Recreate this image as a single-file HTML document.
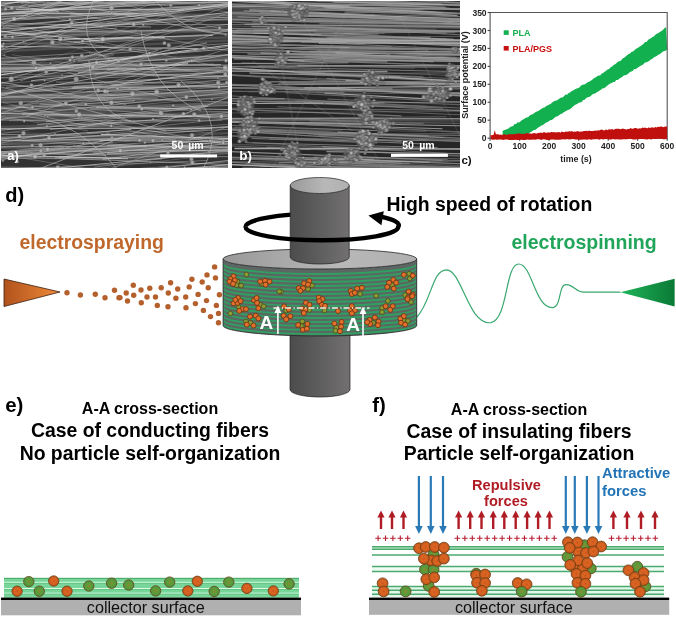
<!DOCTYPE html><html><head><meta charset="utf-8"><style>html,body{margin:0;padding:0;background:#fff;}svg{display:block;}text{font-family:"Liberation Sans",sans-serif;}</style></head><body>
<svg width="676" height="617" viewBox="0 0 676 617">
<defs><filter id="blr" x="-5%" y="-5%" width="110%" height="110%"><feGaussianBlur stdDeviation="0.75"/></filter><filter id="blr2" x="-5%" y="-5%" width="110%" height="110%"><feGaussianBlur stdDeviation="0.7"/></filter></defs>
<svg x="1" y="1" width="227" height="167" viewBox="0 0 227 167">
<g filter="url(#blr)"><rect x="-3" y="-3" width="233" height="173" fill="#303030"/>
<line x1="-5" y1="50.6" x2="232" y2="39.3" stroke="#707070" stroke-width="2.5" opacity="0.45"/>
<line x1="-5" y1="3.5" x2="232" y2="-0.8" stroke="#707070" stroke-width="2.0" opacity="0.45"/>
<line x1="-5" y1="0.8" x2="232" y2="-4.0" stroke="#707070" stroke-width="1.6" opacity="0.45"/>
<line x1="-5" y1="71.1" x2="232" y2="58.3" stroke="#707070" stroke-width="1.6" opacity="0.45"/>
<line x1="-5" y1="69.4" x2="232" y2="70.3" stroke="#707070" stroke-width="1.7" opacity="0.45"/>
<line x1="-5" y1="31.7" x2="232" y2="29.0" stroke="#707070" stroke-width="2.9" opacity="0.45"/>
<line x1="-5" y1="97.9" x2="232" y2="91.1" stroke="#707070" stroke-width="3.0" opacity="0.45"/>
<line x1="-5" y1="-1.3" x2="232" y2="0.2" stroke="#707070" stroke-width="1.9" opacity="0.45"/>
<line x1="-5" y1="17.0" x2="232" y2="5.1" stroke="#707070" stroke-width="2.0" opacity="0.45"/>
<line x1="-5" y1="142.6" x2="232" y2="131.9" stroke="#707070" stroke-width="2.4" opacity="0.45"/>
<line x1="-5" y1="109.5" x2="232" y2="102.2" stroke="#707070" stroke-width="2.3" opacity="0.45"/>
<line x1="-5" y1="1.7" x2="232" y2="-11.2" stroke="#707070" stroke-width="1.8" opacity="0.45"/>
<line x1="-5" y1="117.2" x2="232" y2="110.9" stroke="#707070" stroke-width="2.0" opacity="0.45"/>
<line x1="-5" y1="99.5" x2="232" y2="93.7" stroke="#707070" stroke-width="1.9" opacity="0.45"/>
<line x1="-5" y1="138.5" x2="232" y2="137.1" stroke="#707070" stroke-width="1.9" opacity="0.45"/>
<line x1="-5" y1="97.4" x2="232" y2="92.9" stroke="#707070" stroke-width="2.8" opacity="0.45"/>
<line x1="-5" y1="126.4" x2="232" y2="117.6" stroke="#707070" stroke-width="3.0" opacity="0.45"/>
<line x1="-5" y1="12.1" x2="232" y2="5.6" stroke="#707070" stroke-width="2.6" opacity="0.45"/>
<line x1="-5" y1="18.4" x2="232" y2="13.2" stroke="#707070" stroke-width="1.6" opacity="0.45"/>
<line x1="-5" y1="115.0" x2="232" y2="114.7" stroke="#707070" stroke-width="2.4" opacity="0.45"/>
<line x1="-5" y1="153.7" x2="232" y2="145.4" stroke="#707070" stroke-width="2.5" opacity="0.45"/>
<line x1="-5" y1="101.1" x2="232" y2="97.6" stroke="#707070" stroke-width="2.2" opacity="0.45"/>
<line x1="-5" y1="147.1" x2="232" y2="150.1" stroke="#707070" stroke-width="2.2" opacity="0.45"/>
<line x1="-5" y1="114.2" x2="232" y2="101.3" stroke="#707070" stroke-width="2.6" opacity="0.45"/>
<line x1="-5" y1="111.0" x2="232" y2="114.9" stroke="#707070" stroke-width="2.7" opacity="0.45"/>
<line x1="-5" y1="43.2" x2="232" y2="36.2" stroke="#707070" stroke-width="2.5" opacity="0.45"/>
<line x1="-5" y1="-5.8" x2="232" y2="-11.5" stroke="#707070" stroke-width="1.8" opacity="0.45"/>
<line x1="-5" y1="11.9" x2="232" y2="-1.0" stroke="#707070" stroke-width="2.7" opacity="0.45"/>
<line x1="-5" y1="14.2" x2="232" y2="4.6" stroke="#707070" stroke-width="2.1" opacity="0.45"/>
<line x1="-5" y1="153.0" x2="232" y2="140.4" stroke="#707070" stroke-width="2.2" opacity="0.45"/>
<line x1="-5" y1="92.7" x2="232" y2="94.6" stroke="#707070" stroke-width="2.7" opacity="0.45"/>
<line x1="-5" y1="151.6" x2="232" y2="142.6" stroke="#707070" stroke-width="2.1" opacity="0.45"/>
<line x1="-5" y1="57.1" x2="232" y2="59.0" stroke="#707070" stroke-width="2.9" opacity="0.45"/>
<line x1="-5" y1="18.2" x2="232" y2="7.4" stroke="#707070" stroke-width="1.8" opacity="0.45"/>
<line x1="-5" y1="33.6" x2="232" y2="28.4" stroke="#707070" stroke-width="2.4" opacity="0.45"/>
<line x1="-5" y1="39.1" x2="232" y2="25.2" stroke="#707070" stroke-width="2.1" opacity="0.45"/>
<line x1="-5" y1="59.1" x2="232" y2="55.2" stroke="#707070" stroke-width="2.9" opacity="0.45"/>
<line x1="-5" y1="119.1" x2="232" y2="114.4" stroke="#707070" stroke-width="2.4" opacity="0.45"/>
<line x1="-5" y1="116.4" x2="232" y2="103.4" stroke="#707070" stroke-width="2.8" opacity="0.45"/>
<line x1="-5" y1="135.9" x2="232" y2="137.6" stroke="#707070" stroke-width="2.7" opacity="0.45"/>
<line x1="-5" y1="63.4" x2="232" y2="56.6" stroke="#707070" stroke-width="1.7" opacity="0.45"/>
<line x1="-5" y1="108.6" x2="232" y2="95.7" stroke="#707070" stroke-width="1.6" opacity="0.45"/>
<line x1="-5" y1="29.0" x2="232" y2="18.0" stroke="#707070" stroke-width="2.0" opacity="0.45"/>
<line x1="-5" y1="-0.2" x2="232" y2="-14.2" stroke="#707070" stroke-width="1.7" opacity="0.45"/>
<line x1="-5" y1="9.0" x2="232" y2="1.5" stroke="#707070" stroke-width="1.5" opacity="0.45"/>
<line x1="-5" y1="153.5" x2="232" y2="150.6" stroke="#707070" stroke-width="1.7" opacity="0.45"/>
<line x1="-5" y1="37.2" x2="232" y2="29.4" stroke="#707070" stroke-width="2.0" opacity="0.45"/>
<line x1="-5" y1="13.0" x2="232" y2="14.3" stroke="#707070" stroke-width="3.0" opacity="0.45"/>
<line x1="-5" y1="77.1" x2="232" y2="71.8" stroke="#707070" stroke-width="1.6" opacity="0.45"/>
<line x1="-5" y1="9.1" x2="232" y2="1.3" stroke="#707070" stroke-width="1.9" opacity="0.45"/>
<line x1="102" y1="158.2" x2="358" y2="125.8" stroke="rgb(168,168,168)" stroke-width="0.93" opacity="0.82"/>
<line x1="-99" y1="142.1" x2="227" y2="135.3" stroke="rgb(216,216,216)" stroke-width="0.75" opacity="0.52"/>
<line x1="-43" y1="145.2" x2="146" y2="145.7" stroke="rgb(174,174,174)" stroke-width="0.99" opacity="0.78"/>
<line x1="-37" y1="138.0" x2="109" y2="131.8" stroke="rgb(153,153,153)" stroke-width="0.98" opacity="0.64"/>
<line x1="69" y1="14.0" x2="368" y2="-7.4" stroke="rgb(194,194,194)" stroke-width="1.08" opacity="0.60"/>
<line x1="-72" y1="20.0" x2="205" y2="-6.7" stroke="rgb(150,150,150)" stroke-width="0.81" opacity="0.71"/>
<line x1="92" y1="151.5" x2="405" y2="146.0" stroke="rgb(175,175,175)" stroke-width="0.81" opacity="0.52"/>
<line x1="107" y1="149.1" x2="334" y2="150.5" stroke="rgb(201,201,201)" stroke-width="0.96" opacity="0.48"/>
<line x1="18" y1="6.1" x2="260" y2="-86.2" stroke="rgb(168,168,168)" stroke-width="0.89" opacity="0.69"/>
<line x1="8" y1="77.7" x2="153" y2="35.6" stroke="rgb(163,163,163)" stroke-width="0.84" opacity="0.82"/>
<line x1="-71" y1="68.5" x2="125" y2="103.3" stroke="rgb(187,187,187)" stroke-width="0.83" opacity="0.76"/>
<line x1="-106" y1="44.0" x2="197" y2="47.6" stroke="rgb(208,208,208)" stroke-width="0.91" opacity="0.78"/>
<line x1="-89" y1="87.3" x2="84" y2="124.5" stroke="rgb(215,215,215)" stroke-width="0.56" opacity="0.63"/>
<line x1="-80" y1="11.6" x2="164" y2="13.0" stroke="rgb(165,165,165)" stroke-width="0.86" opacity="0.58"/>
<line x1="-95" y1="87.7" x2="168" y2="88.5" stroke="rgb(181,181,181)" stroke-width="0.66" opacity="0.47"/>
<line x1="89" y1="-7.8" x2="243" y2="-27.1" stroke="rgb(191,191,191)" stroke-width="0.89" opacity="0.65"/>
<line x1="5" y1="86.3" x2="250" y2="73.2" stroke="rgb(181,181,181)" stroke-width="0.93" opacity="0.80"/>
<line x1="100" y1="183.9" x2="425" y2="172.5" stroke="rgb(167,167,167)" stroke-width="0.78" opacity="0.61"/>
<line x1="-70" y1="41.7" x2="136" y2="29.9" stroke="rgb(165,165,165)" stroke-width="1.04" opacity="0.51"/>
<line x1="86" y1="132.6" x2="439" y2="95.3" stroke="rgb(178,178,178)" stroke-width="0.96" opacity="0.49"/>
<line x1="-68" y1="170.9" x2="228" y2="166.0" stroke="rgb(215,215,215)" stroke-width="0.77" opacity="0.62"/>
<line x1="-41" y1="51.0" x2="200" y2="34.6" stroke="rgb(152,152,152)" stroke-width="0.76" opacity="0.66"/>
<line x1="94" y1="37.1" x2="285" y2="-24.0" stroke="rgb(163,163,163)" stroke-width="0.60" opacity="0.56"/>
<line x1="71" y1="175.6" x2="398" y2="175.1" stroke="rgb(183,183,183)" stroke-width="0.77" opacity="0.66"/>
<line x1="-55" y1="86.9" x2="261" y2="63.4" stroke="rgb(173,173,173)" stroke-width="0.78" opacity="0.48"/>
<line x1="-100" y1="183.0" x2="228" y2="185.1" stroke="rgb(158,158,158)" stroke-width="0.70" opacity="0.50"/>
<line x1="94" y1="-27.4" x2="371" y2="-57.2" stroke="rgb(155,155,155)" stroke-width="0.84" opacity="0.55"/>
<line x1="-73" y1="-5.2" x2="136" y2="-30.5" stroke="rgb(189,189,189)" stroke-width="0.84" opacity="0.53"/>
<line x1="68" y1="71.2" x2="426" y2="41.0" stroke="rgb(154,154,154)" stroke-width="0.56" opacity="0.74"/>
<line x1="98" y1="95.1" x2="262" y2="87.0" stroke="rgb(205,205,205)" stroke-width="0.91" opacity="0.67"/>
<line x1="-70" y1="171.7" x2="121" y2="136.6" stroke="rgb(175,175,175)" stroke-width="1.01" opacity="0.73"/>
<line x1="-107" y1="114.4" x2="61" y2="102.4" stroke="rgb(159,159,159)" stroke-width="0.89" opacity="0.80"/>
<line x1="-31" y1="67.8" x2="220" y2="63.5" stroke="rgb(186,186,186)" stroke-width="0.88" opacity="0.73"/>
<line x1="-119" y1="-19.7" x2="101" y2="-38.3" stroke="rgb(192,192,192)" stroke-width="1.08" opacity="0.67"/>
<line x1="-37" y1="25.5" x2="103" y2="-0.2" stroke="rgb(198,198,198)" stroke-width="0.60" opacity="0.56"/>
<line x1="-99" y1="118.9" x2="221" y2="119.5" stroke="rgb(168,168,168)" stroke-width="0.77" opacity="0.47"/>
<line x1="17" y1="-24.9" x2="273" y2="-48.1" stroke="rgb(169,169,169)" stroke-width="0.91" opacity="0.74"/>
<line x1="110" y1="169.6" x2="283" y2="156.7" stroke="rgb(168,168,168)" stroke-width="0.57" opacity="0.78"/>
<line x1="70" y1="172.5" x2="240" y2="171.6" stroke="rgb(217,217,217)" stroke-width="0.96" opacity="0.68"/>
<line x1="66" y1="154.5" x2="363" y2="150.6" stroke="rgb(179,179,179)" stroke-width="0.60" opacity="0.47"/>
<line x1="-15" y1="114.6" x2="137" y2="94.0" stroke="rgb(152,152,152)" stroke-width="0.89" opacity="0.72"/>
<line x1="55" y1="81.1" x2="305" y2="82.5" stroke="rgb(218,218,218)" stroke-width="0.60" opacity="0.66"/>
<line x1="78" y1="139.3" x2="269" y2="140.7" stroke="rgb(176,176,176)" stroke-width="0.68" opacity="0.71"/>
<line x1="93" y1="74.5" x2="296" y2="4.1" stroke="rgb(155,155,155)" stroke-width="0.89" opacity="0.71"/>
<line x1="54" y1="-12.4" x2="261" y2="-30.4" stroke="rgb(167,167,167)" stroke-width="0.56" opacity="0.47"/>
<line x1="38" y1="31.0" x2="242" y2="28.5" stroke="rgb(216,216,216)" stroke-width="0.71" opacity="0.64"/>
<line x1="-47" y1="144.1" x2="112" y2="141.7" stroke="rgb(210,210,210)" stroke-width="0.56" opacity="0.63"/>
<line x1="-57" y1="156.1" x2="129" y2="140.2" stroke="rgb(176,176,176)" stroke-width="0.59" opacity="0.49"/>
<line x1="21" y1="139.7" x2="300" y2="120.5" stroke="rgb(185,185,185)" stroke-width="1.04" opacity="0.73"/>
<line x1="-114" y1="22.5" x2="27" y2="14.1" stroke="rgb(212,212,212)" stroke-width="0.92" opacity="0.61"/>
<line x1="-92" y1="135.1" x2="121" y2="121.0" stroke="rgb(191,191,191)" stroke-width="0.96" opacity="0.79"/>
<line x1="91" y1="-2.8" x2="294" y2="17.4" stroke="rgb(197,197,197)" stroke-width="0.59" opacity="0.61"/>
<line x1="56" y1="167.5" x2="384" y2="176.4" stroke="rgb(185,185,185)" stroke-width="0.61" opacity="0.78"/>
<line x1="-58" y1="34.8" x2="194" y2="-22.1" stroke="rgb(174,174,174)" stroke-width="0.98" opacity="0.76"/>
<line x1="-27" y1="67.1" x2="306" y2="66.9" stroke="rgb(220,220,220)" stroke-width="0.85" opacity="0.74"/>
<line x1="56" y1="-18.8" x2="338" y2="-33.8" stroke="rgb(186,186,186)" stroke-width="0.82" opacity="0.81"/>
<line x1="-54" y1="94.9" x2="142" y2="83.2" stroke="rgb(183,183,183)" stroke-width="0.77" opacity="0.55"/>
<line x1="30" y1="79.7" x2="187" y2="62.5" stroke="rgb(214,214,214)" stroke-width="1.05" opacity="0.65"/>
<line x1="-15" y1="19.9" x2="156" y2="70.7" stroke="rgb(174,174,174)" stroke-width="0.68" opacity="0.52"/>
<line x1="69" y1="96.2" x2="253" y2="83.8" stroke="rgb(152,152,152)" stroke-width="0.96" opacity="0.62"/>
<line x1="-41" y1="64.0" x2="113" y2="53.8" stroke="rgb(185,185,185)" stroke-width="0.87" opacity="0.59"/>
<line x1="78" y1="125.9" x2="239" y2="126.6" stroke="rgb(181,181,181)" stroke-width="0.76" opacity="0.71"/>
<line x1="106" y1="68.0" x2="274" y2="69.4" stroke="rgb(204,204,204)" stroke-width="0.94" opacity="0.81"/>
<line x1="-29" y1="77.4" x2="315" y2="32.7" stroke="rgb(217,217,217)" stroke-width="1.02" opacity="0.84"/>
<line x1="2" y1="26.4" x2="292" y2="-3.7" stroke="rgb(208,208,208)" stroke-width="0.60" opacity="0.76"/>
<line x1="-111" y1="-29.7" x2="186" y2="-39.6" stroke="rgb(166,166,166)" stroke-width="0.89" opacity="0.66"/>
<line x1="-50" y1="69.3" x2="298" y2="-45.5" stroke="rgb(174,174,174)" stroke-width="0.76" opacity="0.54"/>
<line x1="-12" y1="106.4" x2="339" y2="78.8" stroke="rgb(181,181,181)" stroke-width="0.81" opacity="0.54"/>
<line x1="-48" y1="26.1" x2="97" y2="39.6" stroke="rgb(213,213,213)" stroke-width="1.04" opacity="0.71"/>
<line x1="-34" y1="-11.6" x2="215" y2="-26.0" stroke="rgb(193,193,193)" stroke-width="0.95" opacity="0.59"/>
<line x1="77" y1="60.0" x2="232" y2="47.5" stroke="rgb(213,213,213)" stroke-width="1.08" opacity="0.57"/>
<line x1="58" y1="156.1" x2="262" y2="137.2" stroke="rgb(213,213,213)" stroke-width="0.89" opacity="0.81"/>
<line x1="19" y1="80.1" x2="362" y2="-43.5" stroke="rgb(156,156,156)" stroke-width="0.67" opacity="0.84"/>
<line x1="-28" y1="2.2" x2="309" y2="-38.2" stroke="rgb(190,190,190)" stroke-width="0.95" opacity="0.85"/>
<line x1="99" y1="181.5" x2="403" y2="151.5" stroke="rgb(154,154,154)" stroke-width="0.72" opacity="0.74"/>
<line x1="-95" y1="160.5" x2="63" y2="146.3" stroke="rgb(160,160,160)" stroke-width="0.74" opacity="0.83"/>
<line x1="-37" y1="-1.9" x2="284" y2="-83.7" stroke="rgb(205,205,205)" stroke-width="0.60" opacity="0.73"/>
<line x1="-45" y1="14.4" x2="258" y2="-1.9" stroke="rgb(210,210,210)" stroke-width="0.57" opacity="0.61"/>
<line x1="-112" y1="154.3" x2="42" y2="97.2" stroke="rgb(157,157,157)" stroke-width="0.69" opacity="0.75"/>
<line x1="104" y1="174.0" x2="379" y2="150.9" stroke="rgb(183,183,183)" stroke-width="0.96" opacity="0.73"/>
<line x1="19" y1="179.8" x2="336" y2="177.5" stroke="rgb(158,158,158)" stroke-width="0.56" opacity="0.54"/>
<line x1="-30" y1="77.9" x2="165" y2="130.1" stroke="rgb(205,205,205)" stroke-width="1.00" opacity="0.50"/>
<line x1="-49" y1="82.7" x2="243" y2="91.0" stroke="rgb(169,169,169)" stroke-width="0.88" opacity="0.58"/>
<line x1="-102" y1="42.5" x2="82" y2="43.1" stroke="rgb(170,170,170)" stroke-width="0.69" opacity="0.48"/>
<line x1="109" y1="-22.3" x2="443" y2="-47.3" stroke="rgb(159,159,159)" stroke-width="0.70" opacity="0.48"/>
<line x1="-16" y1="-8.1" x2="176" y2="-9.9" stroke="rgb(203,203,203)" stroke-width="0.80" opacity="0.81"/>
<line x1="57" y1="23.3" x2="369" y2="23.8" stroke="rgb(187,187,187)" stroke-width="0.71" opacity="0.68"/>
<line x1="-62" y1="54.7" x2="132" y2="36.0" stroke="rgb(169,169,169)" stroke-width="0.70" opacity="0.81"/>
<line x1="-63" y1="12.7" x2="193" y2="-9.6" stroke="rgb(162,162,162)" stroke-width="0.91" opacity="0.85"/>
<line x1="76" y1="-6.8" x2="417" y2="-3.6" stroke="rgb(155,155,155)" stroke-width="1.03" opacity="0.54"/>
<line x1="-75" y1="-18.6" x2="82" y2="-16.9" stroke="rgb(215,215,215)" stroke-width="1.03" opacity="0.63"/>
<line x1="-95" y1="29.0" x2="176" y2="100.0" stroke="rgb(194,194,194)" stroke-width="0.67" opacity="0.60"/>
<line x1="20" y1="2.1" x2="303" y2="-22.5" stroke="rgb(176,176,176)" stroke-width="1.00" opacity="0.78"/>
<line x1="-102" y1="62.8" x2="45" y2="59.3" stroke="rgb(213,213,213)" stroke-width="0.85" opacity="0.48"/>
<line x1="29" y1="-7.0" x2="189" y2="-12.8" stroke="rgb(170,170,170)" stroke-width="0.77" opacity="0.56"/>
<line x1="-108" y1="194.3" x2="196" y2="176.4" stroke="rgb(195,195,195)" stroke-width="0.78" opacity="0.46"/>
<line x1="-29" y1="144.0" x2="200" y2="155.7" stroke="rgb(150,150,150)" stroke-width="0.79" opacity="0.51"/>
<line x1="-35" y1="-4.2" x2="275" y2="-14.1" stroke="rgb(166,166,166)" stroke-width="0.56" opacity="0.67"/>
<line x1="25" y1="115.4" x2="247" y2="40.6" stroke="rgb(214,214,214)" stroke-width="0.64" opacity="0.59"/>
<line x1="-30" y1="6.7" x2="275" y2="-29.5" stroke="rgb(175,175,175)" stroke-width="0.72" opacity="0.78"/>
<line x1="22" y1="-20.1" x2="302" y2="-70.5" stroke="rgb(161,161,161)" stroke-width="1.05" opacity="0.70"/>
<line x1="-68" y1="157.2" x2="161" y2="158.0" stroke="rgb(175,175,175)" stroke-width="1.01" opacity="0.52"/>
<line x1="-30" y1="19.5" x2="137" y2="12.5" stroke="rgb(181,181,181)" stroke-width="1.08" opacity="0.78"/>
<line x1="37" y1="13.7" x2="324" y2="68.2" stroke="rgb(191,191,191)" stroke-width="0.61" opacity="0.69"/>
<line x1="-22" y1="94.9" x2="246" y2="74.0" stroke="rgb(204,204,204)" stroke-width="0.76" opacity="0.60"/>
<line x1="110" y1="84.3" x2="353" y2="53.0" stroke="rgb(207,207,207)" stroke-width="0.97" opacity="0.76"/>
<line x1="-95" y1="74.0" x2="73" y2="65.7" stroke="rgb(205,205,205)" stroke-width="0.75" opacity="0.77"/>
<line x1="-90" y1="84.5" x2="253" y2="42.3" stroke="rgb(190,190,190)" stroke-width="0.98" opacity="0.65"/>
<line x1="102" y1="-17.7" x2="272" y2="-28.9" stroke="rgb(158,158,158)" stroke-width="1.10" opacity="0.74"/>
<line x1="-5" y1="155.0" x2="345" y2="167.9" stroke="rgb(171,171,171)" stroke-width="0.93" opacity="0.74"/>
<line x1="-61" y1="20.2" x2="150" y2="26.0" stroke="rgb(185,185,185)" stroke-width="1.05" opacity="0.63"/>
<line x1="18" y1="27.7" x2="294" y2="10.1" stroke="rgb(180,180,180)" stroke-width="0.73" opacity="0.46"/>
<line x1="39" y1="11.3" x2="376" y2="21.2" stroke="rgb(171,171,171)" stroke-width="0.99" opacity="0.56"/>
<line x1="106" y1="144.4" x2="345" y2="148.2" stroke="rgb(216,216,216)" stroke-width="0.87" opacity="0.80"/>
<line x1="-28" y1="-6.3" x2="288" y2="6.6" stroke="rgb(183,183,183)" stroke-width="0.76" opacity="0.60"/>
<line x1="-66" y1="3.2" x2="209" y2="-28.8" stroke="rgb(156,156,156)" stroke-width="0.71" opacity="0.66"/>
<line x1="97" y1="40.4" x2="434" y2="110.9" stroke="rgb(150,150,150)" stroke-width="0.96" opacity="0.54"/>
<line x1="-35" y1="36.1" x2="116" y2="27.2" stroke="rgb(212,212,212)" stroke-width="0.67" opacity="0.71"/>
<line x1="-95" y1="-24.9" x2="123" y2="-40.2" stroke="rgb(178,178,178)" stroke-width="0.78" opacity="0.57"/>
<line x1="-83" y1="0.4" x2="60" y2="1.9" stroke="rgb(181,181,181)" stroke-width="0.94" opacity="0.63"/>
<line x1="-57" y1="-15.5" x2="262" y2="-20.9" stroke="rgb(151,151,151)" stroke-width="0.58" opacity="0.78"/>
<line x1="21" y1="172.6" x2="274" y2="164.6" stroke="rgb(213,213,213)" stroke-width="0.69" opacity="0.81"/>
<line x1="-65" y1="-20.0" x2="88" y2="-29.3" stroke="rgb(163,163,163)" stroke-width="0.56" opacity="0.67"/>
<line x1="22" y1="183.6" x2="274" y2="159.4" stroke="rgb(203,203,203)" stroke-width="1.00" opacity="0.52"/>
<line x1="88" y1="40.2" x2="400" y2="2.2" stroke="rgb(218,218,218)" stroke-width="0.55" opacity="0.79"/>
<line x1="-14" y1="139.2" x2="175" y2="138.4" stroke="rgb(163,163,163)" stroke-width="0.69" opacity="0.71"/>
<line x1="100" y1="-2.0" x2="298" y2="47.0" stroke="rgb(156,156,156)" stroke-width="0.70" opacity="0.67"/>
<line x1="-58" y1="69.0" x2="223" y2="59.5" stroke="rgb(177,177,177)" stroke-width="0.60" opacity="0.65"/>
<line x1="-73" y1="8.5" x2="102" y2="41.7" stroke="rgb(191,191,191)" stroke-width="0.66" opacity="0.61"/>
<line x1="95" y1="106.5" x2="451" y2="111.8" stroke="rgb(218,218,218)" stroke-width="0.81" opacity="0.79"/>
<line x1="49" y1="128.4" x2="315" y2="103.4" stroke="rgb(189,189,189)" stroke-width="0.98" opacity="0.61"/>
<line x1="-112" y1="102.9" x2="52" y2="86.3" stroke="rgb(170,170,170)" stroke-width="0.74" opacity="0.51"/>
<line x1="28" y1="-23.5" x2="321" y2="-27.1" stroke="rgb(155,155,155)" stroke-width="0.59" opacity="0.69"/>
<line x1="88" y1="52.5" x2="243" y2="79.3" stroke="rgb(199,199,199)" stroke-width="0.61" opacity="0.53"/>
<line x1="70" y1="-4.6" x2="349" y2="-0.6" stroke="rgb(186,186,186)" stroke-width="0.81" opacity="0.50"/>
<line x1="-41" y1="149.8" x2="156" y2="134.0" stroke="rgb(194,194,194)" stroke-width="0.69" opacity="0.56"/>
<line x1="105" y1="132.5" x2="356" y2="113.6" stroke="rgb(186,186,186)" stroke-width="0.89" opacity="0.46"/>
<line x1="-39" y1="63.7" x2="256" y2="64.2" stroke="rgb(218,218,218)" stroke-width="0.86" opacity="0.74"/>
<line x1="-18" y1="157.9" x2="237" y2="137.2" stroke="rgb(186,186,186)" stroke-width="0.97" opacity="0.84"/>
<line x1="66" y1="-29.0" x2="247" y2="-37.4" stroke="rgb(213,213,213)" stroke-width="0.88" opacity="0.83"/>
<line x1="70" y1="86.9" x2="417" y2="51.3" stroke="rgb(179,179,179)" stroke-width="0.82" opacity="0.49"/>
<line x1="43" y1="114.5" x2="356" y2="115.7" stroke="rgb(191,191,191)" stroke-width="0.75" opacity="0.61"/>
<line x1="87" y1="59.6" x2="233" y2="10.1" stroke="rgb(176,176,176)" stroke-width="0.72" opacity="0.62"/>
<line x1="27" y1="93.7" x2="375" y2="106.6" stroke="rgb(166,166,166)" stroke-width="0.84" opacity="0.75"/>
<line x1="-44" y1="140.9" x2="130" y2="128.6" stroke="rgb(207,207,207)" stroke-width="0.91" opacity="0.75"/>
<line x1="15" y1="8.5" x2="183" y2="8.7" stroke="rgb(209,209,209)" stroke-width="0.90" opacity="0.73"/>
<line x1="73" y1="85.2" x2="349" y2="84.8" stroke="rgb(169,169,169)" stroke-width="1.09" opacity="0.74"/>
<line x1="103" y1="106.9" x2="300" y2="89.2" stroke="rgb(163,163,163)" stroke-width="0.64" opacity="0.71"/>
<line x1="-49" y1="14.4" x2="156" y2="-7.2" stroke="rgb(185,185,185)" stroke-width="0.66" opacity="0.71"/>
<line x1="-112" y1="-5.7" x2="116" y2="-20.3" stroke="rgb(205,205,205)" stroke-width="0.93" opacity="0.65"/>
<line x1="21" y1="113.5" x2="250" y2="89.3" stroke="rgb(181,181,181)" stroke-width="1.05" opacity="0.62"/>
<line x1="-67" y1="100.3" x2="232" y2="82.8" stroke="rgb(179,179,179)" stroke-width="0.92" opacity="0.71"/>
<line x1="-97" y1="73.0" x2="135" y2="67.6" stroke="rgb(201,201,201)" stroke-width="0.94" opacity="0.70"/>
<line x1="25" y1="26.8" x2="255" y2="14.7" stroke="rgb(173,173,173)" stroke-width="1.04" opacity="0.58"/>
<line x1="-95" y1="-27.6" x2="100" y2="18.4" stroke="rgb(177,177,177)" stroke-width="0.64" opacity="0.76"/>
<line x1="14" y1="183.5" x2="273" y2="154.3" stroke="rgb(210,210,210)" stroke-width="0.83" opacity="0.71"/>
<line x1="101" y1="158.2" x2="288" y2="147.0" stroke="rgb(173,173,173)" stroke-width="0.77" opacity="0.76"/>
<line x1="-107" y1="-2.2" x2="94" y2="-32.5" stroke="rgb(201,201,201)" stroke-width="0.58" opacity="0.48"/>
<line x1="15" y1="177.8" x2="180" y2="175.3" stroke="rgb(188,188,188)" stroke-width="0.96" opacity="0.83"/>
<line x1="-28" y1="89.6" x2="158" y2="90.8" stroke="rgb(166,166,166)" stroke-width="1.06" opacity="0.48"/>
<line x1="48" y1="151.2" x2="368" y2="144.6" stroke="rgb(168,168,168)" stroke-width="0.74" opacity="0.71"/>
<line x1="-51" y1="155.9" x2="209" y2="137.0" stroke="rgb(166,166,166)" stroke-width="0.98" opacity="0.64"/>
<line x1="41" y1="147.9" x2="397" y2="144.2" stroke="rgb(173,173,173)" stroke-width="0.81" opacity="0.77"/>
<line x1="-45" y1="151.4" x2="201" y2="146.7" stroke="rgb(160,160,160)" stroke-width="0.91" opacity="0.59"/>
<line x1="73" y1="180.8" x2="413" y2="58.7" stroke="rgb(167,167,167)" stroke-width="0.84" opacity="0.59"/>
<line x1="-103" y1="102.2" x2="101" y2="82.9" stroke="rgb(162,162,162)" stroke-width="0.87" opacity="0.79"/>
<line x1="-71" y1="12.1" x2="157" y2="12.9" stroke="rgb(218,218,218)" stroke-width="0.64" opacity="0.81"/>
<line x1="89" y1="108.1" x2="402" y2="129.4" stroke="rgb(188,188,188)" stroke-width="0.66" opacity="0.73"/>
<line x1="86" y1="90.5" x2="348" y2="76.0" stroke="rgb(183,183,183)" stroke-width="0.78" opacity="0.78"/>
<line x1="91" y1="77.4" x2="386" y2="63.4" stroke="rgb(181,181,181)" stroke-width="0.82" opacity="0.67"/>
<line x1="-11" y1="165.9" x2="253" y2="169.3" stroke="rgb(187,187,187)" stroke-width="1.01" opacity="0.60"/>
<line x1="29" y1="65.1" x2="309" y2="-32.1" stroke="rgb(153,153,153)" stroke-width="0.56" opacity="0.47"/>
<line x1="-98" y1="137.2" x2="148" y2="178.1" stroke="rgb(168,168,168)" stroke-width="0.57" opacity="0.74"/>
<line x1="-35" y1="111.9" x2="210" y2="116.0" stroke="rgb(217,217,217)" stroke-width="0.85" opacity="0.81"/>
<line x1="-108" y1="34.5" x2="96" y2="16.7" stroke="rgb(195,195,195)" stroke-width="1.01" opacity="0.61"/>
<line x1="108" y1="84.4" x2="392" y2="71.9" stroke="rgb(165,165,165)" stroke-width="0.73" opacity="0.58"/>
<line x1="63" y1="37.9" x2="212" y2="34.6" stroke="rgb(220,220,220)" stroke-width="1.04" opacity="0.67"/>
<line x1="-76" y1="-18.7" x2="267" y2="-62.9" stroke="rgb(157,157,157)" stroke-width="0.98" opacity="0.81"/>
<line x1="43" y1="108.9" x2="314" y2="102.5" stroke="rgb(160,160,160)" stroke-width="0.67" opacity="0.72"/>
<line x1="-78" y1="73.9" x2="70" y2="25.2" stroke="rgb(162,162,162)" stroke-width="1.05" opacity="0.71"/>
<line x1="11" y1="53.7" x2="208" y2="83.4" stroke="rgb(188,188,188)" stroke-width="0.65" opacity="0.46"/>
<line x1="93" y1="-25.4" x2="343" y2="-33.3" stroke="rgb(216,216,216)" stroke-width="0.57" opacity="0.50"/>
<line x1="-16" y1="153.9" x2="127" y2="157.7" stroke="rgb(199,199,199)" stroke-width="0.88" opacity="0.85"/>
<line x1="8" y1="119.7" x2="166" y2="119.8" stroke="rgb(210,210,210)" stroke-width="0.67" opacity="0.51"/>
<line x1="-92" y1="-26.5" x2="261" y2="-31.3" stroke="rgb(161,161,161)" stroke-width="0.67" opacity="0.50"/>
<line x1="-15" y1="77.2" x2="289" y2="67.1" stroke="rgb(156,156,156)" stroke-width="0.75" opacity="0.75"/>
<line x1="-52" y1="127.7" x2="211" y2="127.5" stroke="rgb(213,213,213)" stroke-width="0.80" opacity="0.82"/>
<line x1="-117" y1="27.7" x2="26" y2="42.3" stroke="rgb(160,160,160)" stroke-width="0.76" opacity="0.57"/>
<line x1="22" y1="106.2" x2="232" y2="144.9" stroke="rgb(206,206,206)" stroke-width="0.81" opacity="0.52"/>
<line x1="-82" y1="189.4" x2="235" y2="199.5" stroke="rgb(211,211,211)" stroke-width="0.76" opacity="0.76"/>
<line x1="-52" y1="184.5" x2="102" y2="184.0" stroke="rgb(192,192,192)" stroke-width="1.03" opacity="0.74"/>
<line x1="17" y1="-26.5" x2="371" y2="-22.4" stroke="rgb(181,181,181)" stroke-width="0.76" opacity="0.72"/>
<line x1="-54" y1="106.6" x2="87" y2="129.8" stroke="rgb(183,183,183)" stroke-width="0.70" opacity="0.51"/>
<line x1="-53" y1="179.0" x2="118" y2="204.3" stroke="rgb(168,168,168)" stroke-width="0.70" opacity="0.79"/>
<line x1="-39" y1="153.2" x2="120" y2="157.2" stroke="rgb(220,220,220)" stroke-width="0.82" opacity="0.60"/>
<line x1="-48" y1="148.8" x2="105" y2="154.5" stroke="rgb(200,200,200)" stroke-width="0.81" opacity="0.53"/>
<line x1="-13" y1="27.8" x2="147" y2="52.4" stroke="rgb(195,195,195)" stroke-width="0.97" opacity="0.54"/>
<line x1="2" y1="101.6" x2="247" y2="155.3" stroke="rgb(175,175,175)" stroke-width="0.65" opacity="0.53"/>
<line x1="12" y1="11.0" x2="240" y2="-4.6" stroke="rgb(216,216,216)" stroke-width="1.02" opacity="0.55"/>
<line x1="-33" y1="179.4" x2="209" y2="183.6" stroke="rgb(160,160,160)" stroke-width="0.64" opacity="0.69"/>
<line x1="-112" y1="48.3" x2="246" y2="3.0" stroke="rgb(212,212,212)" stroke-width="0.87" opacity="0.54"/>
<line x1="-16" y1="180.1" x2="255" y2="149.4" stroke="rgb(166,166,166)" stroke-width="0.69" opacity="0.47"/>
<line x1="-108" y1="15.6" x2="155" y2="-14.8" stroke="rgb(208,208,208)" stroke-width="0.82" opacity="0.79"/>
<line x1="95" y1="173.1" x2="391" y2="187.3" stroke="rgb(161,161,161)" stroke-width="0.69" opacity="0.68"/>
<line x1="-28" y1="115.4" x2="210" y2="131.8" stroke="rgb(170,170,170)" stroke-width="0.75" opacity="0.54"/>
<line x1="100" y1="133.6" x2="253" y2="138.2" stroke="rgb(220,220,220)" stroke-width="1.05" opacity="0.78"/>
<line x1="31" y1="-19.3" x2="388" y2="15.2" stroke="rgb(157,157,157)" stroke-width="0.61" opacity="0.58"/>
<line x1="18" y1="-28.7" x2="255" y2="-29.4" stroke="rgb(163,163,163)" stroke-width="0.81" opacity="0.60"/>
<line x1="-17" y1="58.5" x2="301" y2="37.7" stroke="rgb(151,151,151)" stroke-width="0.81" opacity="0.82"/>
<line x1="-102" y1="151.3" x2="174" y2="154.5" stroke="rgb(197,197,197)" stroke-width="1.04" opacity="0.51"/>
<line x1="77" y1="71.5" x2="355" y2="79.3" stroke="rgb(207,207,207)" stroke-width="1.08" opacity="0.58"/>
<line x1="-42" y1="23.1" x2="259" y2="2.6" stroke="rgb(173,173,173)" stroke-width="0.94" opacity="0.67"/>
<line x1="-24" y1="2.8" x2="150" y2="-34.4" stroke="rgb(184,184,184)" stroke-width="0.86" opacity="0.57"/>
<line x1="-13" y1="152.5" x2="233" y2="125.1" stroke="rgb(169,169,169)" stroke-width="1.09" opacity="0.47"/>
<line x1="-9" y1="173.2" x2="194" y2="154.1" stroke="rgb(182,182,182)" stroke-width="0.97" opacity="0.84"/>
<line x1="-64" y1="68.1" x2="161" y2="47.9" stroke="rgb(203,203,203)" stroke-width="1.04" opacity="0.47"/>
<line x1="-116" y1="134.9" x2="201" y2="146.5" stroke="rgb(193,193,193)" stroke-width="0.83" opacity="0.63"/>
<line x1="-36" y1="149.2" x2="113" y2="119.5" stroke="rgb(202,202,202)" stroke-width="0.67" opacity="0.68"/>
<line x1="46" y1="1.3" x2="229" y2="1.5" stroke="rgb(160,160,160)" stroke-width="1.01" opacity="0.81"/>
<line x1="-88" y1="135.9" x2="199" y2="56.2" stroke="rgb(174,174,174)" stroke-width="0.87" opacity="0.53"/>
<line x1="49" y1="-15.1" x2="201" y2="-24.3" stroke="rgb(194,194,194)" stroke-width="0.73" opacity="0.79"/>
<line x1="93" y1="166.2" x2="337" y2="135.1" stroke="rgb(184,184,184)" stroke-width="0.69" opacity="0.68"/>
<line x1="14" y1="193.8" x2="343" y2="190.3" stroke="rgb(195,195,195)" stroke-width="0.84" opacity="0.63"/>
<line x1="71" y1="87.0" x2="401" y2="84.2" stroke="rgb(191,191,191)" stroke-width="0.98" opacity="0.80"/>
<line x1="-95" y1="100.8" x2="206" y2="41.9" stroke="rgb(207,207,207)" stroke-width="0.83" opacity="0.66"/>
<line x1="-68" y1="92.0" x2="112" y2="98.2" stroke="rgb(163,163,163)" stroke-width="0.72" opacity="0.67"/>
<line x1="52" y1="186.9" x2="250" y2="192.3" stroke="rgb(209,209,209)" stroke-width="0.84" opacity="0.73"/>
<line x1="-109" y1="-6.6" x2="58" y2="10.4" stroke="rgb(213,213,213)" stroke-width="0.87" opacity="0.75"/>
<line x1="6" y1="-5.0" x2="196" y2="-1.2" stroke="rgb(179,179,179)" stroke-width="0.63" opacity="0.68"/>
<line x1="99" y1="139.5" x2="324" y2="141.8" stroke="rgb(203,203,203)" stroke-width="0.88" opacity="0.69"/>
<line x1="-35" y1="-21.8" x2="193" y2="-104.7" stroke="rgb(192,192,192)" stroke-width="0.94" opacity="0.79"/>
<line x1="-26" y1="98.1" x2="237" y2="51.9" stroke="rgb(191,191,191)" stroke-width="0.83" opacity="0.83"/>
<line x1="28" y1="182.1" x2="248" y2="169.3" stroke="rgb(217,217,217)" stroke-width="0.65" opacity="0.58"/>
<line x1="-22" y1="15.6" x2="206" y2="-5.3" stroke="rgb(208,208,208)" stroke-width="0.90" opacity="0.77"/>
<line x1="30" y1="170.8" x2="228" y2="96.1" stroke="rgb(184,184,184)" stroke-width="0.90" opacity="0.77"/>
<line x1="-117" y1="-21.9" x2="75" y2="-42.9" stroke="rgb(155,155,155)" stroke-width="0.71" opacity="0.57"/>
<line x1="103" y1="117.0" x2="356" y2="109.7" stroke="rgb(184,184,184)" stroke-width="0.60" opacity="0.69"/>
<line x1="87" y1="181.5" x2="428" y2="166.9" stroke="rgb(186,186,186)" stroke-width="0.70" opacity="0.74"/>
<line x1="42" y1="138.1" x2="231" y2="128.1" stroke="rgb(199,199,199)" stroke-width="0.66" opacity="0.73"/>
<line x1="-10" y1="74.6" x2="198" y2="69.2" stroke="rgb(181,181,181)" stroke-width="0.73" opacity="0.53"/>
<line x1="96" y1="93.9" x2="272" y2="72.4" stroke="rgb(180,180,180)" stroke-width="0.73" opacity="0.58"/>
<line x1="-107" y1="31.3" x2="38" y2="-4.7" stroke="rgb(220,220,220)" stroke-width="0.59" opacity="0.80"/>
<line x1="-17" y1="69.9" x2="285" y2="50.5" stroke="rgb(163,163,163)" stroke-width="0.84" opacity="0.85"/>
<line x1="36" y1="123.8" x2="207" y2="105.3" stroke="rgb(175,175,175)" stroke-width="0.89" opacity="0.79"/>
<line x1="54" y1="156.4" x2="361" y2="155.1" stroke="rgb(210,210,210)" stroke-width="0.70" opacity="0.70"/>
<line x1="-96" y1="113.5" x2="134" y2="99.7" stroke="rgb(220,220,220)" stroke-width="0.87" opacity="0.65"/>
<line x1="63" y1="188.5" x2="395" y2="169.0" stroke="rgb(164,164,164)" stroke-width="0.76" opacity="0.63"/>
<line x1="-29" y1="73.9" x2="233" y2="52.9" stroke="rgb(199,199,199)" stroke-width="0.91" opacity="0.45"/>
<line x1="-50" y1="139.3" x2="208" y2="104.8" stroke="rgb(168,168,168)" stroke-width="0.79" opacity="0.60"/>
<line x1="106" y1="22.6" x2="380" y2="-23.6" stroke="rgb(181,181,181)" stroke-width="1.08" opacity="0.53"/>
<line x1="-109" y1="66.8" x2="155" y2="-36.9" stroke="rgb(213,213,213)" stroke-width="0.71" opacity="0.66"/>
<line x1="73" y1="40.9" x2="373" y2="24.2" stroke="rgb(205,205,205)" stroke-width="0.76" opacity="0.59"/>
<line x1="38" y1="105.0" x2="294" y2="113.0" stroke="rgb(162,162,162)" stroke-width="0.78" opacity="0.65"/>
<line x1="-76" y1="117.2" x2="157" y2="49.3" stroke="rgb(201,201,201)" stroke-width="0.79" opacity="0.70"/>
<line x1="71" y1="196.1" x2="248" y2="189.0" stroke="rgb(190,190,190)" stroke-width="0.75" opacity="0.48"/>
<line x1="-51" y1="40.5" x2="164" y2="36.5" stroke="rgb(215,215,215)" stroke-width="1.04" opacity="0.62"/>
<line x1="-2" y1="5.5" x2="179" y2="-2.3" stroke="rgb(173,173,173)" stroke-width="0.58" opacity="0.68"/>
<line x1="49" y1="-5.8" x2="341" y2="-12.4" stroke="rgb(151,151,151)" stroke-width="0.98" opacity="0.57"/>
<line x1="77" y1="126.8" x2="346" y2="105.7" stroke="rgb(153,153,153)" stroke-width="0.66" opacity="0.65"/>
<line x1="4" y1="95.6" x2="363" y2="88.4" stroke="rgb(175,175,175)" stroke-width="0.78" opacity="0.50"/>
<line x1="-97" y1="5.6" x2="81" y2="-52.2" stroke="rgb(216,216,216)" stroke-width="0.82" opacity="0.64"/>
<line x1="40" y1="67.8" x2="307" y2="82.5" stroke="rgb(168,168,168)" stroke-width="0.94" opacity="0.59"/>
<line x1="91" y1="8.5" x2="359" y2="-21.9" stroke="rgb(194,194,194)" stroke-width="0.66" opacity="0.70"/>
<line x1="58" y1="-25.6" x2="208" y2="-34.9" stroke="rgb(156,156,156)" stroke-width="0.89" opacity="0.55"/>
<line x1="-46" y1="-20.0" x2="291" y2="47.0" stroke="rgb(208,208,208)" stroke-width="0.72" opacity="0.69"/>
<line x1="-63" y1="187.9" x2="162" y2="195.0" stroke="rgb(178,178,178)" stroke-width="0.78" opacity="0.61"/>
<line x1="-100" y1="131.6" x2="78" y2="134.7" stroke="rgb(198,198,198)" stroke-width="0.65" opacity="0.84"/>
<line x1="5" y1="36.0" x2="229" y2="11.2" stroke="rgb(201,201,201)" stroke-width="0.91" opacity="0.83"/>
<line x1="-30" y1="65.9" x2="213" y2="62.9" stroke="rgb(194,194,194)" stroke-width="0.68" opacity="0.46"/>
<line x1="45" y1="120.8" x2="205" y2="104.2" stroke="rgb(184,184,184)" stroke-width="0.85" opacity="0.76"/>
<line x1="-64" y1="96.0" x2="157" y2="97.1" stroke="rgb(177,177,177)" stroke-width="0.95" opacity="0.60"/>
<line x1="-2" y1="187.6" x2="188" y2="193.6" stroke="rgb(207,207,207)" stroke-width="0.92" opacity="0.83"/>
<line x1="111" y1="196.5" x2="369" y2="182.3" stroke="rgb(201,201,201)" stroke-width="0.88" opacity="0.54"/>
<line x1="7" y1="168.0" x2="206" y2="159.5" stroke="rgb(199,199,199)" stroke-width="0.57" opacity="0.74"/>
<line x1="42" y1="2.9" x2="353" y2="0.1" stroke="rgb(179,179,179)" stroke-width="0.73" opacity="0.72"/>
<line x1="-3" y1="-5.3" x2="202" y2="-19.3" stroke="rgb(158,158,158)" stroke-width="0.95" opacity="0.49"/>
<line x1="-37" y1="35.5" x2="289" y2="-3.8" stroke="rgb(209,209,209)" stroke-width="0.98" opacity="0.80"/>
<line x1="-113" y1="165.5" x2="176" y2="141.5" stroke="rgb(194,194,194)" stroke-width="1.04" opacity="0.46"/>
<line x1="-26" y1="129.8" x2="313" y2="143.3" stroke="rgb(162,162,162)" stroke-width="0.65" opacity="0.50"/>
<line x1="-111" y1="177.2" x2="38" y2="175.9" stroke="rgb(170,170,170)" stroke-width="0.79" opacity="0.75"/>
<line x1="27" y1="5.5" x2="374" y2="-7.1" stroke="rgb(179,179,179)" stroke-width="0.86" opacity="0.74"/>
<line x1="-38" y1="27.8" x2="102" y2="25.9" stroke="rgb(186,186,186)" stroke-width="1.05" opacity="0.80"/>
<line x1="39" y1="102.8" x2="187" y2="108.1" stroke="rgb(190,190,190)" stroke-width="0.67" opacity="0.82"/>
<line x1="-28" y1="140.1" x2="276" y2="136.5" stroke="rgb(178,178,178)" stroke-width="0.70" opacity="0.49"/>
<line x1="41" y1="184.8" x2="344" y2="193.3" stroke="rgb(207,207,207)" stroke-width="0.83" opacity="0.72"/>
<line x1="62" y1="16.8" x2="309" y2="20.2" stroke="rgb(174,174,174)" stroke-width="0.57" opacity="0.73"/>
<line x1="106" y1="152.9" x2="387" y2="142.5" stroke="rgb(219,219,219)" stroke-width="0.69" opacity="0.84"/>
<line x1="29" y1="8.1" x2="199" y2="-11.3" stroke="rgb(212,212,212)" stroke-width="0.92" opacity="0.55"/>
<line x1="99" y1="24.9" x2="316" y2="13.1" stroke="rgb(188,188,188)" stroke-width="0.62" opacity="0.73"/>
<line x1="-92" y1="103.4" x2="141" y2="98.0" stroke="rgb(171,171,171)" stroke-width="0.92" opacity="0.51"/>
<path d="M95,-5 Q70,40 110,60" fill="none" stroke="#bbb" stroke-width="0.8" opacity="0.75"/>
<path d="M88,60 Q90,110 130,120" fill="none" stroke="#bbb" stroke-width="0.8" opacity="0.75"/>
<path d="M140,30 Q150,90 200,110" fill="none" stroke="#bbb" stroke-width="0.8" opacity="0.75"/>
<path d="M180,80 Q230,120 200,172" fill="none" stroke="#bbb" stroke-width="0.8" opacity="0.75"/>
<path d="M-5,120 Q60,100 120,172" fill="none" stroke="#bbb" stroke-width="0.8" opacity="0.75"/>
<path d="M150,-5 Q190,40 227,30" fill="none" stroke="#bbb" stroke-width="0.8" opacity="0.75"/>
<circle cx="222.3" cy="140.2" r="1.6" fill="#bdbdbd" stroke="#505050" stroke-width="0.4" opacity="0.75"/>
<circle cx="46.8" cy="115.3" r="0.9" fill="#bdbdbd" stroke="#505050" stroke-width="0.4" opacity="0.75"/>
<circle cx="110.5" cy="7.2" r="2.4" fill="#bdbdbd" stroke="#505050" stroke-width="0.4" opacity="0.75"/>
<circle cx="69.0" cy="18.5" r="1.4" fill="#bdbdbd" stroke="#505050" stroke-width="0.4" opacity="0.75"/>
<circle cx="218.6" cy="26.9" r="1.7" fill="#bdbdbd" stroke="#505050" stroke-width="0.4" opacity="0.75"/>
<circle cx="129.2" cy="48.3" r="1.8" fill="#bdbdbd" stroke="#505050" stroke-width="0.4" opacity="0.75"/>
<circle cx="10.3" cy="78.2" r="2.6" fill="#bdbdbd" stroke="#505050" stroke-width="0.4" opacity="0.75"/>
<circle cx="110.2" cy="124.8" r="1.5" fill="#bdbdbd" stroke="#505050" stroke-width="0.4" opacity="0.75"/>
<circle cx="167.8" cy="44.2" r="2.0" fill="#bdbdbd" stroke="#505050" stroke-width="0.4" opacity="0.75"/>
<circle cx="217.2" cy="81.6" r="2.2" fill="#bdbdbd" stroke="#505050" stroke-width="0.4" opacity="0.75"/>
<circle cx="73.1" cy="60.0" r="1.1" fill="#bdbdbd" stroke="#505050" stroke-width="0.4" opacity="0.75"/>
<circle cx="64.9" cy="102.4" r="2.1" fill="#bdbdbd" stroke="#505050" stroke-width="0.4" opacity="0.75"/>
<circle cx="158.8" cy="109.1" r="1.0" fill="#bdbdbd" stroke="#505050" stroke-width="0.4" opacity="0.75"/>
<circle cx="169.7" cy="4.2" r="1.6" fill="#bdbdbd" stroke="#505050" stroke-width="0.4" opacity="0.75"/>
<circle cx="32.9" cy="61.4" r="2.5" fill="#bdbdbd" stroke="#505050" stroke-width="0.4" opacity="0.75"/>
<circle cx="119.3" cy="149.6" r="2.1" fill="#bdbdbd" stroke="#505050" stroke-width="0.4" opacity="0.75"/>
<circle cx="23.2" cy="120.0" r="1.4" fill="#bdbdbd" stroke="#505050" stroke-width="0.4" opacity="0.75"/>
<circle cx="140.0" cy="63.4" r="2.0" fill="#bdbdbd" stroke="#505050" stroke-width="0.4" opacity="0.75"/>
<circle cx="80.9" cy="38.4" r="1.1" fill="#bdbdbd" stroke="#505050" stroke-width="0.4" opacity="0.75"/>
<circle cx="208.8" cy="139.9" r="1.3" fill="#bdbdbd" stroke="#505050" stroke-width="0.4" opacity="0.75"/>
<circle cx="13.1" cy="17.9" r="2.3" fill="#bdbdbd" stroke="#505050" stroke-width="0.4" opacity="0.75"/>
<circle cx="209.1" cy="167.0" r="1.6" fill="#bdbdbd" stroke="#505050" stroke-width="0.4" opacity="0.75"/>
<circle cx="11.5" cy="36.1" r="1.6" fill="#bdbdbd" stroke="#505050" stroke-width="0.4" opacity="0.75"/>
<circle cx="165.9" cy="166.3" r="1.9" fill="#bdbdbd" stroke="#505050" stroke-width="0.4" opacity="0.75"/>
<circle cx="142.2" cy="23.7" r="1.3" fill="#bdbdbd" stroke="#505050" stroke-width="0.4" opacity="0.75"/>
<circle cx="31.4" cy="106.3" r="1.6" fill="#bdbdbd" stroke="#505050" stroke-width="0.4" opacity="0.75"/>
<circle cx="222.2" cy="142.1" r="1.7" fill="#bdbdbd" stroke="#505050" stroke-width="0.4" opacity="0.75"/>
<circle cx="49.5" cy="62.2" r="1.0" fill="#bdbdbd" stroke="#505050" stroke-width="0.4" opacity="0.75"/>
<circle cx="138.6" cy="139.2" r="1.8" fill="#bdbdbd" stroke="#505050" stroke-width="0.4" opacity="0.75"/>
<circle cx="32.5" cy="12.0" r="1.0" fill="#bdbdbd" stroke="#505050" stroke-width="0.4" opacity="0.75"/>
<circle cx="161.3" cy="148.7" r="1.0" fill="#bdbdbd" stroke="#505050" stroke-width="0.4" opacity="0.75"/>
<circle cx="2.0" cy="159.7" r="1.2" fill="#bdbdbd" stroke="#505050" stroke-width="0.4" opacity="0.75"/>
<circle cx="164.5" cy="63.3" r="0.9" fill="#bdbdbd" stroke="#505050" stroke-width="0.4" opacity="0.75"/>
<circle cx="182.5" cy="112.8" r="1.9" fill="#bdbdbd" stroke="#505050" stroke-width="0.4" opacity="0.75"/>
<circle cx="106.4" cy="90.6" r="1.8" fill="#bdbdbd" stroke="#505050" stroke-width="0.4" opacity="0.75"/>
<circle cx="97.2" cy="89.3" r="2.0" fill="#bdbdbd" stroke="#505050" stroke-width="0.4" opacity="0.75"/>
<circle cx="35.0" cy="67.0" r="1.9" fill="#bdbdbd" stroke="#505050" stroke-width="0.4" opacity="0.75"/>
<circle cx="18.5" cy="135.2" r="2.1" fill="#bdbdbd" stroke="#505050" stroke-width="0.4" opacity="0.75"/>
<circle cx="75.3" cy="110.0" r="1.9" fill="#bdbdbd" stroke="#505050" stroke-width="0.4" opacity="0.75"/>
<circle cx="95.6" cy="61.6" r="2.0" fill="#bdbdbd" stroke="#505050" stroke-width="0.4" opacity="0.75"/>
<circle cx="31.1" cy="144.5" r="1.8" fill="#bdbdbd" stroke="#505050" stroke-width="0.4" opacity="0.75"/>
<circle cx="143.9" cy="141.6" r="1.3" fill="#bdbdbd" stroke="#505050" stroke-width="0.4" opacity="0.75"/>
<circle cx="167.9" cy="115.5" r="1.1" fill="#bdbdbd" stroke="#505050" stroke-width="0.4" opacity="0.75"/>
<circle cx="131.4" cy="92.7" r="2.5" fill="#bdbdbd" stroke="#505050" stroke-width="0.4" opacity="0.75"/>
<circle cx="81.7" cy="40.1" r="1.7" fill="#bdbdbd" stroke="#505050" stroke-width="0.4" opacity="0.75"/>
<circle cx="59.3" cy="37.9" r="2.5" fill="#bdbdbd" stroke="#505050" stroke-width="0.4" opacity="0.75"/>
<circle cx="46.0" cy="125.2" r="1.3" fill="#bdbdbd" stroke="#505050" stroke-width="0.4" opacity="0.75"/>
<circle cx="190.1" cy="108.5" r="1.2" fill="#bdbdbd" stroke="#505050" stroke-width="0.4" opacity="0.75"/>
<circle cx="152.1" cy="118.4" r="1.3" fill="#bdbdbd" stroke="#505050" stroke-width="0.4" opacity="0.75"/>
<circle cx="104.0" cy="90.4" r="2.1" fill="#bdbdbd" stroke="#505050" stroke-width="0.4" opacity="0.75"/>
<circle cx="167.0" cy="151.8" r="1.9" fill="#bdbdbd" stroke="#505050" stroke-width="0.4" opacity="0.75"/>
<circle cx="193.3" cy="113.5" r="2.3" fill="#bdbdbd" stroke="#505050" stroke-width="0.4" opacity="0.75"/>
<circle cx="30.5" cy="84.0" r="1.8" fill="#bdbdbd" stroke="#505050" stroke-width="0.4" opacity="0.75"/>
<circle cx="190.4" cy="158.3" r="2.0" fill="#bdbdbd" stroke="#505050" stroke-width="0.4" opacity="0.75"/>
<circle cx="218.0" cy="86.0" r="1.7" fill="#bdbdbd" stroke="#505050" stroke-width="0.4" opacity="0.75"/>
<circle cx="155.7" cy="90.9" r="2.5" fill="#bdbdbd" stroke="#505050" stroke-width="0.4" opacity="0.75"/>
<circle cx="43.5" cy="79.3" r="1.1" fill="#bdbdbd" stroke="#505050" stroke-width="0.4" opacity="0.75"/>
<circle cx="84.8" cy="103.3" r="1.6" fill="#bdbdbd" stroke="#505050" stroke-width="0.4" opacity="0.75"/>
<circle cx="10.7" cy="7.0" r="2.1" fill="#bdbdbd" stroke="#505050" stroke-width="0.4" opacity="0.75"/>
<circle cx="216.9" cy="76.8" r="1.1" fill="#bdbdbd" stroke="#505050" stroke-width="0.4" opacity="0.75"/>
<circle cx="30.8" cy="151.7" r="1.0" fill="#bdbdbd" stroke="#505050" stroke-width="0.4" opacity="0.75"/>
<circle cx="224.4" cy="33.7" r="1.1" fill="#bdbdbd" stroke="#505050" stroke-width="0.4" opacity="0.75"/>
<circle cx="165.3" cy="59.2" r="1.5" fill="#bdbdbd" stroke="#505050" stroke-width="0.4" opacity="0.75"/>
<circle cx="191.0" cy="134.3" r="2.2" fill="#bdbdbd" stroke="#505050" stroke-width="0.4" opacity="0.75"/>
<circle cx="2.6" cy="42.7" r="1.3" fill="#bdbdbd" stroke="#505050" stroke-width="0.4" opacity="0.75"/>
<circle cx="116.5" cy="87.6" r="1.5" fill="#bdbdbd" stroke="#505050" stroke-width="0.4" opacity="0.75"/>
<circle cx="111.0" cy="136.4" r="1.5" fill="#bdbdbd" stroke="#505050" stroke-width="0.4" opacity="0.75"/>
<circle cx="80.8" cy="54.7" r="1.9" fill="#bdbdbd" stroke="#505050" stroke-width="0.4" opacity="0.75"/>
<circle cx="7.8" cy="152.0" r="1.3" fill="#bdbdbd" stroke="#505050" stroke-width="0.4" opacity="0.75"/>
<circle cx="80.4" cy="115.9" r="0.9" fill="#bdbdbd" stroke="#505050" stroke-width="0.4" opacity="0.75"/>
<circle cx="224.4" cy="73.5" r="2.2" fill="#bdbdbd" stroke="#505050" stroke-width="0.4" opacity="0.75"/>
<circle cx="110.8" cy="12.3" r="1.3" fill="#bdbdbd" stroke="#505050" stroke-width="0.4" opacity="0.75"/>
<circle cx="34.1" cy="155.5" r="2.4" fill="#bdbdbd" stroke="#505050" stroke-width="0.4" opacity="0.75"/>
<circle cx="152.0" cy="139.6" r="1.9" fill="#bdbdbd" stroke="#505050" stroke-width="0.4" opacity="0.75"/>
<circle cx="56.8" cy="166.5" r="2.2" fill="#bdbdbd" stroke="#505050" stroke-width="0.4" opacity="0.75"/>
<circle cx="61.0" cy="74.2" r="0.9" fill="#bdbdbd" stroke="#505050" stroke-width="0.4" opacity="0.75"/>
<circle cx="225.7" cy="81.4" r="1.7" fill="#bdbdbd" stroke="#505050" stroke-width="0.4" opacity="0.75"/>
<circle cx="7.2" cy="139.8" r="1.0" fill="#bdbdbd" stroke="#505050" stroke-width="0.4" opacity="0.75"/>
<circle cx="140.8" cy="107.7" r="1.9" fill="#bdbdbd" stroke="#505050" stroke-width="0.4" opacity="0.75"/>
<circle cx="191.4" cy="161.6" r="2.1" fill="#bdbdbd" stroke="#505050" stroke-width="0.4" opacity="0.75"/>
<circle cx="101.8" cy="38.3" r="2.5" fill="#bdbdbd" stroke="#505050" stroke-width="0.4" opacity="0.75"/>
<circle cx="117.4" cy="60.3" r="1.8" fill="#bdbdbd" stroke="#505050" stroke-width="0.4" opacity="0.75"/>
<circle cx="70.7" cy="21.9" r="2.0" fill="#bdbdbd" stroke="#505050" stroke-width="0.4" opacity="0.75"/>
<circle cx="48.0" cy="136.8" r="2.1" fill="#bdbdbd" stroke="#505050" stroke-width="0.4" opacity="0.75"/>
<circle cx="75.2" cy="78.2" r="2.5" fill="#bdbdbd" stroke="#505050" stroke-width="0.4" opacity="0.75"/>
<circle cx="71.4" cy="56.0" r="1.7" fill="#bdbdbd" stroke="#505050" stroke-width="0.4" opacity="0.75"/>
<circle cx="51.4" cy="41.5" r="2.4" fill="#bdbdbd" stroke="#505050" stroke-width="0.4" opacity="0.75"/>
<circle cx="138.2" cy="105.4" r="2.1" fill="#bdbdbd" stroke="#505050" stroke-width="0.4" opacity="0.75"/>
<circle cx="32.6" cy="64.2" r="1.0" fill="#bdbdbd" stroke="#505050" stroke-width="0.4" opacity="0.75"/>
<circle cx="225.0" cy="59.6" r="1.9" fill="#bdbdbd" stroke="#505050" stroke-width="0.4" opacity="0.75"/>
<circle cx="132.7" cy="23.2" r="2.1" fill="#bdbdbd" stroke="#505050" stroke-width="0.4" opacity="0.75"/>
<circle cx="207.7" cy="150.7" r="1.1" fill="#bdbdbd" stroke="#505050" stroke-width="0.4" opacity="0.75"/>
<circle cx="45.2" cy="71.2" r="1.9" fill="#bdbdbd" stroke="#505050" stroke-width="0.4" opacity="0.75"/>
<circle cx="22.5" cy="132.2" r="2.2" fill="#bdbdbd" stroke="#505050" stroke-width="0.4" opacity="0.75"/>
<circle cx="54.0" cy="133.0" r="1.1" fill="#bdbdbd" stroke="#505050" stroke-width="0.4" opacity="0.75"/>
<circle cx="16.4" cy="160.8" r="1.5" fill="#bdbdbd" stroke="#505050" stroke-width="0.4" opacity="0.75"/>
<circle cx="82.3" cy="142.5" r="1.3" fill="#bdbdbd" stroke="#505050" stroke-width="0.4" opacity="0.75"/>
<circle cx="198.1" cy="119.5" r="1.5" fill="#bdbdbd" stroke="#505050" stroke-width="0.4" opacity="0.75"/>
<circle cx="159.9" cy="112.2" r="2.4" fill="#bdbdbd" stroke="#505050" stroke-width="0.4" opacity="0.75"/>
<circle cx="177.6" cy="84.1" r="2.4" fill="#bdbdbd" stroke="#505050" stroke-width="0.4" opacity="0.75"/>
<circle cx="183.7" cy="166.4" r="1.2" fill="#bdbdbd" stroke="#505050" stroke-width="0.4" opacity="0.75"/>
<circle cx="46.6" cy="148.4" r="2.0" fill="#bdbdbd" stroke="#505050" stroke-width="0.4" opacity="0.75"/>
<circle cx="91.9" cy="66.1" r="2.2" fill="#bdbdbd" stroke="#505050" stroke-width="0.4" opacity="0.75"/>
<circle cx="211.0" cy="98.0" r="1.1" fill="#bdbdbd" stroke="#505050" stroke-width="0.4" opacity="0.75"/>
<circle cx="163.4" cy="42.1" r="1.9" fill="#bdbdbd" stroke="#505050" stroke-width="0.4" opacity="0.75"/>
<circle cx="149.6" cy="161.3" r="1.0" fill="#bdbdbd" stroke="#505050" stroke-width="0.4" opacity="0.75"/>
<circle cx="43.2" cy="154.4" r="1.9" fill="#bdbdbd" stroke="#505050" stroke-width="0.4" opacity="0.75"/>
<circle cx="69.1" cy="59.0" r="1.7" fill="#bdbdbd" stroke="#505050" stroke-width="0.4" opacity="0.75"/>
<circle cx="220.3" cy="115.3" r="2.1" fill="#bdbdbd" stroke="#505050" stroke-width="0.4" opacity="0.75"/>
<circle cx="209.3" cy="140.0" r="1.4" fill="#bdbdbd" stroke="#505050" stroke-width="0.4" opacity="0.75"/>
<circle cx="39.8" cy="149.9" r="1.8" fill="#bdbdbd" stroke="#505050" stroke-width="0.4" opacity="0.75"/>
<circle cx="172.2" cy="104.6" r="1.3" fill="#bdbdbd" stroke="#505050" stroke-width="0.4" opacity="0.75"/>
<circle cx="4.6" cy="8.0" r="1.7" fill="#bdbdbd" stroke="#505050" stroke-width="0.4" opacity="0.75"/>
<circle cx="202.7" cy="47.2" r="1.8" fill="#bdbdbd" stroke="#505050" stroke-width="0.4" opacity="0.75"/>
<circle cx="22.6" cy="40.4" r="1.0" fill="#bdbdbd" stroke="#505050" stroke-width="0.4" opacity="0.75"/>
<circle cx="29.3" cy="8.1" r="1.0" fill="#bdbdbd" stroke="#505050" stroke-width="0.4" opacity="0.75"/>
<circle cx="185.3" cy="96.1" r="2.1" fill="#bdbdbd" stroke="#505050" stroke-width="0.4" opacity="0.75"/>
<circle cx="1.1" cy="45.2" r="2.0" fill="#bdbdbd" stroke="#505050" stroke-width="0.4" opacity="0.75"/>
<circle cx="3.4" cy="53.9" r="0.9" fill="#bdbdbd" stroke="#505050" stroke-width="0.4" opacity="0.75"/>
<circle cx="73.0" cy="144.9" r="0.9" fill="#bdbdbd" stroke="#505050" stroke-width="0.4" opacity="0.75"/>
<circle cx="110.4" cy="101.8" r="2.3" fill="#bdbdbd" stroke="#505050" stroke-width="0.4" opacity="0.75"/>
<circle cx="39.6" cy="144.2" r="2.3" fill="#bdbdbd" stroke="#505050" stroke-width="0.4" opacity="0.75"/>
<circle cx="19.8" cy="102.3" r="2.2" fill="#bdbdbd" stroke="#505050" stroke-width="0.4" opacity="0.75"/>
<circle cx="224.2" cy="66.7" r="2.5" fill="#bdbdbd" stroke="#505050" stroke-width="0.4" opacity="0.75"/>
<circle cx="198.2" cy="4.3" r="1.4" fill="#bdbdbd" stroke="#505050" stroke-width="0.4" opacity="0.75"/>
<circle cx="148.5" cy="52.3" r="1.6" fill="#bdbdbd" stroke="#505050" stroke-width="0.4" opacity="0.75"/>
<circle cx="161.2" cy="139.4" r="1.2" fill="#bdbdbd" stroke="#505050" stroke-width="0.4" opacity="0.75"/>
<circle cx="4.2" cy="35.2" r="1.8" fill="#bdbdbd" stroke="#505050" stroke-width="0.4" opacity="0.75"/>
<circle cx="190.8" cy="59.8" r="1.5" fill="#bdbdbd" stroke="#505050" stroke-width="0.4" opacity="0.75"/>
<circle cx="78.1" cy="113.6" r="2.4" fill="#bdbdbd" stroke="#505050" stroke-width="0.4" opacity="0.75"/>
</g></svg>
<text x="7.3" y="160.2" font-size="13" font-weight="bold" fill="#fff">a)</text>
<text x="171.6" y="148.6" font-size="10.5" font-weight="bold" fill="#fff">50</text><text x="188.2" y="148.6" font-size="10.5" font-weight="bold" fill="#fff">µm</text>
<rect x="160.2" y="154.4" width="56.9" height="3" fill="#fff"/>
<svg x="232.5" y="1" width="227.5" height="167" viewBox="0 0 227.5 167">
<g filter="url(#blr2)"><rect x="-3" y="-3" width="233.5" height="173" fill="#262626"/>
<line x1="-35" y1="53.6" x2="201" y2="60.6" stroke="rgb(166,166,166)" stroke-width="1.4" opacity="0.81"/>
<line x1="8" y1="130.7" x2="169" y2="140.3" stroke="rgb(171,171,171)" stroke-width="1.2" opacity="0.61"/>
<line x1="77" y1="88.8" x2="392" y2="87.0" stroke="rgb(124,124,124)" stroke-width="1.6" opacity="0.59"/>
<line x1="-54" y1="-2.5" x2="59" y2="-3.7" stroke="rgb(169,169,169)" stroke-width="0.9" opacity="0.81"/>
<line x1="95" y1="98.2" x2="387" y2="110.4" stroke="rgb(125,125,125)" stroke-width="1.2" opacity="0.64"/>
<line x1="-39" y1="66.1" x2="262" y2="81.5" stroke="rgb(154,154,154)" stroke-width="1.1" opacity="0.63"/>
<line x1="-67" y1="1.0" x2="175" y2="11.1" stroke="rgb(156,156,156)" stroke-width="1.3" opacity="0.64"/>
<line x1="-7" y1="8.2" x2="237" y2="21.5" stroke="rgb(133,133,133)" stroke-width="0.7" opacity="0.51"/>
<line x1="-17" y1="27.2" x2="177" y2="29.7" stroke="rgb(140,140,140)" stroke-width="1.0" opacity="0.90"/>
<line x1="87" y1="22.7" x2="378" y2="22.3" stroke="rgb(139,139,139)" stroke-width="1.6" opacity="0.55"/>
<line x1="89" y1="-2.8" x2="244" y2="-4.8" stroke="rgb(145,145,145)" stroke-width="1.3" opacity="0.74"/>
<line x1="-39" y1="92.9" x2="255" y2="108.5" stroke="rgb(151,151,151)" stroke-width="0.7" opacity="0.81"/>
<line x1="101" y1="64.8" x2="352" y2="64.1" stroke="rgb(119,119,119)" stroke-width="0.8" opacity="0.87"/>
<line x1="-12" y1="2.7" x2="253" y2="9.2" stroke="rgb(164,164,164)" stroke-width="1.3" opacity="0.54"/>
<line x1="91" y1="159.1" x2="406" y2="171.8" stroke="rgb(109,109,109)" stroke-width="1.2" opacity="0.58"/>
<line x1="35" y1="-17.0" x2="262" y2="-17.7" stroke="rgb(118,118,118)" stroke-width="1.4" opacity="0.52"/>
<line x1="105" y1="-7.4" x2="419" y2="-9.0" stroke="rgb(172,172,172)" stroke-width="1.1" opacity="0.57"/>
<line x1="17" y1="8.8" x2="142" y2="14.1" stroke="rgb(150,150,150)" stroke-width="1.5" opacity="0.88"/>
<line x1="108" y1="52.8" x2="258" y2="60.3" stroke="rgb(114,114,114)" stroke-width="0.9" opacity="0.57"/>
<line x1="19" y1="-6.6" x2="208" y2="-8.5" stroke="rgb(176,176,176)" stroke-width="1.6" opacity="0.61"/>
<line x1="-25" y1="-11.9" x2="147" y2="-8.3" stroke="rgb(157,157,157)" stroke-width="1.6" opacity="0.85"/>
<line x1="1" y1="57.9" x2="315" y2="61.2" stroke="rgb(154,154,154)" stroke-width="1.4" opacity="0.85"/>
<line x1="-34" y1="155.1" x2="177" y2="162.3" stroke="rgb(137,137,137)" stroke-width="1.3" opacity="0.79"/>
<line x1="-63" y1="141.0" x2="173" y2="149.6" stroke="rgb(109,109,109)" stroke-width="1.5" opacity="0.52"/>
<line x1="26" y1="43.3" x2="196" y2="49.2" stroke="rgb(178,178,178)" stroke-width="0.7" opacity="0.80"/>
<line x1="113" y1="79.5" x2="264" y2="84.2" stroke="rgb(185,185,185)" stroke-width="1.4" opacity="0.85"/>
<line x1="-28" y1="-7.5" x2="217" y2="7.1" stroke="rgb(146,146,146)" stroke-width="0.8" opacity="0.82"/>
<line x1="-29" y1="160.2" x2="256" y2="172.7" stroke="rgb(149,149,149)" stroke-width="1.2" opacity="0.69"/>
<line x1="22" y1="-9.3" x2="238" y2="2.7" stroke="rgb(172,172,172)" stroke-width="0.9" opacity="0.65"/>
<line x1="-46" y1="9.7" x2="263" y2="20.9" stroke="rgb(188,188,188)" stroke-width="1.5" opacity="0.52"/>
<line x1="-56" y1="142.3" x2="78" y2="148.7" stroke="rgb(137,137,137)" stroke-width="1.0" opacity="0.65"/>
<line x1="48" y1="81.9" x2="209" y2="83.4" stroke="rgb(142,142,142)" stroke-width="1.6" opacity="0.78"/>
<line x1="67" y1="73.3" x2="200" y2="79.5" stroke="rgb(121,121,121)" stroke-width="1.0" opacity="0.71"/>
<line x1="-6" y1="7.8" x2="98" y2="9.1" stroke="rgb(130,130,130)" stroke-width="0.7" opacity="0.60"/>
<line x1="98" y1="39.8" x2="254" y2="44.1" stroke="rgb(138,138,138)" stroke-width="1.5" opacity="0.54"/>
<line x1="2" y1="147.5" x2="276" y2="148.0" stroke="rgb(184,184,184)" stroke-width="1.4" opacity="0.87"/>
<line x1="66" y1="53.3" x2="379" y2="50.1" stroke="rgb(160,160,160)" stroke-width="1.3" opacity="0.82"/>
<line x1="99" y1="55.1" x2="241" y2="59.4" stroke="rgb(179,179,179)" stroke-width="1.0" opacity="0.77"/>
<line x1="-6" y1="-6.2" x2="209" y2="3.1" stroke="rgb(168,168,168)" stroke-width="1.5" opacity="0.76"/>
<line x1="101" y1="1.0" x2="355" y2="8.4" stroke="rgb(160,160,160)" stroke-width="1.1" opacity="0.69"/>
<line x1="19" y1="65.8" x2="301" y2="72.4" stroke="rgb(190,190,190)" stroke-width="0.9" opacity="0.58"/>
<line x1="-16" y1="160.5" x2="169" y2="162.2" stroke="rgb(163,163,163)" stroke-width="0.8" opacity="0.59"/>
<line x1="-63" y1="41.3" x2="203" y2="39.8" stroke="rgb(177,177,177)" stroke-width="1.1" opacity="0.83"/>
<line x1="27" y1="5.2" x2="291" y2="18.7" stroke="rgb(179,179,179)" stroke-width="0.8" opacity="0.66"/>
<line x1="-43" y1="27.0" x2="273" y2="30.4" stroke="rgb(128,128,128)" stroke-width="1.6" opacity="0.61"/>
<line x1="86" y1="41.0" x2="309" y2="42.3" stroke="rgb(170,170,170)" stroke-width="1.5" opacity="0.77"/>
<line x1="4" y1="28.5" x2="223" y2="31.8" stroke="rgb(144,144,144)" stroke-width="0.9" opacity="0.52"/>
<line x1="15" y1="52.9" x2="243" y2="57.8" stroke="rgb(151,151,151)" stroke-width="1.5" opacity="0.64"/>
<line x1="61" y1="117.8" x2="163" y2="121.6" stroke="rgb(113,113,113)" stroke-width="1.1" opacity="0.73"/>
<line x1="-24" y1="33.3" x2="233" y2="45.2" stroke="rgb(180,180,180)" stroke-width="1.2" opacity="0.66"/>
<line x1="-45" y1="19.8" x2="244" y2="20.3" stroke="rgb(120,120,120)" stroke-width="0.7" opacity="0.85"/>
<line x1="99" y1="24.7" x2="322" y2="24.8" stroke="rgb(126,126,126)" stroke-width="1.1" opacity="0.77"/>
<line x1="82" y1="37.5" x2="214" y2="37.8" stroke="rgb(131,131,131)" stroke-width="1.2" opacity="0.69"/>
<line x1="-37" y1="-13.1" x2="247" y2="-15.8" stroke="rgb(161,161,161)" stroke-width="1.3" opacity="0.56"/>
<line x1="82" y1="32.2" x2="247" y2="30.5" stroke="rgb(134,134,134)" stroke-width="1.5" opacity="0.82"/>
<line x1="-30" y1="120.3" x2="191" y2="122.5" stroke="rgb(132,132,132)" stroke-width="0.8" opacity="0.82"/>
<line x1="-6" y1="56.3" x2="235" y2="53.8" stroke="rgb(133,133,133)" stroke-width="1.3" opacity="0.78"/>
<line x1="-15" y1="-8.8" x2="173" y2="-8.7" stroke="rgb(109,109,109)" stroke-width="1.4" opacity="0.55"/>
<line x1="22" y1="174.2" x2="186" y2="183.6" stroke="rgb(149,149,149)" stroke-width="0.7" opacity="0.81"/>
<line x1="-26" y1="158.0" x2="141" y2="158.3" stroke="rgb(179,179,179)" stroke-width="1.2" opacity="0.54"/>
<line x1="84" y1="0.3" x2="234" y2="8.4" stroke="rgb(143,143,143)" stroke-width="0.7" opacity="0.74"/>
<line x1="47" y1="47.1" x2="158" y2="53.5" stroke="rgb(147,147,147)" stroke-width="1.0" opacity="0.69"/>
<line x1="81" y1="51.0" x2="359" y2="49.6" stroke="rgb(176,176,176)" stroke-width="1.1" opacity="0.80"/>
<line x1="-73" y1="-7.9" x2="36" y2="-6.1" stroke="rgb(179,179,179)" stroke-width="0.8" opacity="0.76"/>
<line x1="-7" y1="23.3" x2="238" y2="26.6" stroke="rgb(125,125,125)" stroke-width="1.0" opacity="0.77"/>
<line x1="82" y1="-19.6" x2="249" y2="-13.8" stroke="rgb(138,138,138)" stroke-width="0.8" opacity="0.85"/>
<line x1="-57" y1="17.2" x2="146" y2="22.7" stroke="rgb(125,125,125)" stroke-width="1.2" opacity="0.52"/>
<line x1="28" y1="165.1" x2="345" y2="167.7" stroke="rgb(135,135,135)" stroke-width="1.4" opacity="0.71"/>
<line x1="-70" y1="-12.9" x2="205" y2="-14.3" stroke="rgb(178,178,178)" stroke-width="0.9" opacity="0.80"/>
<line x1="113" y1="-7.2" x2="307" y2="2.4" stroke="rgb(184,184,184)" stroke-width="1.2" opacity="0.62"/>
<line x1="-35" y1="-3.6" x2="196" y2="3.4" stroke="rgb(170,170,170)" stroke-width="1.3" opacity="0.52"/>
<line x1="-72" y1="24.9" x2="164" y2="39.2" stroke="rgb(127,127,127)" stroke-width="1.4" opacity="0.64"/>
<line x1="-78" y1="70.0" x2="229" y2="87.1" stroke="rgb(157,157,157)" stroke-width="1.4" opacity="0.51"/>
<line x1="-48" y1="8.9" x2="228" y2="15.8" stroke="rgb(122,122,122)" stroke-width="0.9" opacity="0.87"/>
<line x1="-79" y1="118.2" x2="214" y2="115.8" stroke="rgb(109,109,109)" stroke-width="1.1" opacity="0.81"/>
<line x1="-41" y1="126.5" x2="196" y2="134.7" stroke="rgb(151,151,151)" stroke-width="1.4" opacity="0.54"/>
<line x1="107" y1="48.1" x2="355" y2="47.8" stroke="rgb(168,168,168)" stroke-width="0.8" opacity="0.83"/>
<line x1="81" y1="156.4" x2="358" y2="168.2" stroke="rgb(180,180,180)" stroke-width="0.8" opacity="0.65"/>
<line x1="65" y1="162.8" x2="296" y2="168.6" stroke="rgb(188,188,188)" stroke-width="1.6" opacity="0.55"/>
<line x1="82" y1="133.6" x2="233" y2="134.4" stroke="rgb(130,130,130)" stroke-width="1.2" opacity="0.72"/>
<line x1="92" y1="92.1" x2="203" y2="98.4" stroke="rgb(189,189,189)" stroke-width="1.4" opacity="0.82"/>
<line x1="-1" y1="163.6" x2="118" y2="169.4" stroke="rgb(188,188,188)" stroke-width="1.3" opacity="0.82"/>
<line x1="-21" y1="156.3" x2="145" y2="159.4" stroke="rgb(182,182,182)" stroke-width="0.7" opacity="0.54"/>
<line x1="9" y1="61.6" x2="182" y2="67.2" stroke="rgb(132,132,132)" stroke-width="0.8" opacity="0.66"/>
<line x1="112" y1="-13.6" x2="253" y2="-12.0" stroke="rgb(161,161,161)" stroke-width="1.1" opacity="0.72"/>
<line x1="-7" y1="-3.8" x2="290" y2="6.2" stroke="rgb(154,154,154)" stroke-width="0.9" opacity="0.88"/>
<line x1="38" y1="23.7" x2="335" y2="39.5" stroke="rgb(155,155,155)" stroke-width="1.0" opacity="0.63"/>
<line x1="86" y1="134.2" x2="399" y2="144.3" stroke="rgb(155,155,155)" stroke-width="1.2" opacity="0.50"/>
<line x1="77" y1="50.9" x2="232" y2="54.1" stroke="rgb(150,150,150)" stroke-width="1.3" opacity="0.89"/>
<line x1="-54" y1="126.9" x2="212" y2="136.6" stroke="rgb(137,137,137)" stroke-width="1.3" opacity="0.53"/>
<line x1="-10" y1="66.6" x2="236" y2="80.9" stroke="rgb(185,185,185)" stroke-width="1.3" opacity="0.88"/>
<line x1="16" y1="-8.4" x2="268" y2="0.6" stroke="rgb(107,107,107)" stroke-width="0.8" opacity="0.83"/>
<line x1="66" y1="88.7" x2="362" y2="94.7" stroke="rgb(182,182,182)" stroke-width="1.4" opacity="0.51"/>
<line x1="93" y1="6.7" x2="225" y2="14.4" stroke="rgb(180,180,180)" stroke-width="1.5" opacity="0.70"/>
<line x1="110" y1="13.8" x2="348" y2="21.2" stroke="rgb(135,135,135)" stroke-width="1.0" opacity="0.72"/>
<line x1="76" y1="170.7" x2="325" y2="179.5" stroke="rgb(153,153,153)" stroke-width="1.1" opacity="0.89"/>
<line x1="81" y1="156.1" x2="291" y2="158.4" stroke="rgb(111,111,111)" stroke-width="1.4" opacity="0.64"/>
<line x1="-49" y1="18.7" x2="214" y2="32.4" stroke="rgb(126,126,126)" stroke-width="1.3" opacity="0.86"/>
<line x1="-10" y1="169.4" x2="242" y2="180.8" stroke="rgb(139,139,139)" stroke-width="1.0" opacity="0.88"/>
<line x1="-59" y1="4.1" x2="98" y2="7.1" stroke="rgb(155,155,155)" stroke-width="1.0" opacity="0.82"/>
<line x1="41" y1="1.9" x2="251" y2="13.7" stroke="rgb(157,157,157)" stroke-width="1.3" opacity="0.81"/>
<line x1="11" y1="9.7" x2="234" y2="19.3" stroke="rgb(190,190,190)" stroke-width="1.1" opacity="0.53"/>
<line x1="77" y1="119.9" x2="364" y2="124.6" stroke="rgb(120,120,120)" stroke-width="0.9" opacity="0.81"/>
<line x1="-11" y1="42.0" x2="295" y2="50.9" stroke="rgb(138,138,138)" stroke-width="1.6" opacity="0.85"/>
<line x1="80" y1="-1.2" x2="364" y2="7.8" stroke="rgb(119,119,119)" stroke-width="1.5" opacity="0.57"/>
<line x1="-57" y1="34.2" x2="132" y2="42.2" stroke="rgb(148,148,148)" stroke-width="1.1" opacity="0.70"/>
<line x1="-52" y1="148.7" x2="210" y2="159.2" stroke="rgb(157,157,157)" stroke-width="1.3" opacity="0.86"/>
<line x1="0" y1="5.4" x2="211" y2="3.7" stroke="rgb(178,178,178)" stroke-width="1.3" opacity="0.73"/>
<line x1="84" y1="91.9" x2="357" y2="93.9" stroke="rgb(121,121,121)" stroke-width="0.8" opacity="0.77"/>
<line x1="94" y1="77.6" x2="358" y2="91.8" stroke="rgb(188,188,188)" stroke-width="1.0" opacity="0.61"/>
<line x1="94" y1="150.7" x2="350" y2="154.7" stroke="rgb(182,182,182)" stroke-width="1.2" opacity="0.70"/>
<line x1="-10" y1="156.3" x2="215" y2="158.5" stroke="rgb(115,115,115)" stroke-width="1.0" opacity="0.78"/>
<line x1="-79" y1="42.9" x2="159" y2="45.5" stroke="rgb(122,122,122)" stroke-width="1.1" opacity="0.70"/>
<line x1="-74" y1="95.1" x2="145" y2="101.9" stroke="rgb(164,164,164)" stroke-width="0.8" opacity="0.59"/>
<line x1="30" y1="46.3" x2="178" y2="48.0" stroke="rgb(131,131,131)" stroke-width="1.0" opacity="0.89"/>
<line x1="-46" y1="119.1" x2="232" y2="120.0" stroke="rgb(139,139,139)" stroke-width="1.1" opacity="0.53"/>
<line x1="-2" y1="121.3" x2="210" y2="127.8" stroke="rgb(180,180,180)" stroke-width="1.1" opacity="0.77"/>
<line x1="23" y1="-9.3" x2="268" y2="-5.8" stroke="rgb(137,137,137)" stroke-width="0.8" opacity="0.69"/>
<line x1="57" y1="14.0" x2="257" y2="21.6" stroke="rgb(148,148,148)" stroke-width="1.3" opacity="0.54"/>
<line x1="94" y1="37.0" x2="198" y2="36.2" stroke="rgb(130,130,130)" stroke-width="1.4" opacity="0.80"/>
<line x1="82" y1="19.2" x2="248" y2="26.4" stroke="rgb(107,107,107)" stroke-width="1.5" opacity="0.79"/>
<line x1="-77" y1="-7.8" x2="213" y2="-7.1" stroke="rgb(185,185,185)" stroke-width="1.2" opacity="0.72"/>
<line x1="-11" y1="90.2" x2="112" y2="91.5" stroke="rgb(127,127,127)" stroke-width="1.3" opacity="0.67"/>
<line x1="-14" y1="33.5" x2="275" y2="46.4" stroke="rgb(151,151,151)" stroke-width="1.4" opacity="0.69"/>
<line x1="12" y1="157.8" x2="293" y2="170.8" stroke="rgb(121,121,121)" stroke-width="1.5" opacity="0.71"/>
<line x1="47" y1="55.8" x2="353" y2="59.9" stroke="rgb(129,129,129)" stroke-width="1.3" opacity="0.88"/>
<line x1="-6" y1="65.2" x2="273" y2="76.7" stroke="rgb(160,160,160)" stroke-width="0.8" opacity="0.51"/>
<line x1="-78" y1="23.9" x2="204" y2="28.2" stroke="rgb(116,116,116)" stroke-width="1.1" opacity="0.52"/>
<line x1="-17" y1="84.2" x2="220" y2="82.3" stroke="rgb(164,164,164)" stroke-width="1.1" opacity="0.76"/>
<line x1="-6" y1="-1.7" x2="117" y2="5.0" stroke="rgb(180,180,180)" stroke-width="1.5" opacity="0.88"/>
<line x1="53" y1="91.6" x2="354" y2="108.3" stroke="rgb(113,113,113)" stroke-width="1.2" opacity="0.79"/>
<line x1="87" y1="12.9" x2="405" y2="24.2" stroke="rgb(188,188,188)" stroke-width="1.1" opacity="0.85"/>
<line x1="-6" y1="3.1" x2="248" y2="9.2" stroke="rgb(134,134,134)" stroke-width="0.7" opacity="0.73"/>
<line x1="46" y1="23.7" x2="199" y2="30.2" stroke="rgb(130,130,130)" stroke-width="1.4" opacity="0.52"/>
<line x1="-37" y1="-2.0" x2="210" y2="12.0" stroke="rgb(176,176,176)" stroke-width="1.3" opacity="0.87"/>
<line x1="67" y1="9.9" x2="190" y2="8.5" stroke="rgb(117,117,117)" stroke-width="0.9" opacity="0.82"/>
<line x1="72" y1="18.4" x2="368" y2="16.8" stroke="rgb(105,105,105)" stroke-width="0.8" opacity="0.51"/>
<line x1="39" y1="-3.3" x2="313" y2="4.6" stroke="rgb(173,173,173)" stroke-width="0.8" opacity="0.52"/>
<line x1="-79" y1="36.7" x2="185" y2="41.1" stroke="rgb(108,108,108)" stroke-width="0.9" opacity="0.70"/>
<line x1="63" y1="20.7" x2="310" y2="30.6" stroke="rgb(119,119,119)" stroke-width="1.3" opacity="0.53"/>
<line x1="-34" y1="112.1" x2="260" y2="110.2" stroke="rgb(117,117,117)" stroke-width="0.8" opacity="0.61"/>
<line x1="32" y1="37.7" x2="205" y2="41.8" stroke="rgb(129,129,129)" stroke-width="0.7" opacity="0.53"/>
<line x1="21" y1="31.9" x2="221" y2="38.3" stroke="rgb(157,157,157)" stroke-width="1.5" opacity="0.73"/>
<line x1="-65" y1="36.9" x2="40" y2="41.4" stroke="rgb(112,112,112)" stroke-width="1.3" opacity="0.51"/>
<line x1="90" y1="145.7" x2="230" y2="148.4" stroke="rgb(142,142,142)" stroke-width="1.1" opacity="0.78"/>
<line x1="-17" y1="38.6" x2="104" y2="40.2" stroke="rgb(161,161,161)" stroke-width="0.8" opacity="0.88"/>
<line x1="66" y1="72.3" x2="331" y2="81.1" stroke="rgb(146,146,146)" stroke-width="0.9" opacity="0.60"/>
<line x1="92" y1="-15.9" x2="394" y2="-14.7" stroke="rgb(147,147,147)" stroke-width="0.7" opacity="0.81"/>
<line x1="-49" y1="5.7" x2="59" y2="4.9" stroke="rgb(145,145,145)" stroke-width="1.1" opacity="0.63"/>
<line x1="-39" y1="-10.9" x2="73" y2="-8.5" stroke="rgb(189,189,189)" stroke-width="1.2" opacity="0.88"/>
<line x1="107" y1="158.2" x2="227" y2="162.8" stroke="rgb(132,132,132)" stroke-width="0.9" opacity="0.80"/>
<line x1="-57" y1="119.3" x2="251" y2="125.2" stroke="rgb(183,183,183)" stroke-width="1.1" opacity="0.77"/>
<line x1="-32" y1="125.5" x2="125" y2="132.2" stroke="rgb(108,108,108)" stroke-width="0.8" opacity="0.85"/>
<line x1="63" y1="100.6" x2="195" y2="105.3" stroke="rgb(113,113,113)" stroke-width="1.2" opacity="0.78"/>
<line x1="-77" y1="-7.5" x2="102" y2="-9.0" stroke="rgb(123,123,123)" stroke-width="1.2" opacity="0.79"/>
<line x1="98" y1="79.5" x2="297" y2="89.9" stroke="rgb(117,117,117)" stroke-width="0.9" opacity="0.66"/>
<line x1="90" y1="13.8" x2="380" y2="31.4" stroke="rgb(163,163,163)" stroke-width="1.0" opacity="0.83"/>
<line x1="86" y1="42.2" x2="362" y2="43.2" stroke="rgb(190,190,190)" stroke-width="1.0" opacity="0.75"/>
<line x1="72" y1="-5.8" x2="317" y2="-7.4" stroke="rgb(144,144,144)" stroke-width="1.3" opacity="0.57"/>
<line x1="-6" y1="-12.7" x2="238" y2="2.0" stroke="rgb(177,177,177)" stroke-width="1.2" opacity="0.52"/>
<line x1="101" y1="32.3" x2="280" y2="42.4" stroke="rgb(174,174,174)" stroke-width="1.4" opacity="0.56"/>
<line x1="21" y1="29.1" x2="146" y2="30.8" stroke="rgb(136,136,136)" stroke-width="1.5" opacity="0.57"/>
<line x1="46" y1="161.8" x2="341" y2="158.6" stroke="rgb(154,154,154)" stroke-width="1.5" opacity="0.60"/>
<line x1="-61" y1="31.3" x2="122" y2="29.0" stroke="rgb(152,152,152)" stroke-width="0.9" opacity="0.51"/>
<line x1="58" y1="2.6" x2="178" y2="5.1" stroke="rgb(120,120,120)" stroke-width="1.1" opacity="0.87"/>
<line x1="-43" y1="63.0" x2="116" y2="61.7" stroke="rgb(161,161,161)" stroke-width="1.1" opacity="0.87"/>
<line x1="64" y1="-6.1" x2="288" y2="-5.3" stroke="rgb(153,153,153)" stroke-width="0.8" opacity="0.88"/>
<line x1="88" y1="26.7" x2="234" y2="26.7" stroke="rgb(115,115,115)" stroke-width="1.1" opacity="0.69"/>
<line x1="76" y1="133.1" x2="315" y2="132.3" stroke="rgb(117,117,117)" stroke-width="0.9" opacity="0.77"/>
<line x1="13" y1="3.3" x2="153" y2="11.8" stroke="rgb(106,106,106)" stroke-width="1.3" opacity="0.82"/>
<line x1="-74" y1="105.5" x2="169" y2="114.8" stroke="rgb(168,168,168)" stroke-width="1.3" opacity="0.56"/>
<line x1="-18" y1="55.5" x2="92" y2="61.3" stroke="rgb(152,152,152)" stroke-width="1.3" opacity="0.76"/>
<line x1="60" y1="-16.9" x2="259" y2="-12.8" stroke="rgb(109,109,109)" stroke-width="1.0" opacity="0.89"/>
<line x1="-41" y1="39.4" x2="73" y2="40.5" stroke="rgb(108,108,108)" stroke-width="1.3" opacity="0.51"/>
<line x1="19" y1="25.5" x2="328" y2="32.4" stroke="rgb(167,167,167)" stroke-width="1.3" opacity="0.58"/>
<line x1="-20" y1="17.5" x2="253" y2="23.5" stroke="rgb(139,139,139)" stroke-width="0.9" opacity="0.88"/>
<line x1="50" y1="59.4" x2="155" y2="60.7" stroke="rgb(152,152,152)" stroke-width="1.4" opacity="0.60"/>
<line x1="38" y1="10.2" x2="242" y2="19.9" stroke="rgb(175,175,175)" stroke-width="1.3" opacity="0.56"/>
<line x1="-51" y1="-11.0" x2="79" y2="-3.3" stroke="rgb(171,171,171)" stroke-width="0.8" opacity="0.63"/>
<line x1="-64" y1="12.7" x2="216" y2="17.9" stroke="rgb(157,157,157)" stroke-width="0.9" opacity="0.73"/>
<line x1="108" y1="-8.7" x2="364" y2="2.2" stroke="rgb(117,117,117)" stroke-width="0.7" opacity="0.87"/>
<line x1="-24" y1="-18.7" x2="289" y2="-16.0" stroke="rgb(122,122,122)" stroke-width="1.1" opacity="0.71"/>
<line x1="19" y1="137.4" x2="145" y2="141.9" stroke="rgb(136,136,136)" stroke-width="1.1" opacity="0.71"/>
<line x1="28" y1="52.1" x2="224" y2="57.1" stroke="rgb(180,180,180)" stroke-width="1.5" opacity="0.73"/>
<line x1="-34" y1="31.9" x2="146" y2="33.0" stroke="rgb(172,172,172)" stroke-width="0.9" opacity="0.83"/>
<line x1="-39" y1="-8.9" x2="133" y2="-2.4" stroke="rgb(106,106,106)" stroke-width="1.1" opacity="0.64"/>
<line x1="10" y1="166.4" x2="182" y2="175.5" stroke="rgb(134,134,134)" stroke-width="1.6" opacity="0.54"/>
<line x1="-54" y1="85.8" x2="210" y2="90.2" stroke="rgb(152,152,152)" stroke-width="1.4" opacity="0.64"/>
<line x1="-37" y1="129.5" x2="110" y2="129.0" stroke="rgb(139,139,139)" stroke-width="0.8" opacity="0.70"/>
<line x1="11" y1="100.1" x2="211" y2="107.1" stroke="rgb(147,147,147)" stroke-width="1.2" opacity="0.64"/>
<line x1="13" y1="65.3" x2="117" y2="65.2" stroke="rgb(125,125,125)" stroke-width="1.1" opacity="0.55"/>
<line x1="-40" y1="37.0" x2="114" y2="41.3" stroke="rgb(180,180,180)" stroke-width="1.6" opacity="0.58"/>
<line x1="79" y1="38.7" x2="311" y2="40.0" stroke="rgb(190,190,190)" stroke-width="1.5" opacity="0.74"/>
<line x1="61" y1="-18.9" x2="221" y2="-14.6" stroke="rgb(113,113,113)" stroke-width="1.4" opacity="0.83"/>
<line x1="-46" y1="-1.3" x2="252" y2="-1.4" stroke="rgb(135,135,135)" stroke-width="0.7" opacity="0.55"/>
<line x1="-15" y1="169.1" x2="200" y2="168.7" stroke="rgb(145,145,145)" stroke-width="1.0" opacity="0.80"/>
<line x1="-29" y1="44.9" x2="130" y2="53.8" stroke="rgb(113,113,113)" stroke-width="1.3" opacity="0.78"/>
<line x1="-14" y1="134.4" x2="194" y2="143.0" stroke="rgb(129,129,129)" stroke-width="1.2" opacity="0.90"/>
<line x1="2" y1="126.5" x2="167" y2="134.7" stroke="rgb(107,107,107)" stroke-width="0.9" opacity="0.82"/>
<line x1="-43" y1="-1.6" x2="213" y2="6.2" stroke="rgb(164,164,164)" stroke-width="1.4" opacity="0.59"/>
<line x1="-53" y1="29.8" x2="89" y2="33.9" stroke="rgb(179,179,179)" stroke-width="0.9" opacity="0.84"/>
<line x1="21" y1="126.4" x2="194" y2="130.6" stroke="rgb(112,112,112)" stroke-width="0.7" opacity="0.79"/>
<line x1="54" y1="1.8" x2="289" y2="10.0" stroke="rgb(128,128,128)" stroke-width="0.9" opacity="0.62"/>
<line x1="-36" y1="30.9" x2="234" y2="30.5" stroke="rgb(144,144,144)" stroke-width="1.1" opacity="0.71"/>
<line x1="-23" y1="131.1" x2="148" y2="132.8" stroke="rgb(135,135,135)" stroke-width="0.8" opacity="0.87"/>
<line x1="-57" y1="70.0" x2="155" y2="70.4" stroke="rgb(171,171,171)" stroke-width="1.5" opacity="0.77"/>
<line x1="48" y1="40.6" x2="285" y2="38.8" stroke="rgb(160,160,160)" stroke-width="1.1" opacity="0.60"/>
<line x1="12" y1="23.3" x2="269" y2="26.0" stroke="rgb(152,152,152)" stroke-width="1.2" opacity="0.81"/>
<line x1="69" y1="41.4" x2="188" y2="40.2" stroke="rgb(140,140,140)" stroke-width="0.8" opacity="0.84"/>
<line x1="53" y1="88.7" x2="160" y2="87.8" stroke="rgb(189,189,189)" stroke-width="0.8" opacity="0.80"/>
<line x1="-4" y1="65.3" x2="117" y2="64.5" stroke="rgb(111,111,111)" stroke-width="0.7" opacity="0.86"/>
<line x1="-19" y1="83.4" x2="261" y2="94.3" stroke="rgb(182,182,182)" stroke-width="1.4" opacity="0.57"/>
<line x1="-15" y1="37.4" x2="113" y2="39.7" stroke="rgb(136,136,136)" stroke-width="1.1" opacity="0.72"/>
<line x1="60" y1="50.7" x2="245" y2="61.3" stroke="rgb(133,133,133)" stroke-width="1.6" opacity="0.74"/>
<line x1="62" y1="70.7" x2="191" y2="75.9" stroke="rgb(129,129,129)" stroke-width="1.5" opacity="0.70"/>
<line x1="-75" y1="80.0" x2="138" y2="90.0" stroke="rgb(124,124,124)" stroke-width="1.6" opacity="0.75"/>
<line x1="52" y1="122.2" x2="297" y2="134.5" stroke="rgb(112,112,112)" stroke-width="1.4" opacity="0.85"/>
<line x1="38" y1="-18.0" x2="335" y2="-4.9" stroke="rgb(146,146,146)" stroke-width="0.9" opacity="0.63"/>
<line x1="40" y1="165.2" x2="226" y2="166.9" stroke="rgb(141,141,141)" stroke-width="0.8" opacity="0.59"/>
<line x1="92" y1="60.1" x2="358" y2="69.2" stroke="rgb(136,136,136)" stroke-width="1.4" opacity="0.76"/>
<line x1="-51" y1="46.7" x2="117" y2="46.6" stroke="rgb(169,169,169)" stroke-width="1.3" opacity="0.65"/>
<line x1="-15" y1="6.1" x2="266" y2="13.7" stroke="rgb(149,149,149)" stroke-width="1.5" opacity="0.57"/>
<line x1="105" y1="131.0" x2="397" y2="145.9" stroke="rgb(174,174,174)" stroke-width="1.3" opacity="0.52"/>
<line x1="-14" y1="86.8" x2="258" y2="92.5" stroke="rgb(132,132,132)" stroke-width="1.4" opacity="0.64"/>
<line x1="95" y1="-11.1" x2="201" y2="-5.5" stroke="rgb(152,152,152)" stroke-width="0.8" opacity="0.53"/>
<line x1="-2" y1="18.7" x2="274" y2="24.6" stroke="rgb(153,153,153)" stroke-width="1.0" opacity="0.75"/>
<line x1="62" y1="71.7" x2="231" y2="80.9" stroke="rgb(150,150,150)" stroke-width="1.2" opacity="0.54"/>
<line x1="14" y1="141.7" x2="205" y2="146.6" stroke="rgb(190,190,190)" stroke-width="0.9" opacity="0.58"/>
<line x1="87" y1="160.9" x2="331" y2="169.7" stroke="rgb(177,177,177)" stroke-width="0.7" opacity="0.74"/>
<line x1="-62" y1="119.9" x2="153" y2="124.0" stroke="rgb(170,170,170)" stroke-width="1.4" opacity="0.64"/>
<line x1="-38" y1="35.9" x2="257" y2="49.6" stroke="rgb(160,160,160)" stroke-width="0.8" opacity="0.75"/>
<line x1="112" y1="11.3" x2="326" y2="13.7" stroke="rgb(128,128,128)" stroke-width="1.1" opacity="0.80"/>
<line x1="-7" y1="45.3" x2="276" y2="54.4" stroke="rgb(126,126,126)" stroke-width="0.9" opacity="0.86"/>
<line x1="-10" y1="128.1" x2="293" y2="143.8" stroke="rgb(131,131,131)" stroke-width="1.2" opacity="0.86"/>
<line x1="-38" y1="119.3" x2="163" y2="127.4" stroke="rgb(124,124,124)" stroke-width="1.2" opacity="0.56"/>
<line x1="37" y1="136.7" x2="194" y2="139.6" stroke="rgb(140,140,140)" stroke-width="0.9" opacity="0.59"/>
<line x1="76" y1="-9.4" x2="374" y2="3.9" stroke="rgb(126,126,126)" stroke-width="1.4" opacity="0.59"/>
<line x1="37" y1="80.8" x2="336" y2="80.7" stroke="rgb(130,130,130)" stroke-width="1.6" opacity="0.79"/>
<line x1="-38" y1="14.7" x2="246" y2="23.5" stroke="rgb(159,159,159)" stroke-width="1.5" opacity="0.52"/>
<line x1="-67" y1="66.3" x2="209" y2="64.5" stroke="rgb(158,158,158)" stroke-width="0.8" opacity="0.68"/>
<line x1="69" y1="174.5" x2="222" y2="176.4" stroke="rgb(130,130,130)" stroke-width="0.9" opacity="0.85"/>
<line x1="43" y1="65.0" x2="241" y2="67.0" stroke="rgb(123,123,123)" stroke-width="0.9" opacity="0.63"/>
<line x1="5" y1="15.8" x2="319" y2="22.9" stroke="rgb(167,167,167)" stroke-width="1.1" opacity="0.61"/>
<line x1="17" y1="72.0" x2="168" y2="75.8" stroke="rgb(150,150,150)" stroke-width="1.3" opacity="0.89"/>
<line x1="-12" y1="49.0" x2="240" y2="53.7" stroke="rgb(155,155,155)" stroke-width="1.3" opacity="0.69"/>
<line x1="72" y1="86.8" x2="277" y2="84.8" stroke="rgb(170,170,170)" stroke-width="1.3" opacity="0.87"/>
<line x1="27" y1="64.4" x2="273" y2="66.6" stroke="rgb(105,105,105)" stroke-width="1.6" opacity="0.56"/>
<line x1="34" y1="146.1" x2="283" y2="157.5" stroke="rgb(148,148,148)" stroke-width="1.4" opacity="0.56"/>
<line x1="-54" y1="106.9" x2="245" y2="109.4" stroke="rgb(108,108,108)" stroke-width="1.3" opacity="0.82"/>
<line x1="-76" y1="33.6" x2="145" y2="39.3" stroke="rgb(146,146,146)" stroke-width="1.3" opacity="0.69"/>
<line x1="72" y1="55.5" x2="230" y2="60.6" stroke="rgb(152,152,152)" stroke-width="1.4" opacity="0.53"/>
<line x1="93" y1="102.5" x2="256" y2="100.5" stroke="rgb(168,168,168)" stroke-width="0.8" opacity="0.78"/>
<line x1="76" y1="-5.5" x2="208" y2="-6.7" stroke="rgb(134,134,134)" stroke-width="0.9" opacity="0.67"/>
<line x1="-59" y1="52.8" x2="72" y2="60.0" stroke="rgb(175,175,175)" stroke-width="1.5" opacity="0.54"/>
<line x1="65" y1="64.6" x2="354" y2="65.0" stroke="rgb(154,154,154)" stroke-width="1.1" opacity="0.75"/>
<line x1="-22" y1="15.0" x2="97" y2="14.6" stroke="rgb(125,125,125)" stroke-width="0.8" opacity="0.51"/>
<line x1="-49" y1="102.9" x2="91" y2="102.2" stroke="rgb(182,182,182)" stroke-width="1.0" opacity="0.88"/>
<line x1="-17" y1="-10.9" x2="173" y2="-1.3" stroke="rgb(162,162,162)" stroke-width="0.9" opacity="0.89"/>
<line x1="-45" y1="117.6" x2="88" y2="117.6" stroke="rgb(149,149,149)" stroke-width="1.3" opacity="0.76"/>
<line x1="72" y1="101.3" x2="292" y2="113.3" stroke="rgb(178,178,178)" stroke-width="0.7" opacity="0.68"/>
<line x1="19" y1="27.5" x2="152" y2="32.3" stroke="rgb(111,111,111)" stroke-width="1.5" opacity="0.72"/>
<line x1="54" y1="-6.9" x2="155" y2="-5.3" stroke="rgb(170,170,170)" stroke-width="1.5" opacity="0.84"/>
<line x1="-6" y1="117.6" x2="240" y2="117.8" stroke="rgb(147,147,147)" stroke-width="1.6" opacity="0.88"/>
<line x1="-7" y1="100.0" x2="152" y2="101.6" stroke="rgb(132,132,132)" stroke-width="1.4" opacity="0.82"/>
<line x1="-18" y1="173.2" x2="248" y2="183.4" stroke="rgb(138,138,138)" stroke-width="1.4" opacity="0.63"/>
<line x1="86" y1="86.5" x2="404" y2="104.9" stroke="rgb(167,167,167)" stroke-width="1.5" opacity="0.80"/>
<line x1="96" y1="37.1" x2="325" y2="43.9" stroke="rgb(159,159,159)" stroke-width="1.3" opacity="0.50"/>
<line x1="90" y1="6.1" x2="323" y2="9.5" stroke="rgb(160,160,160)" stroke-width="1.1" opacity="0.79"/>
<line x1="-61" y1="122.4" x2="148" y2="129.8" stroke="rgb(143,143,143)" stroke-width="0.9" opacity="0.76"/>
<line x1="103" y1="52.3" x2="422" y2="70.0" stroke="rgb(159,159,159)" stroke-width="1.4" opacity="0.78"/>
<line x1="-18" y1="34.1" x2="232" y2="42.9" stroke="rgb(165,165,165)" stroke-width="1.6" opacity="0.52"/>
<line x1="37" y1="138.2" x2="327" y2="140.8" stroke="rgb(121,121,121)" stroke-width="1.0" opacity="0.84"/>
<line x1="6" y1="30.6" x2="112" y2="33.2" stroke="rgb(115,115,115)" stroke-width="1.5" opacity="0.86"/>
<line x1="59" y1="14.8" x2="320" y2="20.5" stroke="rgb(148,148,148)" stroke-width="1.5" opacity="0.74"/>
<line x1="45" y1="105.8" x2="329" y2="118.2" stroke="rgb(138,138,138)" stroke-width="1.0" opacity="0.57"/>
<line x1="-32" y1="72.4" x2="269" y2="86.1" stroke="rgb(133,133,133)" stroke-width="0.8" opacity="0.90"/>
<line x1="-6" y1="173.7" x2="232" y2="171.7" stroke="rgb(161,161,161)" stroke-width="0.9" opacity="0.67"/>
<line x1="-6" y1="41.0" x2="238" y2="38.9" stroke="rgb(166,166,166)" stroke-width="1.4" opacity="0.88"/>
<line x1="27" y1="11.3" x2="216" y2="18.5" stroke="rgb(126,126,126)" stroke-width="1.5" opacity="0.86"/>
<line x1="-61" y1="162.0" x2="149" y2="168.0" stroke="rgb(180,180,180)" stroke-width="1.0" opacity="0.64"/>
<line x1="108" y1="8.5" x2="318" y2="7.5" stroke="rgb(141,141,141)" stroke-width="1.6" opacity="0.65"/>
<line x1="-40" y1="41.2" x2="87" y2="39.8" stroke="rgb(141,141,141)" stroke-width="1.1" opacity="0.65"/>
<line x1="13" y1="162.9" x2="318" y2="174.8" stroke="rgb(130,130,130)" stroke-width="1.2" opacity="0.85"/>
<line x1="-22" y1="50.3" x2="291" y2="60.3" stroke="rgb(136,136,136)" stroke-width="1.3" opacity="0.73"/>
<line x1="20" y1="20.9" x2="266" y2="18.9" stroke="rgb(135,135,135)" stroke-width="1.3" opacity="0.77"/>
<line x1="58" y1="173.5" x2="159" y2="177.2" stroke="rgb(111,111,111)" stroke-width="1.6" opacity="0.54"/>
<line x1="20" y1="154.6" x2="197" y2="161.4" stroke="rgb(180,180,180)" stroke-width="1.2" opacity="0.57"/>
<line x1="-37" y1="172.7" x2="110" y2="180.7" stroke="rgb(120,120,120)" stroke-width="0.9" opacity="0.85"/>
<line x1="-2" y1="43.1" x2="252" y2="58.0" stroke="rgb(113,113,113)" stroke-width="1.2" opacity="0.78"/>
<line x1="20" y1="141.8" x2="214" y2="152.2" stroke="rgb(189,189,189)" stroke-width="0.7" opacity="0.51"/>
<line x1="-5" y1="12.1" x2="176" y2="16.9" stroke="rgb(151,151,151)" stroke-width="1.2" opacity="0.64"/>
<line x1="-49" y1="29.7" x2="84" y2="29.4" stroke="rgb(180,180,180)" stroke-width="1.4" opacity="0.55"/>
<line x1="16" y1="90.6" x2="218" y2="89.4" stroke="rgb(106,106,106)" stroke-width="1.4" opacity="0.59"/>
<line x1="93" y1="49.4" x2="272" y2="47.2" stroke="rgb(116,116,116)" stroke-width="1.5" opacity="0.74"/>
<line x1="109" y1="72.9" x2="427" y2="69.7" stroke="rgb(111,111,111)" stroke-width="1.1" opacity="0.70"/>
<line x1="-67" y1="97.8" x2="52" y2="97.8" stroke="rgb(147,147,147)" stroke-width="1.4" opacity="0.64"/>
<line x1="71" y1="36.6" x2="269" y2="35.1" stroke="rgb(124,124,124)" stroke-width="0.9" opacity="0.67"/>
<line x1="100" y1="0.7" x2="329" y2="6.5" stroke="rgb(168,168,168)" stroke-width="0.8" opacity="0.84"/>
<line x1="-69" y1="10.5" x2="143" y2="17.6" stroke="rgb(147,147,147)" stroke-width="0.7" opacity="0.71"/>
<line x1="-36" y1="17.3" x2="110" y2="19.8" stroke="rgb(138,138,138)" stroke-width="1.3" opacity="0.54"/>
<line x1="60" y1="0" x2="150" y2="167" stroke="#999" stroke-width="0.6" opacity="0.5"/>
<line x1="120" y1="0" x2="40" y2="167" stroke="#999" stroke-width="0.6" opacity="0.5"/>
<line x1="170" y1="20" x2="230" y2="140" stroke="#999" stroke-width="0.6" opacity="0.5"/>
<line x1="20" y1="60" x2="120" y2="130" stroke="#999" stroke-width="0.6" opacity="0.5"/>
<line x1="40" y1="20" x2="70" y2="167" stroke="#999" stroke-width="0.6" opacity="0.5"/>
<ellipse cx="65.5" cy="11.0" rx="10.8" ry="8.4" fill="#5a5a5a" opacity="0.7"/>
<circle cx="69.3" cy="11.1" r="1.3" fill="rgb(169,169,169)" stroke="#3a3a3a" stroke-width="0.35" opacity="0.9"/>
<circle cx="59.9" cy="13.8" r="1.2" fill="rgb(135,135,135)" stroke="#3a3a3a" stroke-width="0.35" opacity="0.9"/>
<circle cx="63.3" cy="13.8" r="1.6" fill="rgb(156,156,156)" stroke="#3a3a3a" stroke-width="0.35" opacity="0.9"/>
<circle cx="70.9" cy="12.0" r="1.8" fill="rgb(138,138,138)" stroke="#3a3a3a" stroke-width="0.35" opacity="0.9"/>
<circle cx="66.7" cy="12.3" r="1.5" fill="rgb(118,118,118)" stroke="#3a3a3a" stroke-width="0.35" opacity="0.9"/>
<circle cx="67.7" cy="10.1" r="1.5" fill="rgb(143,143,143)" stroke="#3a3a3a" stroke-width="0.35" opacity="0.9"/>
<circle cx="65.5" cy="12.9" r="1.9" fill="rgb(172,172,172)" stroke="#3a3a3a" stroke-width="0.35" opacity="0.9"/>
<circle cx="67.1" cy="7.7" r="1.9" fill="rgb(182,182,182)" stroke="#3a3a3a" stroke-width="0.35" opacity="0.9"/>
<circle cx="66.9" cy="12.1" r="1.4" fill="rgb(170,170,170)" stroke="#3a3a3a" stroke-width="0.35" opacity="0.9"/>
<circle cx="62.2" cy="5.0" r="1.5" fill="rgb(194,194,194)" stroke="#3a3a3a" stroke-width="0.35" opacity="0.9"/>
<circle cx="67.8" cy="3.8" r="1.0" fill="rgb(115,115,115)" stroke="#3a3a3a" stroke-width="0.35" opacity="0.9"/>
<circle cx="65.7" cy="14.0" r="1.9" fill="rgb(151,151,151)" stroke="#3a3a3a" stroke-width="0.35" opacity="0.9"/>
<circle cx="60.7" cy="16.3" r="1.3" fill="rgb(144,144,144)" stroke="#3a3a3a" stroke-width="0.35" opacity="0.9"/>
<circle cx="68.5" cy="14.8" r="1.1" fill="rgb(145,145,145)" stroke="#3a3a3a" stroke-width="0.35" opacity="0.9"/>
<circle cx="72.8" cy="14.7" r="1.9" fill="rgb(126,126,126)" stroke="#3a3a3a" stroke-width="0.35" opacity="0.9"/>
<circle cx="72.1" cy="7.6" r="1.2" fill="rgb(191,191,191)" stroke="#3a3a3a" stroke-width="0.35" opacity="0.9"/>
<circle cx="69.5" cy="13.7" r="1.6" fill="rgb(124,124,124)" stroke="#3a3a3a" stroke-width="0.35" opacity="0.9"/>
<circle cx="71.8" cy="18.0" r="1.0" fill="rgb(110,110,110)" stroke="#3a3a3a" stroke-width="0.35" opacity="0.9"/>
<circle cx="70.2" cy="10.9" r="1.9" fill="rgb(149,149,149)" stroke="#3a3a3a" stroke-width="0.35" opacity="0.9"/>
<circle cx="70.3" cy="6.8" r="2.0" fill="rgb(181,181,181)" stroke="#3a3a3a" stroke-width="0.35" opacity="0.9"/>
<circle cx="67.8" cy="3.2" r="1.5" fill="rgb(192,192,192)" stroke="#3a3a3a" stroke-width="0.35" opacity="0.9"/>
<circle cx="59.3" cy="10.4" r="1.3" fill="rgb(149,149,149)" stroke="#3a3a3a" stroke-width="0.35" opacity="0.9"/>
<circle cx="61.3" cy="15.3" r="2.0" fill="rgb(157,157,157)" stroke="#3a3a3a" stroke-width="0.35" opacity="0.9"/>
<circle cx="64.4" cy="15.9" r="1.5" fill="rgb(189,189,189)" stroke="#3a3a3a" stroke-width="0.35" opacity="0.9"/>
<circle cx="58.9" cy="13.4" r="0.9" fill="rgb(163,163,163)" stroke="#3a3a3a" stroke-width="0.35" opacity="0.9"/>
<circle cx="64.0" cy="18.1" r="1.7" fill="rgb(147,147,147)" stroke="#3a3a3a" stroke-width="0.35" opacity="0.9"/>
<circle cx="61.4" cy="10.7" r="1.9" fill="rgb(157,157,157)" stroke="#3a3a3a" stroke-width="0.35" opacity="0.9"/>
<circle cx="59.0" cy="9.6" r="1.2" fill="rgb(175,175,175)" stroke="#3a3a3a" stroke-width="0.35" opacity="0.9"/>
<circle cx="69.6" cy="11.6" r="1.3" fill="rgb(200,200,200)" stroke="#3a3a3a" stroke-width="0.35" opacity="0.9"/>
<circle cx="66.9" cy="15.5" r="1.3" fill="rgb(197,197,197)" stroke="#3a3a3a" stroke-width="0.35" opacity="0.9"/>
<circle cx="63.3" cy="11.5" r="1.3" fill="rgb(149,149,149)" stroke="#3a3a3a" stroke-width="0.35" opacity="0.9"/>
<circle cx="66.5" cy="14.0" r="1.8" fill="rgb(193,193,193)" stroke="#3a3a3a" stroke-width="0.35" opacity="0.9"/>
<circle cx="65.1" cy="7.8" r="1.3" fill="rgb(193,193,193)" stroke="#3a3a3a" stroke-width="0.35" opacity="0.9"/>
<circle cx="65.2" cy="12.5" r="1.3" fill="rgb(112,112,112)" stroke="#3a3a3a" stroke-width="0.35" opacity="0.9"/>
<circle cx="58.7" cy="13.2" r="1.9" fill="rgb(114,114,114)" stroke="#3a3a3a" stroke-width="0.35" opacity="0.9"/>
<circle cx="66.8" cy="8.1" r="1.3" fill="rgb(149,149,149)" stroke="#3a3a3a" stroke-width="0.35" opacity="0.9"/>
<circle cx="63.8" cy="4.3" r="1.1" fill="rgb(123,123,123)" stroke="#3a3a3a" stroke-width="0.35" opacity="0.9"/>
<circle cx="62.6" cy="13.4" r="1.4" fill="rgb(123,123,123)" stroke="#3a3a3a" stroke-width="0.35" opacity="0.9"/>
<circle cx="73.8" cy="6.0" r="1.9" fill="rgb(126,126,126)" stroke="#3a3a3a" stroke-width="0.35" opacity="0.9"/>
<circle cx="64.7" cy="13.4" r="1.1" fill="rgb(166,166,166)" stroke="#3a3a3a" stroke-width="0.35" opacity="0.9"/>
<circle cx="66.8" cy="13.2" r="1.2" fill="rgb(192,192,192)" stroke="#3a3a3a" stroke-width="0.35" opacity="0.9"/>
<circle cx="68.4" cy="8.0" r="1.8" fill="rgb(196,196,196)" stroke="#3a3a3a" stroke-width="0.35" opacity="0.9"/>
<circle cx="62.3" cy="12.2" r="1.8" fill="rgb(116,116,116)" stroke="#3a3a3a" stroke-width="0.35" opacity="0.9"/>
<circle cx="62.9" cy="10.9" r="1.2" fill="rgb(157,157,157)" stroke="#3a3a3a" stroke-width="0.35" opacity="0.9"/>
<circle cx="59.7" cy="14.4" r="1.2" fill="rgb(175,175,175)" stroke="#3a3a3a" stroke-width="0.35" opacity="0.9"/>
<circle cx="62.8" cy="12.7" r="1.8" fill="rgb(112,112,112)" stroke="#3a3a3a" stroke-width="0.35" opacity="0.9"/>
<circle cx="69.1" cy="13.4" r="1.0" fill="rgb(157,157,157)" stroke="#3a3a3a" stroke-width="0.35" opacity="0.9"/>
<circle cx="63.0" cy="9.1" r="0.9" fill="rgb(114,114,114)" stroke="#3a3a3a" stroke-width="0.35" opacity="0.9"/>
<circle cx="62.0" cy="9.7" r="1.0" fill="rgb(196,196,196)" stroke="#3a3a3a" stroke-width="0.35" opacity="0.9"/>
<circle cx="72.8" cy="3.7" r="1.2" fill="rgb(200,200,200)" stroke="#3a3a3a" stroke-width="0.35" opacity="0.9"/>
<circle cx="67.1" cy="2.4" r="1.0" fill="rgb(185,185,185)" stroke="#3a3a3a" stroke-width="0.35" opacity="0.9"/>
<circle cx="62.0" cy="16.4" r="1.6" fill="rgb(183,183,183)" stroke="#3a3a3a" stroke-width="0.35" opacity="0.9"/>
<circle cx="61.6" cy="11.8" r="1.4" fill="rgb(175,175,175)" stroke="#3a3a3a" stroke-width="0.35" opacity="0.9"/>
<circle cx="66.3" cy="10.6" r="1.2" fill="rgb(163,163,163)" stroke="#3a3a3a" stroke-width="0.35" opacity="0.9"/>
<circle cx="69.5" cy="10.7" r="1.8" fill="rgb(152,152,152)" stroke="#3a3a3a" stroke-width="0.35" opacity="0.9"/>
<circle cx="63.5" cy="13.7" r="1.6" fill="rgb(141,141,141)" stroke="#3a3a3a" stroke-width="0.35" opacity="0.9"/>
<circle cx="68.3" cy="3.7" r="1.2" fill="rgb(176,176,176)" stroke="#3a3a3a" stroke-width="0.35" opacity="0.9"/>
<circle cx="64.6" cy="11.1" r="1.6" fill="rgb(171,171,171)" stroke="#3a3a3a" stroke-width="0.35" opacity="0.9"/>
<circle cx="66.6" cy="16.8" r="1.8" fill="rgb(169,169,169)" stroke="#3a3a3a" stroke-width="0.35" opacity="0.9"/>
<circle cx="60.4" cy="9.8" r="1.8" fill="rgb(170,170,170)" stroke="#3a3a3a" stroke-width="0.35" opacity="0.9"/>
<circle cx="74.5" cy="10.1" r="1.7" fill="rgb(123,123,123)" stroke="#3a3a3a" stroke-width="0.35" opacity="0.9"/>
<circle cx="61.4" cy="18.9" r="1.7" fill="rgb(121,121,121)" stroke="#3a3a3a" stroke-width="0.35" opacity="0.9"/>
<circle cx="67.5" cy="12.0" r="1.3" fill="rgb(118,118,118)" stroke="#3a3a3a" stroke-width="0.35" opacity="0.9"/>
<circle cx="60.5" cy="13.5" r="1.9" fill="rgb(165,165,165)" stroke="#3a3a3a" stroke-width="0.35" opacity="0.9"/>
<circle cx="50.3" cy="9.8" r="1.1" fill="rgb(154,154,154)" stroke="#3a3a3a" stroke-width="0.35" opacity="0.9"/>
<circle cx="62.9" cy="10.6" r="1.2" fill="rgb(175,175,175)" stroke="#3a3a3a" stroke-width="0.35" opacity="0.9"/>
<circle cx="68.3" cy="19.3" r="1.3" fill="rgb(179,179,179)" stroke="#3a3a3a" stroke-width="0.35" opacity="0.9"/>
<circle cx="60.0" cy="7.8" r="1.2" fill="rgb(152,152,152)" stroke="#3a3a3a" stroke-width="0.35" opacity="0.9"/>
<circle cx="59.2" cy="6.5" r="1.8" fill="rgb(120,120,120)" stroke="#3a3a3a" stroke-width="0.35" opacity="0.9"/>
<circle cx="61.8" cy="6.7" r="1.3" fill="rgb(156,156,156)" stroke="#3a3a3a" stroke-width="0.35" opacity="0.9"/>
<circle cx="64.3" cy="9.2" r="1.1" fill="rgb(152,152,152)" stroke="#3a3a3a" stroke-width="0.35" opacity="0.9"/>
<circle cx="70.4" cy="9.9" r="1.3" fill="rgb(112,112,112)" stroke="#3a3a3a" stroke-width="0.35" opacity="0.9"/>
<circle cx="69.1" cy="11.0" r="1.5" fill="rgb(130,130,130)" stroke="#3a3a3a" stroke-width="0.35" opacity="0.9"/>
<circle cx="62.2" cy="12.7" r="1.8" fill="rgb(156,156,156)" stroke="#3a3a3a" stroke-width="0.35" opacity="0.9"/>
<circle cx="71.7" cy="19.1" r="1.8" fill="rgb(168,168,168)" stroke="#3a3a3a" stroke-width="0.35" opacity="0.9"/>
<circle cx="69.2" cy="11.5" r="2.0" fill="rgb(117,117,117)" stroke="#3a3a3a" stroke-width="0.35" opacity="0.9"/>
<circle cx="64.2" cy="11.7" r="1.5" fill="rgb(197,197,197)" stroke="#3a3a3a" stroke-width="0.35" opacity="0.9"/>
<circle cx="63.6" cy="10.6" r="1.1" fill="rgb(135,135,135)" stroke="#3a3a3a" stroke-width="0.35" opacity="0.9"/>
<circle cx="65.1" cy="17.0" r="1.0" fill="rgb(133,133,133)" stroke="#3a3a3a" stroke-width="0.35" opacity="0.9"/>
<circle cx="66.5" cy="4.9" r="1.9" fill="rgb(188,188,188)" stroke="#3a3a3a" stroke-width="0.35" opacity="0.9"/>
<circle cx="62.7" cy="10.3" r="1.4" fill="rgb(147,147,147)" stroke="#3a3a3a" stroke-width="0.35" opacity="0.9"/>
<ellipse cx="43.5" cy="35.0" rx="7.2" ry="9.6" fill="#5a5a5a" opacity="0.7"/>
<circle cx="45.7" cy="37.5" r="1.2" fill="rgb(188,188,188)" stroke="#3a3a3a" stroke-width="0.35" opacity="0.9"/>
<circle cx="38.7" cy="33.1" r="1.8" fill="rgb(135,135,135)" stroke="#3a3a3a" stroke-width="0.35" opacity="0.9"/>
<circle cx="46.2" cy="28.8" r="1.7" fill="rgb(183,183,183)" stroke="#3a3a3a" stroke-width="0.35" opacity="0.9"/>
<circle cx="38.0" cy="31.7" r="1.3" fill="rgb(150,150,150)" stroke="#3a3a3a" stroke-width="0.35" opacity="0.9"/>
<circle cx="41.4" cy="34.1" r="1.0" fill="rgb(167,167,167)" stroke="#3a3a3a" stroke-width="0.35" opacity="0.9"/>
<circle cx="47.9" cy="38.3" r="1.6" fill="rgb(123,123,123)" stroke="#3a3a3a" stroke-width="0.35" opacity="0.9"/>
<circle cx="49.2" cy="33.6" r="1.2" fill="rgb(198,198,198)" stroke="#3a3a3a" stroke-width="0.35" opacity="0.9"/>
<circle cx="46.5" cy="43.1" r="1.5" fill="rgb(118,118,118)" stroke="#3a3a3a" stroke-width="0.35" opacity="0.9"/>
<circle cx="41.6" cy="32.6" r="1.0" fill="rgb(112,112,112)" stroke="#3a3a3a" stroke-width="0.35" opacity="0.9"/>
<circle cx="41.0" cy="36.0" r="1.1" fill="rgb(198,198,198)" stroke="#3a3a3a" stroke-width="0.35" opacity="0.9"/>
<circle cx="46.1" cy="32.4" r="0.9" fill="rgb(150,150,150)" stroke="#3a3a3a" stroke-width="0.35" opacity="0.9"/>
<circle cx="38.0" cy="42.5" r="0.9" fill="rgb(153,153,153)" stroke="#3a3a3a" stroke-width="0.35" opacity="0.9"/>
<circle cx="48.8" cy="37.3" r="1.6" fill="rgb(125,125,125)" stroke="#3a3a3a" stroke-width="0.35" opacity="0.9"/>
<circle cx="50.4" cy="30.0" r="1.9" fill="rgb(148,148,148)" stroke="#3a3a3a" stroke-width="0.35" opacity="0.9"/>
<circle cx="35.9" cy="27.3" r="1.5" fill="rgb(166,166,166)" stroke="#3a3a3a" stroke-width="0.35" opacity="0.9"/>
<circle cx="45.7" cy="27.8" r="1.2" fill="rgb(110,110,110)" stroke="#3a3a3a" stroke-width="0.35" opacity="0.9"/>
<circle cx="48.5" cy="32.8" r="1.4" fill="rgb(121,121,121)" stroke="#3a3a3a" stroke-width="0.35" opacity="0.9"/>
<circle cx="44.8" cy="33.0" r="1.7" fill="rgb(186,186,186)" stroke="#3a3a3a" stroke-width="0.35" opacity="0.9"/>
<circle cx="38.8" cy="41.1" r="1.8" fill="rgb(169,169,169)" stroke="#3a3a3a" stroke-width="0.35" opacity="0.9"/>
<circle cx="42.3" cy="42.8" r="1.8" fill="rgb(138,138,138)" stroke="#3a3a3a" stroke-width="0.35" opacity="0.9"/>
<circle cx="45.6" cy="38.0" r="1.0" fill="rgb(141,141,141)" stroke="#3a3a3a" stroke-width="0.35" opacity="0.9"/>
<circle cx="45.3" cy="46.7" r="1.3" fill="rgb(122,122,122)" stroke="#3a3a3a" stroke-width="0.35" opacity="0.9"/>
<circle cx="41.1" cy="39.5" r="1.6" fill="rgb(175,175,175)" stroke="#3a3a3a" stroke-width="0.35" opacity="0.9"/>
<circle cx="42.0" cy="37.6" r="1.3" fill="rgb(200,200,200)" stroke="#3a3a3a" stroke-width="0.35" opacity="0.9"/>
<circle cx="45.4" cy="33.9" r="1.7" fill="rgb(194,194,194)" stroke="#3a3a3a" stroke-width="0.35" opacity="0.9"/>
<circle cx="47.0" cy="32.3" r="1.5" fill="rgb(164,164,164)" stroke="#3a3a3a" stroke-width="0.35" opacity="0.9"/>
<circle cx="42.0" cy="32.0" r="1.5" fill="rgb(135,135,135)" stroke="#3a3a3a" stroke-width="0.35" opacity="0.9"/>
<circle cx="43.2" cy="39.4" r="1.0" fill="rgb(122,122,122)" stroke="#3a3a3a" stroke-width="0.35" opacity="0.9"/>
<circle cx="40.1" cy="39.4" r="1.1" fill="rgb(146,146,146)" stroke="#3a3a3a" stroke-width="0.35" opacity="0.9"/>
<circle cx="46.1" cy="25.9" r="1.2" fill="rgb(165,165,165)" stroke="#3a3a3a" stroke-width="0.35" opacity="0.9"/>
<circle cx="38.9" cy="32.9" r="1.6" fill="rgb(127,127,127)" stroke="#3a3a3a" stroke-width="0.35" opacity="0.9"/>
<circle cx="42.8" cy="32.2" r="1.6" fill="rgb(126,126,126)" stroke="#3a3a3a" stroke-width="0.35" opacity="0.9"/>
<circle cx="44.7" cy="28.0" r="1.8" fill="rgb(122,122,122)" stroke="#3a3a3a" stroke-width="0.35" opacity="0.9"/>
<circle cx="46.4" cy="28.5" r="1.4" fill="rgb(165,165,165)" stroke="#3a3a3a" stroke-width="0.35" opacity="0.9"/>
<circle cx="44.7" cy="37.5" r="1.9" fill="rgb(122,122,122)" stroke="#3a3a3a" stroke-width="0.35" opacity="0.9"/>
<circle cx="44.8" cy="44.5" r="1.3" fill="rgb(150,150,150)" stroke="#3a3a3a" stroke-width="0.35" opacity="0.9"/>
<circle cx="48.2" cy="39.5" r="1.8" fill="rgb(129,129,129)" stroke="#3a3a3a" stroke-width="0.35" opacity="0.9"/>
<circle cx="39.1" cy="35.9" r="1.4" fill="rgb(130,130,130)" stroke="#3a3a3a" stroke-width="0.35" opacity="0.9"/>
<circle cx="41.9" cy="35.2" r="2.0" fill="rgb(174,174,174)" stroke="#3a3a3a" stroke-width="0.35" opacity="0.9"/>
<circle cx="36.4" cy="38.5" r="1.6" fill="rgb(135,135,135)" stroke="#3a3a3a" stroke-width="0.35" opacity="0.9"/>
<circle cx="41.0" cy="34.2" r="1.8" fill="rgb(123,123,123)" stroke="#3a3a3a" stroke-width="0.35" opacity="0.9"/>
<circle cx="40.2" cy="30.3" r="1.9" fill="rgb(149,149,149)" stroke="#3a3a3a" stroke-width="0.35" opacity="0.9"/>
<circle cx="41.4" cy="31.3" r="1.4" fill="rgb(132,132,132)" stroke="#3a3a3a" stroke-width="0.35" opacity="0.9"/>
<circle cx="45.6" cy="34.7" r="1.2" fill="rgb(118,118,118)" stroke="#3a3a3a" stroke-width="0.35" opacity="0.9"/>
<circle cx="37.9" cy="32.6" r="1.0" fill="rgb(142,142,142)" stroke="#3a3a3a" stroke-width="0.35" opacity="0.9"/>
<circle cx="44.3" cy="33.9" r="1.2" fill="rgb(183,183,183)" stroke="#3a3a3a" stroke-width="0.35" opacity="0.9"/>
<circle cx="43.3" cy="44.1" r="1.2" fill="rgb(120,120,120)" stroke="#3a3a3a" stroke-width="0.35" opacity="0.9"/>
<circle cx="43.5" cy="39.1" r="1.4" fill="rgb(133,133,133)" stroke="#3a3a3a" stroke-width="0.35" opacity="0.9"/>
<circle cx="43.8" cy="44.8" r="1.4" fill="rgb(157,157,157)" stroke="#3a3a3a" stroke-width="0.35" opacity="0.9"/>
<circle cx="44.7" cy="33.2" r="1.7" fill="rgb(138,138,138)" stroke="#3a3a3a" stroke-width="0.35" opacity="0.9"/>
<circle cx="41.5" cy="27.1" r="2.0" fill="rgb(167,167,167)" stroke="#3a3a3a" stroke-width="0.35" opacity="0.9"/>
<circle cx="41.7" cy="38.4" r="1.3" fill="rgb(136,136,136)" stroke="#3a3a3a" stroke-width="0.35" opacity="0.9"/>
<circle cx="46.8" cy="33.0" r="1.2" fill="rgb(193,193,193)" stroke="#3a3a3a" stroke-width="0.35" opacity="0.9"/>
<circle cx="38.7" cy="29.1" r="1.7" fill="rgb(119,119,119)" stroke="#3a3a3a" stroke-width="0.35" opacity="0.9"/>
<circle cx="37.8" cy="38.2" r="1.8" fill="rgb(196,196,196)" stroke="#3a3a3a" stroke-width="0.35" opacity="0.9"/>
<circle cx="42.5" cy="43.9" r="1.9" fill="rgb(170,170,170)" stroke="#3a3a3a" stroke-width="0.35" opacity="0.9"/>
<circle cx="43.8" cy="36.5" r="1.1" fill="rgb(162,162,162)" stroke="#3a3a3a" stroke-width="0.35" opacity="0.9"/>
<circle cx="53.1" cy="26.0" r="1.5" fill="rgb(183,183,183)" stroke="#3a3a3a" stroke-width="0.35" opacity="0.9"/>
<circle cx="46.5" cy="37.2" r="1.9" fill="rgb(125,125,125)" stroke="#3a3a3a" stroke-width="0.35" opacity="0.9"/>
<circle cx="48.5" cy="35.6" r="1.6" fill="rgb(111,111,111)" stroke="#3a3a3a" stroke-width="0.35" opacity="0.9"/>
<circle cx="41.6" cy="35.5" r="1.2" fill="rgb(134,134,134)" stroke="#3a3a3a" stroke-width="0.35" opacity="0.9"/>
<circle cx="43.2" cy="31.8" r="1.6" fill="rgb(191,191,191)" stroke="#3a3a3a" stroke-width="0.35" opacity="0.9"/>
<ellipse cx="48.5" cy="59.0" rx="6.0" ry="8.4" fill="#5a5a5a" opacity="0.7"/>
<circle cx="51.0" cy="59.1" r="1.3" fill="rgb(194,194,194)" stroke="#3a3a3a" stroke-width="0.35" opacity="0.9"/>
<circle cx="46.3" cy="58.6" r="1.0" fill="rgb(151,151,151)" stroke="#3a3a3a" stroke-width="0.35" opacity="0.9"/>
<circle cx="47.3" cy="56.0" r="1.8" fill="rgb(116,116,116)" stroke="#3a3a3a" stroke-width="0.35" opacity="0.9"/>
<circle cx="49.8" cy="52.8" r="1.1" fill="rgb(149,149,149)" stroke="#3a3a3a" stroke-width="0.35" opacity="0.9"/>
<circle cx="48.4" cy="57.4" r="1.9" fill="rgb(121,121,121)" stroke="#3a3a3a" stroke-width="0.35" opacity="0.9"/>
<circle cx="49.7" cy="49.8" r="1.7" fill="rgb(113,113,113)" stroke="#3a3a3a" stroke-width="0.35" opacity="0.9"/>
<circle cx="45.7" cy="62.0" r="1.4" fill="rgb(188,188,188)" stroke="#3a3a3a" stroke-width="0.35" opacity="0.9"/>
<circle cx="51.0" cy="62.2" r="1.4" fill="rgb(125,125,125)" stroke="#3a3a3a" stroke-width="0.35" opacity="0.9"/>
<circle cx="46.1" cy="62.0" r="1.2" fill="rgb(166,166,166)" stroke="#3a3a3a" stroke-width="0.35" opacity="0.9"/>
<circle cx="46.6" cy="64.4" r="1.8" fill="rgb(135,135,135)" stroke="#3a3a3a" stroke-width="0.35" opacity="0.9"/>
<circle cx="44.7" cy="58.4" r="1.8" fill="rgb(160,160,160)" stroke="#3a3a3a" stroke-width="0.35" opacity="0.9"/>
<circle cx="51.7" cy="60.2" r="1.9" fill="rgb(185,185,185)" stroke="#3a3a3a" stroke-width="0.35" opacity="0.9"/>
<circle cx="50.2" cy="62.4" r="1.6" fill="rgb(135,135,135)" stroke="#3a3a3a" stroke-width="0.35" opacity="0.9"/>
<circle cx="50.6" cy="63.2" r="1.4" fill="rgb(156,156,156)" stroke="#3a3a3a" stroke-width="0.35" opacity="0.9"/>
<circle cx="50.3" cy="57.1" r="1.5" fill="rgb(144,144,144)" stroke="#3a3a3a" stroke-width="0.35" opacity="0.9"/>
<circle cx="52.1" cy="61.8" r="1.6" fill="rgb(163,163,163)" stroke="#3a3a3a" stroke-width="0.35" opacity="0.9"/>
<circle cx="51.2" cy="56.6" r="1.7" fill="rgb(148,148,148)" stroke="#3a3a3a" stroke-width="0.35" opacity="0.9"/>
<circle cx="49.8" cy="58.1" r="1.2" fill="rgb(123,123,123)" stroke="#3a3a3a" stroke-width="0.35" opacity="0.9"/>
<circle cx="49.6" cy="55.3" r="1.8" fill="rgb(112,112,112)" stroke="#3a3a3a" stroke-width="0.35" opacity="0.9"/>
<circle cx="50.2" cy="59.2" r="1.1" fill="rgb(121,121,121)" stroke="#3a3a3a" stroke-width="0.35" opacity="0.9"/>
<circle cx="50.0" cy="54.1" r="1.6" fill="rgb(120,120,120)" stroke="#3a3a3a" stroke-width="0.35" opacity="0.9"/>
<circle cx="52.1" cy="64.9" r="1.4" fill="rgb(119,119,119)" stroke="#3a3a3a" stroke-width="0.35" opacity="0.9"/>
<circle cx="46.3" cy="57.1" r="2.0" fill="rgb(142,142,142)" stroke="#3a3a3a" stroke-width="0.35" opacity="0.9"/>
<circle cx="48.4" cy="57.1" r="1.9" fill="rgb(182,182,182)" stroke="#3a3a3a" stroke-width="0.35" opacity="0.9"/>
<circle cx="48.1" cy="60.4" r="1.0" fill="rgb(162,162,162)" stroke="#3a3a3a" stroke-width="0.35" opacity="0.9"/>
<circle cx="52.7" cy="61.5" r="1.5" fill="rgb(164,164,164)" stroke="#3a3a3a" stroke-width="0.35" opacity="0.9"/>
<circle cx="47.4" cy="55.9" r="1.5" fill="rgb(145,145,145)" stroke="#3a3a3a" stroke-width="0.35" opacity="0.9"/>
<circle cx="47.7" cy="64.5" r="1.2" fill="rgb(112,112,112)" stroke="#3a3a3a" stroke-width="0.35" opacity="0.9"/>
<circle cx="46.2" cy="55.2" r="1.0" fill="rgb(145,145,145)" stroke="#3a3a3a" stroke-width="0.35" opacity="0.9"/>
<circle cx="46.3" cy="59.1" r="1.0" fill="rgb(176,176,176)" stroke="#3a3a3a" stroke-width="0.35" opacity="0.9"/>
<circle cx="49.7" cy="56.0" r="1.2" fill="rgb(175,175,175)" stroke="#3a3a3a" stroke-width="0.35" opacity="0.9"/>
<circle cx="43.1" cy="63.6" r="1.2" fill="rgb(141,141,141)" stroke="#3a3a3a" stroke-width="0.35" opacity="0.9"/>
<circle cx="55.6" cy="51.0" r="1.9" fill="rgb(186,186,186)" stroke="#3a3a3a" stroke-width="0.35" opacity="0.9"/>
<circle cx="54.1" cy="56.3" r="1.8" fill="rgb(142,142,142)" stroke="#3a3a3a" stroke-width="0.35" opacity="0.9"/>
<circle cx="52.8" cy="58.9" r="1.8" fill="rgb(127,127,127)" stroke="#3a3a3a" stroke-width="0.35" opacity="0.9"/>
<circle cx="50.8" cy="59.3" r="1.7" fill="rgb(181,181,181)" stroke="#3a3a3a" stroke-width="0.35" opacity="0.9"/>
<circle cx="48.3" cy="64.8" r="1.1" fill="rgb(156,156,156)" stroke="#3a3a3a" stroke-width="0.35" opacity="0.9"/>
<circle cx="50.5" cy="64.4" r="1.2" fill="rgb(169,169,169)" stroke="#3a3a3a" stroke-width="0.35" opacity="0.9"/>
<circle cx="50.2" cy="64.5" r="1.5" fill="rgb(123,123,123)" stroke="#3a3a3a" stroke-width="0.35" opacity="0.9"/>
<circle cx="50.4" cy="59.7" r="2.0" fill="rgb(163,163,163)" stroke="#3a3a3a" stroke-width="0.35" opacity="0.9"/>
<circle cx="47.7" cy="56.5" r="1.6" fill="rgb(160,160,160)" stroke="#3a3a3a" stroke-width="0.35" opacity="0.9"/>
<circle cx="48.2" cy="52.9" r="1.3" fill="rgb(181,181,181)" stroke="#3a3a3a" stroke-width="0.35" opacity="0.9"/>
<circle cx="46.1" cy="61.5" r="1.3" fill="rgb(182,182,182)" stroke="#3a3a3a" stroke-width="0.35" opacity="0.9"/>
<circle cx="53.6" cy="57.4" r="2.0" fill="rgb(128,128,128)" stroke="#3a3a3a" stroke-width="0.35" opacity="0.9"/>
<circle cx="49.7" cy="59.4" r="1.7" fill="rgb(169,169,169)" stroke="#3a3a3a" stroke-width="0.35" opacity="0.9"/>
<ellipse cx="33.5" cy="87.0" rx="8.4" ry="7.2" fill="#5a5a5a" opacity="0.7"/>
<circle cx="31.3" cy="78.7" r="1.8" fill="rgb(119,119,119)" stroke="#3a3a3a" stroke-width="0.35" opacity="0.9"/>
<circle cx="37.1" cy="84.5" r="1.3" fill="rgb(144,144,144)" stroke="#3a3a3a" stroke-width="0.35" opacity="0.9"/>
<circle cx="28.4" cy="91.7" r="1.8" fill="rgb(186,186,186)" stroke="#3a3a3a" stroke-width="0.35" opacity="0.9"/>
<circle cx="32.3" cy="85.1" r="1.1" fill="rgb(179,179,179)" stroke="#3a3a3a" stroke-width="0.35" opacity="0.9"/>
<circle cx="28.8" cy="86.2" r="1.9" fill="rgb(182,182,182)" stroke="#3a3a3a" stroke-width="0.35" opacity="0.9"/>
<circle cx="37.3" cy="91.7" r="1.1" fill="rgb(177,177,177)" stroke="#3a3a3a" stroke-width="0.35" opacity="0.9"/>
<circle cx="36.9" cy="86.4" r="1.0" fill="rgb(152,152,152)" stroke="#3a3a3a" stroke-width="0.35" opacity="0.9"/>
<circle cx="33.0" cy="87.3" r="1.4" fill="rgb(136,136,136)" stroke="#3a3a3a" stroke-width="0.35" opacity="0.9"/>
<circle cx="29.1" cy="87.8" r="1.6" fill="rgb(158,158,158)" stroke="#3a3a3a" stroke-width="0.35" opacity="0.9"/>
<circle cx="41.9" cy="91.8" r="1.3" fill="rgb(110,110,110)" stroke="#3a3a3a" stroke-width="0.35" opacity="0.9"/>
<circle cx="35.4" cy="87.3" r="1.7" fill="rgb(140,140,140)" stroke="#3a3a3a" stroke-width="0.35" opacity="0.9"/>
<circle cx="32.6" cy="85.6" r="1.4" fill="rgb(184,184,184)" stroke="#3a3a3a" stroke-width="0.35" opacity="0.9"/>
<circle cx="37.5" cy="86.4" r="2.0" fill="rgb(137,137,137)" stroke="#3a3a3a" stroke-width="0.35" opacity="0.9"/>
<circle cx="34.0" cy="82.2" r="1.6" fill="rgb(125,125,125)" stroke="#3a3a3a" stroke-width="0.35" opacity="0.9"/>
<circle cx="35.9" cy="81.8" r="1.5" fill="rgb(185,185,185)" stroke="#3a3a3a" stroke-width="0.35" opacity="0.9"/>
<circle cx="36.5" cy="90.7" r="1.2" fill="rgb(161,161,161)" stroke="#3a3a3a" stroke-width="0.35" opacity="0.9"/>
<circle cx="34.5" cy="88.3" r="2.0" fill="rgb(161,161,161)" stroke="#3a3a3a" stroke-width="0.35" opacity="0.9"/>
<circle cx="29.6" cy="83.5" r="1.9" fill="rgb(194,194,194)" stroke="#3a3a3a" stroke-width="0.35" opacity="0.9"/>
<circle cx="30.1" cy="85.7" r="1.9" fill="rgb(147,147,147)" stroke="#3a3a3a" stroke-width="0.35" opacity="0.9"/>
<circle cx="32.3" cy="87.0" r="1.2" fill="rgb(157,157,157)" stroke="#3a3a3a" stroke-width="0.35" opacity="0.9"/>
<circle cx="33.3" cy="89.9" r="1.4" fill="rgb(192,192,192)" stroke="#3a3a3a" stroke-width="0.35" opacity="0.9"/>
<circle cx="29.1" cy="88.3" r="1.7" fill="rgb(177,177,177)" stroke="#3a3a3a" stroke-width="0.35" opacity="0.9"/>
<circle cx="39.1" cy="84.3" r="1.1" fill="rgb(150,150,150)" stroke="#3a3a3a" stroke-width="0.35" opacity="0.9"/>
<circle cx="33.6" cy="92.5" r="1.9" fill="rgb(124,124,124)" stroke="#3a3a3a" stroke-width="0.35" opacity="0.9"/>
<circle cx="34.2" cy="89.4" r="1.6" fill="rgb(126,126,126)" stroke="#3a3a3a" stroke-width="0.35" opacity="0.9"/>
<circle cx="47.0" cy="83.2" r="1.4" fill="rgb(134,134,134)" stroke="#3a3a3a" stroke-width="0.35" opacity="0.9"/>
<circle cx="31.7" cy="85.4" r="2.0" fill="rgb(115,115,115)" stroke="#3a3a3a" stroke-width="0.35" opacity="0.9"/>
<circle cx="32.0" cy="87.4" r="0.9" fill="rgb(132,132,132)" stroke="#3a3a3a" stroke-width="0.35" opacity="0.9"/>
<circle cx="33.3" cy="82.7" r="1.0" fill="rgb(171,171,171)" stroke="#3a3a3a" stroke-width="0.35" opacity="0.9"/>
<circle cx="37.8" cy="81.9" r="1.5" fill="rgb(139,139,139)" stroke="#3a3a3a" stroke-width="0.35" opacity="0.9"/>
<circle cx="30.3" cy="91.3" r="1.4" fill="rgb(140,140,140)" stroke="#3a3a3a" stroke-width="0.35" opacity="0.9"/>
<circle cx="30.5" cy="83.6" r="1.3" fill="rgb(117,117,117)" stroke="#3a3a3a" stroke-width="0.35" opacity="0.9"/>
<circle cx="34.6" cy="83.3" r="1.1" fill="rgb(187,187,187)" stroke="#3a3a3a" stroke-width="0.35" opacity="0.9"/>
<circle cx="41.5" cy="88.2" r="1.8" fill="rgb(111,111,111)" stroke="#3a3a3a" stroke-width="0.35" opacity="0.9"/>
<circle cx="30.0" cy="78.1" r="1.8" fill="rgb(172,172,172)" stroke="#3a3a3a" stroke-width="0.35" opacity="0.9"/>
<circle cx="30.9" cy="89.2" r="2.0" fill="rgb(184,184,184)" stroke="#3a3a3a" stroke-width="0.35" opacity="0.9"/>
<circle cx="33.1" cy="92.0" r="1.0" fill="rgb(190,190,190)" stroke="#3a3a3a" stroke-width="0.35" opacity="0.9"/>
<circle cx="31.6" cy="86.7" r="1.0" fill="rgb(179,179,179)" stroke="#3a3a3a" stroke-width="0.35" opacity="0.9"/>
<circle cx="39.0" cy="90.5" r="1.8" fill="rgb(194,194,194)" stroke="#3a3a3a" stroke-width="0.35" opacity="0.9"/>
<circle cx="40.2" cy="87.9" r="1.4" fill="rgb(186,186,186)" stroke="#3a3a3a" stroke-width="0.35" opacity="0.9"/>
<circle cx="41.8" cy="89.1" r="1.6" fill="rgb(148,148,148)" stroke="#3a3a3a" stroke-width="0.35" opacity="0.9"/>
<circle cx="33.3" cy="86.8" r="1.4" fill="rgb(145,145,145)" stroke="#3a3a3a" stroke-width="0.35" opacity="0.9"/>
<circle cx="30.7" cy="90.3" r="1.0" fill="rgb(141,141,141)" stroke="#3a3a3a" stroke-width="0.35" opacity="0.9"/>
<circle cx="33.9" cy="82.0" r="1.3" fill="rgb(190,190,190)" stroke="#3a3a3a" stroke-width="0.35" opacity="0.9"/>
<circle cx="34.2" cy="93.7" r="1.3" fill="rgb(179,179,179)" stroke="#3a3a3a" stroke-width="0.35" opacity="0.9"/>
<circle cx="35.4" cy="82.0" r="1.4" fill="rgb(182,182,182)" stroke="#3a3a3a" stroke-width="0.35" opacity="0.9"/>
<circle cx="29.8" cy="83.5" r="1.1" fill="rgb(180,180,180)" stroke="#3a3a3a" stroke-width="0.35" opacity="0.9"/>
<circle cx="30.5" cy="94.3" r="0.9" fill="rgb(171,171,171)" stroke="#3a3a3a" stroke-width="0.35" opacity="0.9"/>
<circle cx="34.2" cy="86.8" r="1.3" fill="rgb(147,147,147)" stroke="#3a3a3a" stroke-width="0.35" opacity="0.9"/>
<circle cx="40.4" cy="89.3" r="0.9" fill="rgb(199,199,199)" stroke="#3a3a3a" stroke-width="0.35" opacity="0.9"/>
<circle cx="35.2" cy="89.4" r="1.7" fill="rgb(192,192,192)" stroke="#3a3a3a" stroke-width="0.35" opacity="0.9"/>
<circle cx="33.3" cy="81.3" r="2.0" fill="rgb(138,138,138)" stroke="#3a3a3a" stroke-width="0.35" opacity="0.9"/>
<circle cx="31.8" cy="85.7" r="1.8" fill="rgb(151,151,151)" stroke="#3a3a3a" stroke-width="0.35" opacity="0.9"/>
<circle cx="33.6" cy="91.3" r="1.3" fill="rgb(122,122,122)" stroke="#3a3a3a" stroke-width="0.35" opacity="0.9"/>
<ellipse cx="13.5" cy="105.0" rx="8.4" ry="10.8" fill="#5a5a5a" opacity="0.7"/>
<circle cx="16.1" cy="109.8" r="1.8" fill="rgb(154,154,154)" stroke="#3a3a3a" stroke-width="0.35" opacity="0.9"/>
<circle cx="14.2" cy="104.6" r="1.2" fill="rgb(146,146,146)" stroke="#3a3a3a" stroke-width="0.35" opacity="0.9"/>
<circle cx="15.5" cy="105.9" r="1.8" fill="rgb(173,173,173)" stroke="#3a3a3a" stroke-width="0.35" opacity="0.9"/>
<circle cx="9.3" cy="109.1" r="1.9" fill="rgb(110,110,110)" stroke="#3a3a3a" stroke-width="0.35" opacity="0.9"/>
<circle cx="12.8" cy="106.8" r="1.3" fill="rgb(118,118,118)" stroke="#3a3a3a" stroke-width="0.35" opacity="0.9"/>
<circle cx="12.3" cy="104.6" r="1.9" fill="rgb(148,148,148)" stroke="#3a3a3a" stroke-width="0.35" opacity="0.9"/>
<circle cx="11.2" cy="104.9" r="1.8" fill="rgb(168,168,168)" stroke="#3a3a3a" stroke-width="0.35" opacity="0.9"/>
<circle cx="15.6" cy="117.5" r="1.8" fill="rgb(125,125,125)" stroke="#3a3a3a" stroke-width="0.35" opacity="0.9"/>
<circle cx="14.6" cy="104.0" r="1.9" fill="rgb(139,139,139)" stroke="#3a3a3a" stroke-width="0.35" opacity="0.9"/>
<circle cx="19.4" cy="110.3" r="1.8" fill="rgb(143,143,143)" stroke="#3a3a3a" stroke-width="0.35" opacity="0.9"/>
<circle cx="6.0" cy="103.7" r="2.0" fill="rgb(191,191,191)" stroke="#3a3a3a" stroke-width="0.35" opacity="0.9"/>
<circle cx="16.7" cy="102.8" r="1.7" fill="rgb(126,126,126)" stroke="#3a3a3a" stroke-width="0.35" opacity="0.9"/>
<circle cx="17.4" cy="111.4" r="1.4" fill="rgb(197,197,197)" stroke="#3a3a3a" stroke-width="0.35" opacity="0.9"/>
<circle cx="11.4" cy="102.9" r="1.6" fill="rgb(142,142,142)" stroke="#3a3a3a" stroke-width="0.35" opacity="0.9"/>
<circle cx="15.9" cy="102.4" r="1.7" fill="rgb(157,157,157)" stroke="#3a3a3a" stroke-width="0.35" opacity="0.9"/>
<circle cx="15.5" cy="102.4" r="1.2" fill="rgb(196,196,196)" stroke="#3a3a3a" stroke-width="0.35" opacity="0.9"/>
<circle cx="12.8" cy="107.3" r="1.2" fill="rgb(110,110,110)" stroke="#3a3a3a" stroke-width="0.35" opacity="0.9"/>
<circle cx="5.9" cy="107.1" r="1.1" fill="rgb(196,196,196)" stroke="#3a3a3a" stroke-width="0.35" opacity="0.9"/>
<circle cx="17.1" cy="108.0" r="1.1" fill="rgb(123,123,123)" stroke="#3a3a3a" stroke-width="0.35" opacity="0.9"/>
<circle cx="19.8" cy="109.0" r="1.0" fill="rgb(136,136,136)" stroke="#3a3a3a" stroke-width="0.35" opacity="0.9"/>
<circle cx="11.7" cy="106.6" r="1.4" fill="rgb(195,195,195)" stroke="#3a3a3a" stroke-width="0.35" opacity="0.9"/>
<circle cx="16.5" cy="101.0" r="1.4" fill="rgb(116,116,116)" stroke="#3a3a3a" stroke-width="0.35" opacity="0.9"/>
<circle cx="11.3" cy="107.2" r="1.5" fill="rgb(113,113,113)" stroke="#3a3a3a" stroke-width="0.35" opacity="0.9"/>
<circle cx="11.9" cy="95.8" r="1.5" fill="rgb(165,165,165)" stroke="#3a3a3a" stroke-width="0.35" opacity="0.9"/>
<circle cx="18.6" cy="96.1" r="1.0" fill="rgb(199,199,199)" stroke="#3a3a3a" stroke-width="0.35" opacity="0.9"/>
<circle cx="12.1" cy="113.7" r="1.1" fill="rgb(163,163,163)" stroke="#3a3a3a" stroke-width="0.35" opacity="0.9"/>
<circle cx="11.0" cy="106.2" r="1.9" fill="rgb(151,151,151)" stroke="#3a3a3a" stroke-width="0.35" opacity="0.9"/>
<circle cx="11.6" cy="112.1" r="1.0" fill="rgb(171,171,171)" stroke="#3a3a3a" stroke-width="0.35" opacity="0.9"/>
<circle cx="8.3" cy="107.2" r="1.8" fill="rgb(125,125,125)" stroke="#3a3a3a" stroke-width="0.35" opacity="0.9"/>
<circle cx="9.3" cy="105.2" r="1.2" fill="rgb(142,142,142)" stroke="#3a3a3a" stroke-width="0.35" opacity="0.9"/>
<circle cx="13.8" cy="101.9" r="1.4" fill="rgb(199,199,199)" stroke="#3a3a3a" stroke-width="0.35" opacity="0.9"/>
<circle cx="9.4" cy="105.6" r="1.8" fill="rgb(110,110,110)" stroke="#3a3a3a" stroke-width="0.35" opacity="0.9"/>
<circle cx="12.0" cy="106.9" r="1.6" fill="rgb(153,153,153)" stroke="#3a3a3a" stroke-width="0.35" opacity="0.9"/>
<circle cx="19.0" cy="101.3" r="1.2" fill="rgb(120,120,120)" stroke="#3a3a3a" stroke-width="0.35" opacity="0.9"/>
<circle cx="16.1" cy="108.5" r="1.8" fill="rgb(175,175,175)" stroke="#3a3a3a" stroke-width="0.35" opacity="0.9"/>
<circle cx="21.3" cy="98.8" r="1.9" fill="rgb(146,146,146)" stroke="#3a3a3a" stroke-width="0.35" opacity="0.9"/>
<circle cx="9.0" cy="100.1" r="1.1" fill="rgb(171,171,171)" stroke="#3a3a3a" stroke-width="0.35" opacity="0.9"/>
<circle cx="8.1" cy="96.5" r="1.4" fill="rgb(142,142,142)" stroke="#3a3a3a" stroke-width="0.35" opacity="0.9"/>
<circle cx="12.7" cy="111.6" r="1.4" fill="rgb(113,113,113)" stroke="#3a3a3a" stroke-width="0.35" opacity="0.9"/>
<circle cx="12.7" cy="105.5" r="2.0" fill="rgb(137,137,137)" stroke="#3a3a3a" stroke-width="0.35" opacity="0.9"/>
<circle cx="11.5" cy="97.3" r="1.0" fill="rgb(135,135,135)" stroke="#3a3a3a" stroke-width="0.35" opacity="0.9"/>
<circle cx="16.4" cy="104.5" r="1.3" fill="rgb(191,191,191)" stroke="#3a3a3a" stroke-width="0.35" opacity="0.9"/>
<circle cx="9.2" cy="110.7" r="1.7" fill="rgb(163,163,163)" stroke="#3a3a3a" stroke-width="0.35" opacity="0.9"/>
<circle cx="10.8" cy="101.2" r="1.0" fill="rgb(168,168,168)" stroke="#3a3a3a" stroke-width="0.35" opacity="0.9"/>
<circle cx="12.8" cy="107.5" r="1.7" fill="rgb(118,118,118)" stroke="#3a3a3a" stroke-width="0.35" opacity="0.9"/>
<circle cx="10.6" cy="99.0" r="1.6" fill="rgb(162,162,162)" stroke="#3a3a3a" stroke-width="0.35" opacity="0.9"/>
<circle cx="18.7" cy="102.3" r="1.5" fill="rgb(140,140,140)" stroke="#3a3a3a" stroke-width="0.35" opacity="0.9"/>
<circle cx="11.5" cy="109.7" r="2.0" fill="rgb(164,164,164)" stroke="#3a3a3a" stroke-width="0.35" opacity="0.9"/>
<circle cx="18.3" cy="106.5" r="1.5" fill="rgb(167,167,167)" stroke="#3a3a3a" stroke-width="0.35" opacity="0.9"/>
<circle cx="15.8" cy="106.1" r="1.3" fill="rgb(194,194,194)" stroke="#3a3a3a" stroke-width="0.35" opacity="0.9"/>
<circle cx="15.9" cy="102.5" r="1.8" fill="rgb(120,120,120)" stroke="#3a3a3a" stroke-width="0.35" opacity="0.9"/>
<circle cx="17.0" cy="101.7" r="1.0" fill="rgb(166,166,166)" stroke="#3a3a3a" stroke-width="0.35" opacity="0.9"/>
<circle cx="14.8" cy="108.3" r="1.0" fill="rgb(118,118,118)" stroke="#3a3a3a" stroke-width="0.35" opacity="0.9"/>
<circle cx="20.3" cy="100.1" r="1.2" fill="rgb(129,129,129)" stroke="#3a3a3a" stroke-width="0.35" opacity="0.9"/>
<circle cx="15.8" cy="108.7" r="1.4" fill="rgb(118,118,118)" stroke="#3a3a3a" stroke-width="0.35" opacity="0.9"/>
<circle cx="18.2" cy="106.7" r="0.9" fill="rgb(125,125,125)" stroke="#3a3a3a" stroke-width="0.35" opacity="0.9"/>
<circle cx="11.1" cy="101.9" r="1.4" fill="rgb(161,161,161)" stroke="#3a3a3a" stroke-width="0.35" opacity="0.9"/>
<circle cx="13.0" cy="111.0" r="1.1" fill="rgb(139,139,139)" stroke="#3a3a3a" stroke-width="0.35" opacity="0.9"/>
<circle cx="22.0" cy="101.1" r="1.7" fill="rgb(168,168,168)" stroke="#3a3a3a" stroke-width="0.35" opacity="0.9"/>
<circle cx="8.5" cy="100.5" r="1.3" fill="rgb(127,127,127)" stroke="#3a3a3a" stroke-width="0.35" opacity="0.9"/>
<circle cx="16.8" cy="106.8" r="1.3" fill="rgb(181,181,181)" stroke="#3a3a3a" stroke-width="0.35" opacity="0.9"/>
<circle cx="7.6" cy="103.4" r="1.0" fill="rgb(145,145,145)" stroke="#3a3a3a" stroke-width="0.35" opacity="0.9"/>
<circle cx="9.1" cy="110.0" r="1.3" fill="rgb(152,152,152)" stroke="#3a3a3a" stroke-width="0.35" opacity="0.9"/>
<circle cx="5.5" cy="108.7" r="1.8" fill="rgb(111,111,111)" stroke="#3a3a3a" stroke-width="0.35" opacity="0.9"/>
<circle cx="12.5" cy="108.7" r="1.7" fill="rgb(157,157,157)" stroke="#3a3a3a" stroke-width="0.35" opacity="0.9"/>
<circle cx="15.0" cy="112.4" r="1.5" fill="rgb(148,148,148)" stroke="#3a3a3a" stroke-width="0.35" opacity="0.9"/>
<circle cx="6.6" cy="100.6" r="2.0" fill="rgb(171,171,171)" stroke="#3a3a3a" stroke-width="0.35" opacity="0.9"/>
<circle cx="20.8" cy="110.4" r="1.5" fill="rgb(158,158,158)" stroke="#3a3a3a" stroke-width="0.35" opacity="0.9"/>
<circle cx="8.0" cy="100.6" r="1.6" fill="rgb(113,113,113)" stroke="#3a3a3a" stroke-width="0.35" opacity="0.9"/>
<circle cx="12.4" cy="108.4" r="1.8" fill="rgb(192,192,192)" stroke="#3a3a3a" stroke-width="0.35" opacity="0.9"/>
<circle cx="11.2" cy="102.9" r="2.0" fill="rgb(180,180,180)" stroke="#3a3a3a" stroke-width="0.35" opacity="0.9"/>
<circle cx="13.9" cy="101.2" r="1.4" fill="rgb(170,170,170)" stroke="#3a3a3a" stroke-width="0.35" opacity="0.9"/>
<circle cx="12.3" cy="100.8" r="1.7" fill="rgb(110,110,110)" stroke="#3a3a3a" stroke-width="0.35" opacity="0.9"/>
<circle cx="10.5" cy="100.6" r="1.7" fill="rgb(127,127,127)" stroke="#3a3a3a" stroke-width="0.35" opacity="0.9"/>
<circle cx="15.5" cy="101.4" r="1.4" fill="rgb(195,195,195)" stroke="#3a3a3a" stroke-width="0.35" opacity="0.9"/>
<circle cx="13.1" cy="101.4" r="1.2" fill="rgb(133,133,133)" stroke="#3a3a3a" stroke-width="0.35" opacity="0.9"/>
<circle cx="17.0" cy="105.6" r="1.9" fill="rgb(153,153,153)" stroke="#3a3a3a" stroke-width="0.35" opacity="0.9"/>
<circle cx="11.2" cy="103.4" r="1.7" fill="rgb(134,134,134)" stroke="#3a3a3a" stroke-width="0.35" opacity="0.9"/>
<circle cx="9.6" cy="110.1" r="2.0" fill="rgb(124,124,124)" stroke="#3a3a3a" stroke-width="0.35" opacity="0.9"/>
<circle cx="13.4" cy="111.5" r="1.2" fill="rgb(148,148,148)" stroke="#3a3a3a" stroke-width="0.35" opacity="0.9"/>
<circle cx="16.7" cy="103.3" r="1.7" fill="rgb(168,168,168)" stroke="#3a3a3a" stroke-width="0.35" opacity="0.9"/>
<ellipse cx="17.5" cy="124.0" rx="8.4" ry="9.6" fill="#5a5a5a" opacity="0.7"/>
<circle cx="20.9" cy="121.9" r="1.6" fill="rgb(199,199,199)" stroke="#3a3a3a" stroke-width="0.35" opacity="0.9"/>
<circle cx="18.0" cy="127.4" r="1.8" fill="rgb(111,111,111)" stroke="#3a3a3a" stroke-width="0.35" opacity="0.9"/>
<circle cx="17.2" cy="128.4" r="1.7" fill="rgb(165,165,165)" stroke="#3a3a3a" stroke-width="0.35" opacity="0.9"/>
<circle cx="17.2" cy="124.7" r="1.9" fill="rgb(192,192,192)" stroke="#3a3a3a" stroke-width="0.35" opacity="0.9"/>
<circle cx="20.1" cy="127.5" r="1.6" fill="rgb(144,144,144)" stroke="#3a3a3a" stroke-width="0.35" opacity="0.9"/>
<circle cx="19.4" cy="126.1" r="1.2" fill="rgb(153,153,153)" stroke="#3a3a3a" stroke-width="0.35" opacity="0.9"/>
<circle cx="21.9" cy="121.4" r="1.3" fill="rgb(184,184,184)" stroke="#3a3a3a" stroke-width="0.35" opacity="0.9"/>
<circle cx="18.5" cy="116.4" r="1.3" fill="rgb(176,176,176)" stroke="#3a3a3a" stroke-width="0.35" opacity="0.9"/>
<circle cx="18.9" cy="118.0" r="1.4" fill="rgb(189,189,189)" stroke="#3a3a3a" stroke-width="0.35" opacity="0.9"/>
<circle cx="20.2" cy="122.1" r="1.2" fill="rgb(152,152,152)" stroke="#3a3a3a" stroke-width="0.35" opacity="0.9"/>
<circle cx="25.3" cy="130.4" r="1.9" fill="rgb(198,198,198)" stroke="#3a3a3a" stroke-width="0.35" opacity="0.9"/>
<circle cx="19.2" cy="129.5" r="1.0" fill="rgb(114,114,114)" stroke="#3a3a3a" stroke-width="0.35" opacity="0.9"/>
<circle cx="19.5" cy="120.1" r="1.4" fill="rgb(197,197,197)" stroke="#3a3a3a" stroke-width="0.35" opacity="0.9"/>
<circle cx="23.3" cy="126.5" r="1.2" fill="rgb(195,195,195)" stroke="#3a3a3a" stroke-width="0.35" opacity="0.9"/>
<circle cx="20.2" cy="123.7" r="1.7" fill="rgb(176,176,176)" stroke="#3a3a3a" stroke-width="0.35" opacity="0.9"/>
<circle cx="20.8" cy="126.3" r="1.4" fill="rgb(115,115,115)" stroke="#3a3a3a" stroke-width="0.35" opacity="0.9"/>
<circle cx="14.9" cy="123.5" r="1.8" fill="rgb(175,175,175)" stroke="#3a3a3a" stroke-width="0.35" opacity="0.9"/>
<circle cx="15.1" cy="123.7" r="1.3" fill="rgb(122,122,122)" stroke="#3a3a3a" stroke-width="0.35" opacity="0.9"/>
<circle cx="19.0" cy="132.0" r="1.4" fill="rgb(148,148,148)" stroke="#3a3a3a" stroke-width="0.35" opacity="0.9"/>
<circle cx="15.3" cy="128.1" r="2.0" fill="rgb(171,171,171)" stroke="#3a3a3a" stroke-width="0.35" opacity="0.9"/>
<circle cx="22.3" cy="124.7" r="1.4" fill="rgb(154,154,154)" stroke="#3a3a3a" stroke-width="0.35" opacity="0.9"/>
<circle cx="7.9" cy="120.8" r="1.0" fill="rgb(135,135,135)" stroke="#3a3a3a" stroke-width="0.35" opacity="0.9"/>
<circle cx="18.6" cy="116.1" r="1.6" fill="rgb(168,168,168)" stroke="#3a3a3a" stroke-width="0.35" opacity="0.9"/>
<circle cx="16.3" cy="126.3" r="1.1" fill="rgb(122,122,122)" stroke="#3a3a3a" stroke-width="0.35" opacity="0.9"/>
<circle cx="16.9" cy="119.9" r="1.7" fill="rgb(181,181,181)" stroke="#3a3a3a" stroke-width="0.35" opacity="0.9"/>
<circle cx="21.7" cy="127.6" r="1.2" fill="rgb(162,162,162)" stroke="#3a3a3a" stroke-width="0.35" opacity="0.9"/>
<circle cx="11.8" cy="129.7" r="1.4" fill="rgb(190,190,190)" stroke="#3a3a3a" stroke-width="0.35" opacity="0.9"/>
<circle cx="15.8" cy="129.7" r="0.9" fill="rgb(153,153,153)" stroke="#3a3a3a" stroke-width="0.35" opacity="0.9"/>
<circle cx="18.7" cy="126.9" r="1.3" fill="rgb(172,172,172)" stroke="#3a3a3a" stroke-width="0.35" opacity="0.9"/>
<circle cx="7.4" cy="129.9" r="1.9" fill="rgb(184,184,184)" stroke="#3a3a3a" stroke-width="0.35" opacity="0.9"/>
<circle cx="23.2" cy="127.7" r="1.7" fill="rgb(195,195,195)" stroke="#3a3a3a" stroke-width="0.35" opacity="0.9"/>
<circle cx="21.1" cy="128.2" r="1.4" fill="rgb(187,187,187)" stroke="#3a3a3a" stroke-width="0.35" opacity="0.9"/>
<circle cx="15.8" cy="120.9" r="1.9" fill="rgb(186,186,186)" stroke="#3a3a3a" stroke-width="0.35" opacity="0.9"/>
<circle cx="20.5" cy="122.2" r="0.9" fill="rgb(162,162,162)" stroke="#3a3a3a" stroke-width="0.35" opacity="0.9"/>
<circle cx="14.7" cy="124.8" r="1.8" fill="rgb(127,127,127)" stroke="#3a3a3a" stroke-width="0.35" opacity="0.9"/>
<circle cx="22.9" cy="132.2" r="1.6" fill="rgb(141,141,141)" stroke="#3a3a3a" stroke-width="0.35" opacity="0.9"/>
<circle cx="16.9" cy="129.5" r="1.3" fill="rgb(184,184,184)" stroke="#3a3a3a" stroke-width="0.35" opacity="0.9"/>
<circle cx="11.5" cy="127.0" r="1.5" fill="rgb(110,110,110)" stroke="#3a3a3a" stroke-width="0.35" opacity="0.9"/>
<circle cx="11.9" cy="124.1" r="1.8" fill="rgb(123,123,123)" stroke="#3a3a3a" stroke-width="0.35" opacity="0.9"/>
<circle cx="15.6" cy="125.5" r="1.7" fill="rgb(115,115,115)" stroke="#3a3a3a" stroke-width="0.35" opacity="0.9"/>
<circle cx="20.6" cy="128.5" r="1.8" fill="rgb(132,132,132)" stroke="#3a3a3a" stroke-width="0.35" opacity="0.9"/>
<circle cx="7.8" cy="123.8" r="1.2" fill="rgb(126,126,126)" stroke="#3a3a3a" stroke-width="0.35" opacity="0.9"/>
<circle cx="17.8" cy="129.3" r="1.6" fill="rgb(120,120,120)" stroke="#3a3a3a" stroke-width="0.35" opacity="0.9"/>
<circle cx="24.2" cy="129.4" r="1.5" fill="rgb(182,182,182)" stroke="#3a3a3a" stroke-width="0.35" opacity="0.9"/>
<circle cx="20.4" cy="123.8" r="0.9" fill="rgb(133,133,133)" stroke="#3a3a3a" stroke-width="0.35" opacity="0.9"/>
<circle cx="17.9" cy="127.4" r="1.0" fill="rgb(152,152,152)" stroke="#3a3a3a" stroke-width="0.35" opacity="0.9"/>
<circle cx="26.7" cy="126.3" r="1.4" fill="rgb(133,133,133)" stroke="#3a3a3a" stroke-width="0.35" opacity="0.9"/>
<circle cx="15.3" cy="116.7" r="1.7" fill="rgb(194,194,194)" stroke="#3a3a3a" stroke-width="0.35" opacity="0.9"/>
<circle cx="17.5" cy="117.2" r="1.1" fill="rgb(148,148,148)" stroke="#3a3a3a" stroke-width="0.35" opacity="0.9"/>
<circle cx="11.5" cy="119.3" r="1.1" fill="rgb(197,197,197)" stroke="#3a3a3a" stroke-width="0.35" opacity="0.9"/>
<circle cx="14.8" cy="122.9" r="1.3" fill="rgb(154,154,154)" stroke="#3a3a3a" stroke-width="0.35" opacity="0.9"/>
<circle cx="17.0" cy="118.9" r="1.0" fill="rgb(125,125,125)" stroke="#3a3a3a" stroke-width="0.35" opacity="0.9"/>
<circle cx="13.1" cy="117.3" r="1.5" fill="rgb(152,152,152)" stroke="#3a3a3a" stroke-width="0.35" opacity="0.9"/>
<circle cx="21.3" cy="129.8" r="1.0" fill="rgb(181,181,181)" stroke="#3a3a3a" stroke-width="0.35" opacity="0.9"/>
<circle cx="13.3" cy="121.0" r="1.7" fill="rgb(144,144,144)" stroke="#3a3a3a" stroke-width="0.35" opacity="0.9"/>
<circle cx="21.0" cy="125.4" r="1.6" fill="rgb(183,183,183)" stroke="#3a3a3a" stroke-width="0.35" opacity="0.9"/>
<circle cx="12.6" cy="126.5" r="1.3" fill="rgb(118,118,118)" stroke="#3a3a3a" stroke-width="0.35" opacity="0.9"/>
<circle cx="19.5" cy="127.0" r="1.2" fill="rgb(160,160,160)" stroke="#3a3a3a" stroke-width="0.35" opacity="0.9"/>
<circle cx="18.2" cy="124.5" r="1.7" fill="rgb(187,187,187)" stroke="#3a3a3a" stroke-width="0.35" opacity="0.9"/>
<circle cx="14.9" cy="124.1" r="1.0" fill="rgb(160,160,160)" stroke="#3a3a3a" stroke-width="0.35" opacity="0.9"/>
<circle cx="17.6" cy="124.8" r="1.9" fill="rgb(114,114,114)" stroke="#3a3a3a" stroke-width="0.35" opacity="0.9"/>
<circle cx="16.4" cy="129.2" r="1.3" fill="rgb(200,200,200)" stroke="#3a3a3a" stroke-width="0.35" opacity="0.9"/>
<circle cx="20.1" cy="122.1" r="1.6" fill="rgb(117,117,117)" stroke="#3a3a3a" stroke-width="0.35" opacity="0.9"/>
<circle cx="17.3" cy="131.4" r="1.8" fill="rgb(167,167,167)" stroke="#3a3a3a" stroke-width="0.35" opacity="0.9"/>
<circle cx="15.5" cy="124.8" r="1.1" fill="rgb(170,170,170)" stroke="#3a3a3a" stroke-width="0.35" opacity="0.9"/>
<circle cx="21.7" cy="128.2" r="2.0" fill="rgb(156,156,156)" stroke="#3a3a3a" stroke-width="0.35" opacity="0.9"/>
<circle cx="27.0" cy="117.6" r="1.4" fill="rgb(168,168,168)" stroke="#3a3a3a" stroke-width="0.35" opacity="0.9"/>
<circle cx="24.4" cy="127.6" r="1.6" fill="rgb(137,137,137)" stroke="#3a3a3a" stroke-width="0.35" opacity="0.9"/>
<circle cx="19.8" cy="113.0" r="1.7" fill="rgb(170,170,170)" stroke="#3a3a3a" stroke-width="0.35" opacity="0.9"/>
<circle cx="22.0" cy="127.7" r="1.4" fill="rgb(126,126,126)" stroke="#3a3a3a" stroke-width="0.35" opacity="0.9"/>
<circle cx="10.8" cy="123.8" r="2.0" fill="rgb(141,141,141)" stroke="#3a3a3a" stroke-width="0.35" opacity="0.9"/>
<circle cx="18.0" cy="128.4" r="1.5" fill="rgb(185,185,185)" stroke="#3a3a3a" stroke-width="0.35" opacity="0.9"/>
<ellipse cx="10.5" cy="134.0" rx="6.0" ry="6.0" fill="#5a5a5a" opacity="0.7"/>
<circle cx="14.0" cy="136.2" r="1.8" fill="rgb(151,151,151)" stroke="#3a3a3a" stroke-width="0.35" opacity="0.9"/>
<circle cx="7.0" cy="140.3" r="1.9" fill="rgb(176,176,176)" stroke="#3a3a3a" stroke-width="0.35" opacity="0.9"/>
<circle cx="10.9" cy="133.6" r="1.2" fill="rgb(151,151,151)" stroke="#3a3a3a" stroke-width="0.35" opacity="0.9"/>
<circle cx="12.1" cy="137.2" r="1.8" fill="rgb(189,189,189)" stroke="#3a3a3a" stroke-width="0.35" opacity="0.9"/>
<circle cx="13.2" cy="136.7" r="1.1" fill="rgb(167,167,167)" stroke="#3a3a3a" stroke-width="0.35" opacity="0.9"/>
<circle cx="8.8" cy="133.6" r="2.0" fill="rgb(149,149,149)" stroke="#3a3a3a" stroke-width="0.35" opacity="0.9"/>
<circle cx="10.4" cy="138.0" r="1.2" fill="rgb(144,144,144)" stroke="#3a3a3a" stroke-width="0.35" opacity="0.9"/>
<circle cx="9.3" cy="138.5" r="1.1" fill="rgb(129,129,129)" stroke="#3a3a3a" stroke-width="0.35" opacity="0.9"/>
<circle cx="11.5" cy="135.7" r="1.0" fill="rgb(187,187,187)" stroke="#3a3a3a" stroke-width="0.35" opacity="0.9"/>
<circle cx="10.2" cy="132.2" r="1.8" fill="rgb(137,137,137)" stroke="#3a3a3a" stroke-width="0.35" opacity="0.9"/>
<circle cx="7.7" cy="135.9" r="1.3" fill="rgb(149,149,149)" stroke="#3a3a3a" stroke-width="0.35" opacity="0.9"/>
<circle cx="13.1" cy="132.2" r="1.9" fill="rgb(156,156,156)" stroke="#3a3a3a" stroke-width="0.35" opacity="0.9"/>
<circle cx="13.5" cy="140.0" r="1.3" fill="rgb(142,142,142)" stroke="#3a3a3a" stroke-width="0.35" opacity="0.9"/>
<circle cx="8.7" cy="135.6" r="1.0" fill="rgb(136,136,136)" stroke="#3a3a3a" stroke-width="0.35" opacity="0.9"/>
<circle cx="16.0" cy="133.9" r="1.5" fill="rgb(156,156,156)" stroke="#3a3a3a" stroke-width="0.35" opacity="0.9"/>
<circle cx="11.0" cy="135.8" r="1.3" fill="rgb(186,186,186)" stroke="#3a3a3a" stroke-width="0.35" opacity="0.9"/>
<circle cx="10.8" cy="131.7" r="1.6" fill="rgb(197,197,197)" stroke="#3a3a3a" stroke-width="0.35" opacity="0.9"/>
<circle cx="13.5" cy="141.1" r="1.0" fill="rgb(165,165,165)" stroke="#3a3a3a" stroke-width="0.35" opacity="0.9"/>
<circle cx="12.2" cy="130.6" r="1.3" fill="rgb(123,123,123)" stroke="#3a3a3a" stroke-width="0.35" opacity="0.9"/>
<circle cx="16.1" cy="133.5" r="1.8" fill="rgb(141,141,141)" stroke="#3a3a3a" stroke-width="0.35" opacity="0.9"/>
<circle cx="11.8" cy="128.9" r="1.7" fill="rgb(196,196,196)" stroke="#3a3a3a" stroke-width="0.35" opacity="0.9"/>
<circle cx="9.7" cy="132.8" r="0.9" fill="rgb(182,182,182)" stroke="#3a3a3a" stroke-width="0.35" opacity="0.9"/>
<circle cx="5.0" cy="131.6" r="1.0" fill="rgb(131,131,131)" stroke="#3a3a3a" stroke-width="0.35" opacity="0.9"/>
<circle cx="7.8" cy="132.4" r="1.2" fill="rgb(190,190,190)" stroke="#3a3a3a" stroke-width="0.35" opacity="0.9"/>
<circle cx="10.6" cy="131.3" r="1.0" fill="rgb(179,179,179)" stroke="#3a3a3a" stroke-width="0.35" opacity="0.9"/>
<circle cx="10.3" cy="139.8" r="1.0" fill="rgb(149,149,149)" stroke="#3a3a3a" stroke-width="0.35" opacity="0.9"/>
<circle cx="11.5" cy="128.9" r="1.5" fill="rgb(193,193,193)" stroke="#3a3a3a" stroke-width="0.35" opacity="0.9"/>
<circle cx="12.1" cy="135.2" r="1.8" fill="rgb(200,200,200)" stroke="#3a3a3a" stroke-width="0.35" opacity="0.9"/>
<circle cx="7.7" cy="130.4" r="1.2" fill="rgb(187,187,187)" stroke="#3a3a3a" stroke-width="0.35" opacity="0.9"/>
<circle cx="8.8" cy="132.6" r="1.8" fill="rgb(144,144,144)" stroke="#3a3a3a" stroke-width="0.35" opacity="0.9"/>
<circle cx="8.4" cy="132.2" r="1.1" fill="rgb(120,120,120)" stroke="#3a3a3a" stroke-width="0.35" opacity="0.9"/>
<circle cx="9.2" cy="136.0" r="1.6" fill="rgb(165,165,165)" stroke="#3a3a3a" stroke-width="0.35" opacity="0.9"/>
<ellipse cx="59.5" cy="151.0" rx="8.4" ry="8.4" fill="#5a5a5a" opacity="0.7"/>
<circle cx="64.4" cy="149.8" r="1.2" fill="rgb(190,190,190)" stroke="#3a3a3a" stroke-width="0.35" opacity="0.9"/>
<circle cx="60.9" cy="149.6" r="1.1" fill="rgb(183,183,183)" stroke="#3a3a3a" stroke-width="0.35" opacity="0.9"/>
<circle cx="56.1" cy="154.7" r="1.0" fill="rgb(140,140,140)" stroke="#3a3a3a" stroke-width="0.35" opacity="0.9"/>
<circle cx="63.2" cy="148.1" r="0.9" fill="rgb(163,163,163)" stroke="#3a3a3a" stroke-width="0.35" opacity="0.9"/>
<circle cx="63.1" cy="151.4" r="1.1" fill="rgb(121,121,121)" stroke="#3a3a3a" stroke-width="0.35" opacity="0.9"/>
<circle cx="62.0" cy="152.0" r="1.2" fill="rgb(187,187,187)" stroke="#3a3a3a" stroke-width="0.35" opacity="0.9"/>
<circle cx="64.4" cy="149.9" r="1.1" fill="rgb(198,198,198)" stroke="#3a3a3a" stroke-width="0.35" opacity="0.9"/>
<circle cx="56.4" cy="146.8" r="1.2" fill="rgb(162,162,162)" stroke="#3a3a3a" stroke-width="0.35" opacity="0.9"/>
<circle cx="61.2" cy="152.9" r="1.3" fill="rgb(132,132,132)" stroke="#3a3a3a" stroke-width="0.35" opacity="0.9"/>
<circle cx="58.8" cy="153.1" r="1.3" fill="rgb(126,126,126)" stroke="#3a3a3a" stroke-width="0.35" opacity="0.9"/>
<circle cx="53.3" cy="155.3" r="1.0" fill="rgb(140,140,140)" stroke="#3a3a3a" stroke-width="0.35" opacity="0.9"/>
<circle cx="55.9" cy="148.1" r="1.7" fill="rgb(152,152,152)" stroke="#3a3a3a" stroke-width="0.35" opacity="0.9"/>
<circle cx="60.0" cy="145.8" r="1.8" fill="rgb(122,122,122)" stroke="#3a3a3a" stroke-width="0.35" opacity="0.9"/>
<circle cx="63.2" cy="147.0" r="1.6" fill="rgb(183,183,183)" stroke="#3a3a3a" stroke-width="0.35" opacity="0.9"/>
<circle cx="62.1" cy="148.4" r="1.3" fill="rgb(129,129,129)" stroke="#3a3a3a" stroke-width="0.35" opacity="0.9"/>
<circle cx="61.7" cy="152.5" r="1.9" fill="rgb(178,178,178)" stroke="#3a3a3a" stroke-width="0.35" opacity="0.9"/>
<circle cx="62.0" cy="142.7" r="1.2" fill="rgb(163,163,163)" stroke="#3a3a3a" stroke-width="0.35" opacity="0.9"/>
<circle cx="59.5" cy="147.6" r="1.0" fill="rgb(128,128,128)" stroke="#3a3a3a" stroke-width="0.35" opacity="0.9"/>
<circle cx="58.2" cy="153.0" r="1.8" fill="rgb(154,154,154)" stroke="#3a3a3a" stroke-width="0.35" opacity="0.9"/>
<circle cx="58.8" cy="150.0" r="1.2" fill="rgb(168,168,168)" stroke="#3a3a3a" stroke-width="0.35" opacity="0.9"/>
<circle cx="52.6" cy="150.4" r="1.9" fill="rgb(200,200,200)" stroke="#3a3a3a" stroke-width="0.35" opacity="0.9"/>
<circle cx="58.3" cy="146.0" r="1.7" fill="rgb(155,155,155)" stroke="#3a3a3a" stroke-width="0.35" opacity="0.9"/>
<circle cx="59.8" cy="145.7" r="1.3" fill="rgb(155,155,155)" stroke="#3a3a3a" stroke-width="0.35" opacity="0.9"/>
<circle cx="60.5" cy="152.2" r="1.9" fill="rgb(145,145,145)" stroke="#3a3a3a" stroke-width="0.35" opacity="0.9"/>
<circle cx="61.9" cy="152.4" r="2.0" fill="rgb(190,190,190)" stroke="#3a3a3a" stroke-width="0.35" opacity="0.9"/>
<circle cx="68.8" cy="153.4" r="1.2" fill="rgb(115,115,115)" stroke="#3a3a3a" stroke-width="0.35" opacity="0.9"/>
<circle cx="63.4" cy="159.4" r="1.5" fill="rgb(179,179,179)" stroke="#3a3a3a" stroke-width="0.35" opacity="0.9"/>
<circle cx="61.2" cy="150.1" r="1.1" fill="rgb(127,127,127)" stroke="#3a3a3a" stroke-width="0.35" opacity="0.9"/>
<circle cx="54.0" cy="153.1" r="1.8" fill="rgb(196,196,196)" stroke="#3a3a3a" stroke-width="0.35" opacity="0.9"/>
<circle cx="60.7" cy="150.4" r="0.9" fill="rgb(110,110,110)" stroke="#3a3a3a" stroke-width="0.35" opacity="0.9"/>
<circle cx="59.7" cy="141.4" r="1.3" fill="rgb(140,140,140)" stroke="#3a3a3a" stroke-width="0.35" opacity="0.9"/>
<circle cx="62.4" cy="155.3" r="1.9" fill="rgb(129,129,129)" stroke="#3a3a3a" stroke-width="0.35" opacity="0.9"/>
<circle cx="55.7" cy="153.9" r="1.2" fill="rgb(183,183,183)" stroke="#3a3a3a" stroke-width="0.35" opacity="0.9"/>
<circle cx="58.0" cy="147.8" r="1.7" fill="rgb(139,139,139)" stroke="#3a3a3a" stroke-width="0.35" opacity="0.9"/>
<circle cx="60.5" cy="150.5" r="1.4" fill="rgb(172,172,172)" stroke="#3a3a3a" stroke-width="0.35" opacity="0.9"/>
<circle cx="57.7" cy="146.8" r="1.5" fill="rgb(126,126,126)" stroke="#3a3a3a" stroke-width="0.35" opacity="0.9"/>
<circle cx="49.0" cy="149.1" r="0.9" fill="rgb(194,194,194)" stroke="#3a3a3a" stroke-width="0.35" opacity="0.9"/>
<circle cx="51.3" cy="151.5" r="1.1" fill="rgb(200,200,200)" stroke="#3a3a3a" stroke-width="0.35" opacity="0.9"/>
<circle cx="51.7" cy="152.1" r="1.3" fill="rgb(153,153,153)" stroke="#3a3a3a" stroke-width="0.35" opacity="0.9"/>
<circle cx="65.6" cy="150.8" r="0.9" fill="rgb(182,182,182)" stroke="#3a3a3a" stroke-width="0.35" opacity="0.9"/>
<circle cx="57.7" cy="151.3" r="1.3" fill="rgb(125,125,125)" stroke="#3a3a3a" stroke-width="0.35" opacity="0.9"/>
<circle cx="59.2" cy="155.6" r="1.0" fill="rgb(139,139,139)" stroke="#3a3a3a" stroke-width="0.35" opacity="0.9"/>
<circle cx="62.3" cy="146.4" r="1.4" fill="rgb(178,178,178)" stroke="#3a3a3a" stroke-width="0.35" opacity="0.9"/>
<circle cx="54.4" cy="150.0" r="1.4" fill="rgb(149,149,149)" stroke="#3a3a3a" stroke-width="0.35" opacity="0.9"/>
<circle cx="60.3" cy="149.5" r="1.0" fill="rgb(137,137,137)" stroke="#3a3a3a" stroke-width="0.35" opacity="0.9"/>
<circle cx="58.3" cy="145.9" r="1.9" fill="rgb(154,154,154)" stroke="#3a3a3a" stroke-width="0.35" opacity="0.9"/>
<circle cx="64.9" cy="141.9" r="1.1" fill="rgb(195,195,195)" stroke="#3a3a3a" stroke-width="0.35" opacity="0.9"/>
<circle cx="57.2" cy="154.6" r="1.2" fill="rgb(138,138,138)" stroke="#3a3a3a" stroke-width="0.35" opacity="0.9"/>
<circle cx="56.0" cy="150.4" r="1.6" fill="rgb(111,111,111)" stroke="#3a3a3a" stroke-width="0.35" opacity="0.9"/>
<circle cx="54.3" cy="155.3" r="1.7" fill="rgb(181,181,181)" stroke="#3a3a3a" stroke-width="0.35" opacity="0.9"/>
<circle cx="57.0" cy="144.8" r="1.4" fill="rgb(183,183,183)" stroke="#3a3a3a" stroke-width="0.35" opacity="0.9"/>
<circle cx="62.1" cy="147.7" r="1.0" fill="rgb(169,169,169)" stroke="#3a3a3a" stroke-width="0.35" opacity="0.9"/>
<circle cx="56.9" cy="156.4" r="1.5" fill="rgb(188,188,188)" stroke="#3a3a3a" stroke-width="0.35" opacity="0.9"/>
<circle cx="64.2" cy="144.9" r="1.4" fill="rgb(113,113,113)" stroke="#3a3a3a" stroke-width="0.35" opacity="0.9"/>
<circle cx="60.0" cy="155.0" r="1.6" fill="rgb(132,132,132)" stroke="#3a3a3a" stroke-width="0.35" opacity="0.9"/>
<circle cx="59.9" cy="151.3" r="1.3" fill="rgb(187,187,187)" stroke="#3a3a3a" stroke-width="0.35" opacity="0.9"/>
<circle cx="54.2" cy="155.6" r="1.9" fill="rgb(154,154,154)" stroke="#3a3a3a" stroke-width="0.35" opacity="0.9"/>
<circle cx="56.3" cy="156.8" r="1.8" fill="rgb(153,153,153)" stroke="#3a3a3a" stroke-width="0.35" opacity="0.9"/>
<circle cx="64.4" cy="160.7" r="1.5" fill="rgb(128,128,128)" stroke="#3a3a3a" stroke-width="0.35" opacity="0.9"/>
<circle cx="47.9" cy="153.9" r="1.2" fill="rgb(118,118,118)" stroke="#3a3a3a" stroke-width="0.35" opacity="0.9"/>
<circle cx="61.3" cy="150.2" r="1.3" fill="rgb(138,138,138)" stroke="#3a3a3a" stroke-width="0.35" opacity="0.9"/>
<circle cx="49.2" cy="148.7" r="1.2" fill="rgb(162,162,162)" stroke="#3a3a3a" stroke-width="0.35" opacity="0.9"/>
<circle cx="64.1" cy="153.4" r="1.7" fill="rgb(113,113,113)" stroke="#3a3a3a" stroke-width="0.35" opacity="0.9"/>
<ellipse cx="67.5" cy="162.0" rx="7.2" ry="4.8" fill="#5a5a5a" opacity="0.7"/>
<circle cx="64.5" cy="164.4" r="1.9" fill="rgb(192,192,192)" stroke="#3a3a3a" stroke-width="0.35" opacity="0.9"/>
<circle cx="69.5" cy="160.7" r="1.8" fill="rgb(158,158,158)" stroke="#3a3a3a" stroke-width="0.35" opacity="0.9"/>
<circle cx="67.0" cy="162.4" r="1.2" fill="rgb(112,112,112)" stroke="#3a3a3a" stroke-width="0.35" opacity="0.9"/>
<circle cx="64.3" cy="164.3" r="1.2" fill="rgb(112,112,112)" stroke="#3a3a3a" stroke-width="0.35" opacity="0.9"/>
<circle cx="63.6" cy="161.5" r="1.6" fill="rgb(200,200,200)" stroke="#3a3a3a" stroke-width="0.35" opacity="0.9"/>
<circle cx="72.5" cy="163.6" r="1.3" fill="rgb(153,153,153)" stroke="#3a3a3a" stroke-width="0.35" opacity="0.9"/>
<circle cx="73.2" cy="161.0" r="1.8" fill="rgb(128,128,128)" stroke="#3a3a3a" stroke-width="0.35" opacity="0.9"/>
<circle cx="65.0" cy="162.6" r="1.1" fill="rgb(168,168,168)" stroke="#3a3a3a" stroke-width="0.35" opacity="0.9"/>
<circle cx="70.6" cy="156.8" r="1.3" fill="rgb(178,178,178)" stroke="#3a3a3a" stroke-width="0.35" opacity="0.9"/>
<circle cx="64.2" cy="158.0" r="1.3" fill="rgb(170,170,170)" stroke="#3a3a3a" stroke-width="0.35" opacity="0.9"/>
<circle cx="61.6" cy="160.0" r="1.0" fill="rgb(181,181,181)" stroke="#3a3a3a" stroke-width="0.35" opacity="0.9"/>
<circle cx="60.7" cy="160.7" r="1.0" fill="rgb(113,113,113)" stroke="#3a3a3a" stroke-width="0.35" opacity="0.9"/>
<circle cx="65.5" cy="164.0" r="1.8" fill="rgb(166,166,166)" stroke="#3a3a3a" stroke-width="0.35" opacity="0.9"/>
<circle cx="67.3" cy="162.1" r="1.0" fill="rgb(147,147,147)" stroke="#3a3a3a" stroke-width="0.35" opacity="0.9"/>
<circle cx="69.4" cy="163.4" r="1.8" fill="rgb(179,179,179)" stroke="#3a3a3a" stroke-width="0.35" opacity="0.9"/>
<circle cx="69.1" cy="161.0" r="0.9" fill="rgb(196,196,196)" stroke="#3a3a3a" stroke-width="0.35" opacity="0.9"/>
<circle cx="64.7" cy="160.7" r="0.9" fill="rgb(113,113,113)" stroke="#3a3a3a" stroke-width="0.35" opacity="0.9"/>
<circle cx="67.3" cy="163.8" r="1.0" fill="rgb(165,165,165)" stroke="#3a3a3a" stroke-width="0.35" opacity="0.9"/>
<circle cx="67.9" cy="162.9" r="1.7" fill="rgb(167,167,167)" stroke="#3a3a3a" stroke-width="0.35" opacity="0.9"/>
<circle cx="67.7" cy="163.1" r="1.5" fill="rgb(123,123,123)" stroke="#3a3a3a" stroke-width="0.35" opacity="0.9"/>
<circle cx="66.1" cy="163.9" r="1.4" fill="rgb(124,124,124)" stroke="#3a3a3a" stroke-width="0.35" opacity="0.9"/>
<circle cx="68.6" cy="159.4" r="1.1" fill="rgb(130,130,130)" stroke="#3a3a3a" stroke-width="0.35" opacity="0.9"/>
<circle cx="68.2" cy="160.5" r="1.0" fill="rgb(158,158,158)" stroke="#3a3a3a" stroke-width="0.35" opacity="0.9"/>
<circle cx="71.3" cy="163.8" r="1.4" fill="rgb(190,190,190)" stroke="#3a3a3a" stroke-width="0.35" opacity="0.9"/>
<circle cx="67.4" cy="158.4" r="1.3" fill="rgb(119,119,119)" stroke="#3a3a3a" stroke-width="0.35" opacity="0.9"/>
<circle cx="72.2" cy="163.8" r="1.4" fill="rgb(126,126,126)" stroke="#3a3a3a" stroke-width="0.35" opacity="0.9"/>
<circle cx="66.1" cy="162.9" r="1.9" fill="rgb(170,170,170)" stroke="#3a3a3a" stroke-width="0.35" opacity="0.9"/>
<circle cx="69.1" cy="164.5" r="1.5" fill="rgb(173,173,173)" stroke="#3a3a3a" stroke-width="0.35" opacity="0.9"/>
<circle cx="72.1" cy="161.9" r="1.3" fill="rgb(186,186,186)" stroke="#3a3a3a" stroke-width="0.35" opacity="0.9"/>
<circle cx="62.1" cy="159.5" r="1.2" fill="rgb(138,138,138)" stroke="#3a3a3a" stroke-width="0.35" opacity="0.9"/>
<circle cx="62.5" cy="153.6" r="1.3" fill="rgb(167,167,167)" stroke="#3a3a3a" stroke-width="0.35" opacity="0.9"/>
<ellipse cx="94.5" cy="159.0" rx="7.2" ry="6.0" fill="#5a5a5a" opacity="0.7"/>
<circle cx="89.7" cy="160.7" r="1.9" fill="rgb(173,173,173)" stroke="#3a3a3a" stroke-width="0.35" opacity="0.9"/>
<circle cx="95.4" cy="164.6" r="1.3" fill="rgb(136,136,136)" stroke="#3a3a3a" stroke-width="0.35" opacity="0.9"/>
<circle cx="93.1" cy="162.2" r="1.7" fill="rgb(119,119,119)" stroke="#3a3a3a" stroke-width="0.35" opacity="0.9"/>
<circle cx="101.8" cy="157.8" r="1.4" fill="rgb(190,190,190)" stroke="#3a3a3a" stroke-width="0.35" opacity="0.9"/>
<circle cx="95.4" cy="159.4" r="1.4" fill="rgb(161,161,161)" stroke="#3a3a3a" stroke-width="0.35" opacity="0.9"/>
<circle cx="103.0" cy="158.3" r="1.0" fill="rgb(113,113,113)" stroke="#3a3a3a" stroke-width="0.35" opacity="0.9"/>
<circle cx="86.7" cy="162.9" r="1.3" fill="rgb(154,154,154)" stroke="#3a3a3a" stroke-width="0.35" opacity="0.9"/>
<circle cx="97.4" cy="165.5" r="1.1" fill="rgb(189,189,189)" stroke="#3a3a3a" stroke-width="0.35" opacity="0.9"/>
<circle cx="102.9" cy="156.3" r="1.7" fill="rgb(110,110,110)" stroke="#3a3a3a" stroke-width="0.35" opacity="0.9"/>
<circle cx="99.5" cy="160.6" r="0.9" fill="rgb(174,174,174)" stroke="#3a3a3a" stroke-width="0.35" opacity="0.9"/>
<circle cx="95.1" cy="157.7" r="1.8" fill="rgb(200,200,200)" stroke="#3a3a3a" stroke-width="0.35" opacity="0.9"/>
<circle cx="101.3" cy="158.1" r="1.7" fill="rgb(159,159,159)" stroke="#3a3a3a" stroke-width="0.35" opacity="0.9"/>
<circle cx="102.6" cy="158.6" r="1.9" fill="rgb(155,155,155)" stroke="#3a3a3a" stroke-width="0.35" opacity="0.9"/>
<circle cx="93.9" cy="157.4" r="0.9" fill="rgb(189,189,189)" stroke="#3a3a3a" stroke-width="0.35" opacity="0.9"/>
<circle cx="93.6" cy="155.7" r="1.5" fill="rgb(196,196,196)" stroke="#3a3a3a" stroke-width="0.35" opacity="0.9"/>
<circle cx="91.6" cy="159.5" r="1.9" fill="rgb(178,178,178)" stroke="#3a3a3a" stroke-width="0.35" opacity="0.9"/>
<circle cx="103.6" cy="162.4" r="1.9" fill="rgb(112,112,112)" stroke="#3a3a3a" stroke-width="0.35" opacity="0.9"/>
<circle cx="87.5" cy="158.1" r="1.8" fill="rgb(110,110,110)" stroke="#3a3a3a" stroke-width="0.35" opacity="0.9"/>
<circle cx="96.8" cy="154.1" r="1.8" fill="rgb(171,171,171)" stroke="#3a3a3a" stroke-width="0.35" opacity="0.9"/>
<circle cx="94.1" cy="162.0" r="1.9" fill="rgb(125,125,125)" stroke="#3a3a3a" stroke-width="0.35" opacity="0.9"/>
<circle cx="96.6" cy="155.8" r="1.2" fill="rgb(178,178,178)" stroke="#3a3a3a" stroke-width="0.35" opacity="0.9"/>
<circle cx="96.8" cy="160.8" r="0.9" fill="rgb(138,138,138)" stroke="#3a3a3a" stroke-width="0.35" opacity="0.9"/>
<circle cx="89.2" cy="161.6" r="1.8" fill="rgb(176,176,176)" stroke="#3a3a3a" stroke-width="0.35" opacity="0.9"/>
<circle cx="96.7" cy="162.2" r="1.6" fill="rgb(184,184,184)" stroke="#3a3a3a" stroke-width="0.35" opacity="0.9"/>
<circle cx="96.0" cy="158.7" r="1.7" fill="rgb(191,191,191)" stroke="#3a3a3a" stroke-width="0.35" opacity="0.9"/>
<circle cx="100.3" cy="168.3" r="1.3" fill="rgb(138,138,138)" stroke="#3a3a3a" stroke-width="0.35" opacity="0.9"/>
<circle cx="91.5" cy="162.7" r="1.5" fill="rgb(117,117,117)" stroke="#3a3a3a" stroke-width="0.35" opacity="0.9"/>
<circle cx="95.5" cy="161.4" r="0.9" fill="rgb(173,173,173)" stroke="#3a3a3a" stroke-width="0.35" opacity="0.9"/>
<circle cx="92.6" cy="161.7" r="1.7" fill="rgb(135,135,135)" stroke="#3a3a3a" stroke-width="0.35" opacity="0.9"/>
<circle cx="96.9" cy="158.2" r="0.9" fill="rgb(199,199,199)" stroke="#3a3a3a" stroke-width="0.35" opacity="0.9"/>
<circle cx="94.1" cy="155.1" r="1.3" fill="rgb(153,153,153)" stroke="#3a3a3a" stroke-width="0.35" opacity="0.9"/>
<circle cx="93.3" cy="159.9" r="1.0" fill="rgb(182,182,182)" stroke="#3a3a3a" stroke-width="0.35" opacity="0.9"/>
<circle cx="95.3" cy="159.7" r="1.7" fill="rgb(179,179,179)" stroke="#3a3a3a" stroke-width="0.35" opacity="0.9"/>
<circle cx="92.7" cy="157.6" r="1.7" fill="rgb(198,198,198)" stroke="#3a3a3a" stroke-width="0.35" opacity="0.9"/>
<circle cx="89.6" cy="158.2" r="1.4" fill="rgb(189,189,189)" stroke="#3a3a3a" stroke-width="0.35" opacity="0.9"/>
<circle cx="94.3" cy="160.7" r="1.9" fill="rgb(140,140,140)" stroke="#3a3a3a" stroke-width="0.35" opacity="0.9"/>
<circle cx="81.9" cy="161.9" r="1.4" fill="rgb(190,190,190)" stroke="#3a3a3a" stroke-width="0.35" opacity="0.9"/>
<circle cx="87.6" cy="160.2" r="1.1" fill="rgb(175,175,175)" stroke="#3a3a3a" stroke-width="0.35" opacity="0.9"/>
<circle cx="86.7" cy="159.8" r="1.5" fill="rgb(139,139,139)" stroke="#3a3a3a" stroke-width="0.35" opacity="0.9"/>
<ellipse cx="138.5" cy="77.0" rx="8.4" ry="7.2" fill="#5a5a5a" opacity="0.7"/>
<circle cx="132.0" cy="73.9" r="1.5" fill="rgb(191,191,191)" stroke="#3a3a3a" stroke-width="0.35" opacity="0.9"/>
<circle cx="150.3" cy="77.0" r="1.8" fill="rgb(193,193,193)" stroke="#3a3a3a" stroke-width="0.35" opacity="0.9"/>
<circle cx="150.3" cy="82.0" r="1.7" fill="rgb(126,126,126)" stroke="#3a3a3a" stroke-width="0.35" opacity="0.9"/>
<circle cx="139.1" cy="77.5" r="1.4" fill="rgb(191,191,191)" stroke="#3a3a3a" stroke-width="0.35" opacity="0.9"/>
<circle cx="134.6" cy="76.1" r="1.8" fill="rgb(110,110,110)" stroke="#3a3a3a" stroke-width="0.35" opacity="0.9"/>
<circle cx="141.8" cy="77.0" r="1.2" fill="rgb(171,171,171)" stroke="#3a3a3a" stroke-width="0.35" opacity="0.9"/>
<circle cx="140.7" cy="79.1" r="1.3" fill="rgb(151,151,151)" stroke="#3a3a3a" stroke-width="0.35" opacity="0.9"/>
<circle cx="146.4" cy="77.8" r="1.7" fill="rgb(128,128,128)" stroke="#3a3a3a" stroke-width="0.35" opacity="0.9"/>
<circle cx="135.3" cy="72.5" r="1.0" fill="rgb(173,173,173)" stroke="#3a3a3a" stroke-width="0.35" opacity="0.9"/>
<circle cx="135.8" cy="77.6" r="1.8" fill="rgb(170,170,170)" stroke="#3a3a3a" stroke-width="0.35" opacity="0.9"/>
<circle cx="142.1" cy="79.9" r="1.5" fill="rgb(127,127,127)" stroke="#3a3a3a" stroke-width="0.35" opacity="0.9"/>
<circle cx="141.2" cy="77.1" r="1.5" fill="rgb(125,125,125)" stroke="#3a3a3a" stroke-width="0.35" opacity="0.9"/>
<circle cx="134.5" cy="73.4" r="1.3" fill="rgb(134,134,134)" stroke="#3a3a3a" stroke-width="0.35" opacity="0.9"/>
<circle cx="137.0" cy="75.0" r="1.5" fill="rgb(118,118,118)" stroke="#3a3a3a" stroke-width="0.35" opacity="0.9"/>
<circle cx="144.9" cy="79.8" r="1.1" fill="rgb(148,148,148)" stroke="#3a3a3a" stroke-width="0.35" opacity="0.9"/>
<circle cx="142.5" cy="80.1" r="2.0" fill="rgb(154,154,154)" stroke="#3a3a3a" stroke-width="0.35" opacity="0.9"/>
<circle cx="138.0" cy="79.3" r="1.3" fill="rgb(158,158,158)" stroke="#3a3a3a" stroke-width="0.35" opacity="0.9"/>
<circle cx="137.1" cy="74.7" r="1.3" fill="rgb(124,124,124)" stroke="#3a3a3a" stroke-width="0.35" opacity="0.9"/>
<circle cx="133.9" cy="79.0" r="1.1" fill="rgb(122,122,122)" stroke="#3a3a3a" stroke-width="0.35" opacity="0.9"/>
<circle cx="142.1" cy="81.3" r="1.1" fill="rgb(145,145,145)" stroke="#3a3a3a" stroke-width="0.35" opacity="0.9"/>
<circle cx="138.5" cy="74.5" r="1.5" fill="rgb(199,199,199)" stroke="#3a3a3a" stroke-width="0.35" opacity="0.9"/>
<circle cx="139.2" cy="79.2" r="1.3" fill="rgb(131,131,131)" stroke="#3a3a3a" stroke-width="0.35" opacity="0.9"/>
<circle cx="133.3" cy="83.1" r="1.6" fill="rgb(170,170,170)" stroke="#3a3a3a" stroke-width="0.35" opacity="0.9"/>
<circle cx="140.0" cy="76.8" r="1.9" fill="rgb(121,121,121)" stroke="#3a3a3a" stroke-width="0.35" opacity="0.9"/>
<circle cx="140.3" cy="77.3" r="1.5" fill="rgb(112,112,112)" stroke="#3a3a3a" stroke-width="0.35" opacity="0.9"/>
<circle cx="138.6" cy="75.3" r="1.3" fill="rgb(186,186,186)" stroke="#3a3a3a" stroke-width="0.35" opacity="0.9"/>
<circle cx="129.0" cy="81.4" r="1.3" fill="rgb(185,185,185)" stroke="#3a3a3a" stroke-width="0.35" opacity="0.9"/>
<circle cx="133.6" cy="75.2" r="2.0" fill="rgb(160,160,160)" stroke="#3a3a3a" stroke-width="0.35" opacity="0.9"/>
<circle cx="145.7" cy="76.5" r="1.5" fill="rgb(198,198,198)" stroke="#3a3a3a" stroke-width="0.35" opacity="0.9"/>
<circle cx="139.6" cy="76.5" r="1.2" fill="rgb(191,191,191)" stroke="#3a3a3a" stroke-width="0.35" opacity="0.9"/>
<circle cx="139.6" cy="81.6" r="1.4" fill="rgb(136,136,136)" stroke="#3a3a3a" stroke-width="0.35" opacity="0.9"/>
<circle cx="134.2" cy="78.7" r="1.7" fill="rgb(139,139,139)" stroke="#3a3a3a" stroke-width="0.35" opacity="0.9"/>
<circle cx="134.1" cy="77.3" r="1.7" fill="rgb(119,119,119)" stroke="#3a3a3a" stroke-width="0.35" opacity="0.9"/>
<circle cx="154.0" cy="76.1" r="1.8" fill="rgb(148,148,148)" stroke="#3a3a3a" stroke-width="0.35" opacity="0.9"/>
<circle cx="136.4" cy="70.0" r="1.7" fill="rgb(143,143,143)" stroke="#3a3a3a" stroke-width="0.35" opacity="0.9"/>
<circle cx="134.8" cy="78.1" r="0.9" fill="rgb(115,115,115)" stroke="#3a3a3a" stroke-width="0.35" opacity="0.9"/>
<circle cx="142.6" cy="82.8" r="1.2" fill="rgb(170,170,170)" stroke="#3a3a3a" stroke-width="0.35" opacity="0.9"/>
<circle cx="136.9" cy="77.1" r="1.1" fill="rgb(172,172,172)" stroke="#3a3a3a" stroke-width="0.35" opacity="0.9"/>
<circle cx="143.2" cy="76.2" r="1.2" fill="rgb(166,166,166)" stroke="#3a3a3a" stroke-width="0.35" opacity="0.9"/>
<circle cx="136.8" cy="78.2" r="0.9" fill="rgb(153,153,153)" stroke="#3a3a3a" stroke-width="0.35" opacity="0.9"/>
<circle cx="141.9" cy="78.8" r="1.1" fill="rgb(181,181,181)" stroke="#3a3a3a" stroke-width="0.35" opacity="0.9"/>
<circle cx="136.6" cy="80.4" r="1.6" fill="rgb(150,150,150)" stroke="#3a3a3a" stroke-width="0.35" opacity="0.9"/>
<circle cx="145.0" cy="84.5" r="1.9" fill="rgb(110,110,110)" stroke="#3a3a3a" stroke-width="0.35" opacity="0.9"/>
<circle cx="135.2" cy="79.1" r="2.0" fill="rgb(138,138,138)" stroke="#3a3a3a" stroke-width="0.35" opacity="0.9"/>
<circle cx="134.1" cy="74.8" r="0.9" fill="rgb(166,166,166)" stroke="#3a3a3a" stroke-width="0.35" opacity="0.9"/>
<circle cx="132.0" cy="73.2" r="1.3" fill="rgb(185,185,185)" stroke="#3a3a3a" stroke-width="0.35" opacity="0.9"/>
<circle cx="138.1" cy="75.0" r="2.0" fill="rgb(114,114,114)" stroke="#3a3a3a" stroke-width="0.35" opacity="0.9"/>
<circle cx="144.8" cy="79.4" r="1.3" fill="rgb(182,182,182)" stroke="#3a3a3a" stroke-width="0.35" opacity="0.9"/>
<circle cx="134.4" cy="77.2" r="1.5" fill="rgb(192,192,192)" stroke="#3a3a3a" stroke-width="0.35" opacity="0.9"/>
<circle cx="137.1" cy="84.5" r="1.1" fill="rgb(135,135,135)" stroke="#3a3a3a" stroke-width="0.35" opacity="0.9"/>
<circle cx="141.5" cy="82.3" r="1.5" fill="rgb(144,144,144)" stroke="#3a3a3a" stroke-width="0.35" opacity="0.9"/>
<circle cx="130.2" cy="78.4" r="2.0" fill="rgb(136,136,136)" stroke="#3a3a3a" stroke-width="0.35" opacity="0.9"/>
<circle cx="139.9" cy="71.4" r="1.8" fill="rgb(174,174,174)" stroke="#3a3a3a" stroke-width="0.35" opacity="0.9"/>
<circle cx="138.7" cy="75.4" r="1.4" fill="rgb(125,125,125)" stroke="#3a3a3a" stroke-width="0.35" opacity="0.9"/>
<ellipse cx="130.5" cy="102.0" rx="8.4" ry="8.4" fill="#5a5a5a" opacity="0.7"/>
<circle cx="121.8" cy="103.6" r="1.4" fill="rgb(138,138,138)" stroke="#3a3a3a" stroke-width="0.35" opacity="0.9"/>
<circle cx="136.0" cy="94.6" r="1.0" fill="rgb(142,142,142)" stroke="#3a3a3a" stroke-width="0.35" opacity="0.9"/>
<circle cx="129.6" cy="99.3" r="1.4" fill="rgb(130,130,130)" stroke="#3a3a3a" stroke-width="0.35" opacity="0.9"/>
<circle cx="133.3" cy="105.9" r="1.4" fill="rgb(187,187,187)" stroke="#3a3a3a" stroke-width="0.35" opacity="0.9"/>
<circle cx="125.1" cy="106.0" r="1.7" fill="rgb(123,123,123)" stroke="#3a3a3a" stroke-width="0.35" opacity="0.9"/>
<circle cx="124.7" cy="101.7" r="1.8" fill="rgb(140,140,140)" stroke="#3a3a3a" stroke-width="0.35" opacity="0.9"/>
<circle cx="129.4" cy="101.2" r="1.9" fill="rgb(147,147,147)" stroke="#3a3a3a" stroke-width="0.35" opacity="0.9"/>
<circle cx="135.6" cy="98.8" r="1.6" fill="rgb(131,131,131)" stroke="#3a3a3a" stroke-width="0.35" opacity="0.9"/>
<circle cx="132.7" cy="101.4" r="0.9" fill="rgb(184,184,184)" stroke="#3a3a3a" stroke-width="0.35" opacity="0.9"/>
<circle cx="129.5" cy="96.9" r="1.2" fill="rgb(136,136,136)" stroke="#3a3a3a" stroke-width="0.35" opacity="0.9"/>
<circle cx="141.2" cy="96.3" r="1.0" fill="rgb(116,116,116)" stroke="#3a3a3a" stroke-width="0.35" opacity="0.9"/>
<circle cx="130.4" cy="104.4" r="1.8" fill="rgb(159,159,159)" stroke="#3a3a3a" stroke-width="0.35" opacity="0.9"/>
<circle cx="133.7" cy="105.8" r="2.0" fill="rgb(124,124,124)" stroke="#3a3a3a" stroke-width="0.35" opacity="0.9"/>
<circle cx="132.3" cy="105.2" r="1.3" fill="rgb(167,167,167)" stroke="#3a3a3a" stroke-width="0.35" opacity="0.9"/>
<circle cx="131.1" cy="99.4" r="1.2" fill="rgb(158,158,158)" stroke="#3a3a3a" stroke-width="0.35" opacity="0.9"/>
<circle cx="136.3" cy="102.4" r="1.0" fill="rgb(161,161,161)" stroke="#3a3a3a" stroke-width="0.35" opacity="0.9"/>
<circle cx="122.0" cy="106.4" r="1.1" fill="rgb(120,120,120)" stroke="#3a3a3a" stroke-width="0.35" opacity="0.9"/>
<circle cx="130.7" cy="103.3" r="1.0" fill="rgb(123,123,123)" stroke="#3a3a3a" stroke-width="0.35" opacity="0.9"/>
<circle cx="132.0" cy="91.2" r="1.5" fill="rgb(119,119,119)" stroke="#3a3a3a" stroke-width="0.35" opacity="0.9"/>
<circle cx="130.3" cy="100.9" r="1.5" fill="rgb(122,122,122)" stroke="#3a3a3a" stroke-width="0.35" opacity="0.9"/>
<circle cx="125.7" cy="101.7" r="1.7" fill="rgb(179,179,179)" stroke="#3a3a3a" stroke-width="0.35" opacity="0.9"/>
<circle cx="133.6" cy="104.1" r="1.0" fill="rgb(151,151,151)" stroke="#3a3a3a" stroke-width="0.35" opacity="0.9"/>
<circle cx="131.6" cy="102.9" r="1.2" fill="rgb(161,161,161)" stroke="#3a3a3a" stroke-width="0.35" opacity="0.9"/>
<circle cx="129.3" cy="101.6" r="1.3" fill="rgb(191,191,191)" stroke="#3a3a3a" stroke-width="0.35" opacity="0.9"/>
<circle cx="135.8" cy="107.2" r="1.7" fill="rgb(155,155,155)" stroke="#3a3a3a" stroke-width="0.35" opacity="0.9"/>
<circle cx="133.5" cy="101.2" r="1.4" fill="rgb(170,170,170)" stroke="#3a3a3a" stroke-width="0.35" opacity="0.9"/>
<circle cx="131.0" cy="104.2" r="1.6" fill="rgb(137,137,137)" stroke="#3a3a3a" stroke-width="0.35" opacity="0.9"/>
<circle cx="131.2" cy="95.6" r="2.0" fill="rgb(189,189,189)" stroke="#3a3a3a" stroke-width="0.35" opacity="0.9"/>
<circle cx="133.7" cy="101.4" r="1.2" fill="rgb(119,119,119)" stroke="#3a3a3a" stroke-width="0.35" opacity="0.9"/>
<circle cx="133.7" cy="104.1" r="1.2" fill="rgb(124,124,124)" stroke="#3a3a3a" stroke-width="0.35" opacity="0.9"/>
<circle cx="131.8" cy="99.7" r="1.1" fill="rgb(187,187,187)" stroke="#3a3a3a" stroke-width="0.35" opacity="0.9"/>
<circle cx="131.2" cy="97.0" r="1.0" fill="rgb(163,163,163)" stroke="#3a3a3a" stroke-width="0.35" opacity="0.9"/>
<circle cx="131.1" cy="103.2" r="1.7" fill="rgb(138,138,138)" stroke="#3a3a3a" stroke-width="0.35" opacity="0.9"/>
<circle cx="130.5" cy="109.5" r="1.5" fill="rgb(146,146,146)" stroke="#3a3a3a" stroke-width="0.35" opacity="0.9"/>
<circle cx="129.4" cy="102.2" r="1.9" fill="rgb(155,155,155)" stroke="#3a3a3a" stroke-width="0.35" opacity="0.9"/>
<circle cx="122.9" cy="98.7" r="1.3" fill="rgb(118,118,118)" stroke="#3a3a3a" stroke-width="0.35" opacity="0.9"/>
<circle cx="126.5" cy="102.9" r="1.6" fill="rgb(165,165,165)" stroke="#3a3a3a" stroke-width="0.35" opacity="0.9"/>
<circle cx="132.8" cy="107.0" r="1.3" fill="rgb(164,164,164)" stroke="#3a3a3a" stroke-width="0.35" opacity="0.9"/>
<circle cx="132.9" cy="102.2" r="1.9" fill="rgb(170,170,170)" stroke="#3a3a3a" stroke-width="0.35" opacity="0.9"/>
<circle cx="128.3" cy="107.2" r="1.8" fill="rgb(143,143,143)" stroke="#3a3a3a" stroke-width="0.35" opacity="0.9"/>
<circle cx="132.1" cy="101.0" r="1.0" fill="rgb(169,169,169)" stroke="#3a3a3a" stroke-width="0.35" opacity="0.9"/>
<circle cx="125.3" cy="101.7" r="1.1" fill="rgb(126,126,126)" stroke="#3a3a3a" stroke-width="0.35" opacity="0.9"/>
<circle cx="130.7" cy="105.7" r="1.1" fill="rgb(173,173,173)" stroke="#3a3a3a" stroke-width="0.35" opacity="0.9"/>
<circle cx="138.6" cy="96.3" r="1.2" fill="rgb(148,148,148)" stroke="#3a3a3a" stroke-width="0.35" opacity="0.9"/>
<circle cx="125.5" cy="99.0" r="0.9" fill="rgb(119,119,119)" stroke="#3a3a3a" stroke-width="0.35" opacity="0.9"/>
<circle cx="128.7" cy="107.5" r="1.2" fill="rgb(196,196,196)" stroke="#3a3a3a" stroke-width="0.35" opacity="0.9"/>
<circle cx="132.6" cy="105.4" r="1.8" fill="rgb(148,148,148)" stroke="#3a3a3a" stroke-width="0.35" opacity="0.9"/>
<circle cx="123.4" cy="103.8" r="1.0" fill="rgb(197,197,197)" stroke="#3a3a3a" stroke-width="0.35" opacity="0.9"/>
<circle cx="130.5" cy="103.1" r="1.6" fill="rgb(176,176,176)" stroke="#3a3a3a" stroke-width="0.35" opacity="0.9"/>
<circle cx="125.7" cy="102.3" r="1.7" fill="rgb(183,183,183)" stroke="#3a3a3a" stroke-width="0.35" opacity="0.9"/>
<circle cx="125.5" cy="103.0" r="1.2" fill="rgb(163,163,163)" stroke="#3a3a3a" stroke-width="0.35" opacity="0.9"/>
<circle cx="140.1" cy="105.4" r="1.3" fill="rgb(169,169,169)" stroke="#3a3a3a" stroke-width="0.35" opacity="0.9"/>
<circle cx="128.8" cy="104.2" r="1.6" fill="rgb(151,151,151)" stroke="#3a3a3a" stroke-width="0.35" opacity="0.9"/>
<circle cx="126.7" cy="100.8" r="1.2" fill="rgb(175,175,175)" stroke="#3a3a3a" stroke-width="0.35" opacity="0.9"/>
<circle cx="131.4" cy="102.5" r="1.7" fill="rgb(130,130,130)" stroke="#3a3a3a" stroke-width="0.35" opacity="0.9"/>
<circle cx="135.2" cy="105.5" r="0.9" fill="rgb(186,186,186)" stroke="#3a3a3a" stroke-width="0.35" opacity="0.9"/>
<circle cx="122.9" cy="104.4" r="1.6" fill="rgb(159,159,159)" stroke="#3a3a3a" stroke-width="0.35" opacity="0.9"/>
<circle cx="126.9" cy="107.2" r="1.0" fill="rgb(115,115,115)" stroke="#3a3a3a" stroke-width="0.35" opacity="0.9"/>
<circle cx="133.3" cy="109.5" r="2.0" fill="rgb(131,131,131)" stroke="#3a3a3a" stroke-width="0.35" opacity="0.9"/>
<circle cx="141.5" cy="99.4" r="1.2" fill="rgb(192,192,192)" stroke="#3a3a3a" stroke-width="0.35" opacity="0.9"/>
<circle cx="129.2" cy="104.0" r="1.9" fill="rgb(162,162,162)" stroke="#3a3a3a" stroke-width="0.35" opacity="0.9"/>
<circle cx="129.2" cy="103.6" r="1.9" fill="rgb(200,200,200)" stroke="#3a3a3a" stroke-width="0.35" opacity="0.9"/>
<circle cx="121.2" cy="105.6" r="1.6" fill="rgb(189,189,189)" stroke="#3a3a3a" stroke-width="0.35" opacity="0.9"/>
<ellipse cx="134.5" cy="116.0" rx="7.2" ry="6.0" fill="#5a5a5a" opacity="0.7"/>
<circle cx="135.8" cy="118.5" r="1.1" fill="rgb(151,151,151)" stroke="#3a3a3a" stroke-width="0.35" opacity="0.9"/>
<circle cx="132.6" cy="109.8" r="1.8" fill="rgb(169,169,169)" stroke="#3a3a3a" stroke-width="0.35" opacity="0.9"/>
<circle cx="139.6" cy="113.1" r="1.0" fill="rgb(137,137,137)" stroke="#3a3a3a" stroke-width="0.35" opacity="0.9"/>
<circle cx="126.4" cy="114.1" r="1.4" fill="rgb(184,184,184)" stroke="#3a3a3a" stroke-width="0.35" opacity="0.9"/>
<circle cx="131.1" cy="121.9" r="1.8" fill="rgb(120,120,120)" stroke="#3a3a3a" stroke-width="0.35" opacity="0.9"/>
<circle cx="134.3" cy="114.3" r="1.5" fill="rgb(179,179,179)" stroke="#3a3a3a" stroke-width="0.35" opacity="0.9"/>
<circle cx="131.5" cy="112.0" r="1.4" fill="rgb(142,142,142)" stroke="#3a3a3a" stroke-width="0.35" opacity="0.9"/>
<circle cx="137.2" cy="114.7" r="1.5" fill="rgb(145,145,145)" stroke="#3a3a3a" stroke-width="0.35" opacity="0.9"/>
<circle cx="136.8" cy="118.9" r="1.6" fill="rgb(130,130,130)" stroke="#3a3a3a" stroke-width="0.35" opacity="0.9"/>
<circle cx="134.8" cy="112.6" r="1.0" fill="rgb(118,118,118)" stroke="#3a3a3a" stroke-width="0.35" opacity="0.9"/>
<circle cx="134.0" cy="117.2" r="1.4" fill="rgb(191,191,191)" stroke="#3a3a3a" stroke-width="0.35" opacity="0.9"/>
<circle cx="139.9" cy="117.4" r="1.6" fill="rgb(151,151,151)" stroke="#3a3a3a" stroke-width="0.35" opacity="0.9"/>
<circle cx="135.3" cy="114.1" r="1.5" fill="rgb(171,171,171)" stroke="#3a3a3a" stroke-width="0.35" opacity="0.9"/>
<circle cx="133.9" cy="114.5" r="1.2" fill="rgb(119,119,119)" stroke="#3a3a3a" stroke-width="0.35" opacity="0.9"/>
<circle cx="130.6" cy="114.5" r="1.7" fill="rgb(124,124,124)" stroke="#3a3a3a" stroke-width="0.35" opacity="0.9"/>
<circle cx="140.5" cy="121.3" r="1.6" fill="rgb(173,173,173)" stroke="#3a3a3a" stroke-width="0.35" opacity="0.9"/>
<circle cx="133.9" cy="116.7" r="2.0" fill="rgb(196,196,196)" stroke="#3a3a3a" stroke-width="0.35" opacity="0.9"/>
<circle cx="133.3" cy="114.6" r="1.8" fill="rgb(119,119,119)" stroke="#3a3a3a" stroke-width="0.35" opacity="0.9"/>
<circle cx="132.9" cy="116.6" r="1.1" fill="rgb(146,146,146)" stroke="#3a3a3a" stroke-width="0.35" opacity="0.9"/>
<circle cx="133.8" cy="121.7" r="1.5" fill="rgb(193,193,193)" stroke="#3a3a3a" stroke-width="0.35" opacity="0.9"/>
<circle cx="134.4" cy="119.1" r="1.3" fill="rgb(138,138,138)" stroke="#3a3a3a" stroke-width="0.35" opacity="0.9"/>
<circle cx="134.9" cy="112.1" r="1.2" fill="rgb(119,119,119)" stroke="#3a3a3a" stroke-width="0.35" opacity="0.9"/>
<circle cx="127.4" cy="114.3" r="1.0" fill="rgb(165,165,165)" stroke="#3a3a3a" stroke-width="0.35" opacity="0.9"/>
<circle cx="136.3" cy="116.7" r="1.0" fill="rgb(155,155,155)" stroke="#3a3a3a" stroke-width="0.35" opacity="0.9"/>
<circle cx="134.4" cy="118.1" r="1.6" fill="rgb(195,195,195)" stroke="#3a3a3a" stroke-width="0.35" opacity="0.9"/>
<circle cx="139.5" cy="116.6" r="1.7" fill="rgb(153,153,153)" stroke="#3a3a3a" stroke-width="0.35" opacity="0.9"/>
<circle cx="133.8" cy="119.6" r="1.0" fill="rgb(153,153,153)" stroke="#3a3a3a" stroke-width="0.35" opacity="0.9"/>
<circle cx="133.4" cy="119.6" r="1.0" fill="rgb(155,155,155)" stroke="#3a3a3a" stroke-width="0.35" opacity="0.9"/>
<circle cx="134.8" cy="113.2" r="1.2" fill="rgb(169,169,169)" stroke="#3a3a3a" stroke-width="0.35" opacity="0.9"/>
<circle cx="133.6" cy="112.0" r="1.2" fill="rgb(116,116,116)" stroke="#3a3a3a" stroke-width="0.35" opacity="0.9"/>
<circle cx="139.4" cy="114.7" r="1.3" fill="rgb(197,197,197)" stroke="#3a3a3a" stroke-width="0.35" opacity="0.9"/>
<circle cx="133.2" cy="118.7" r="1.8" fill="rgb(164,164,164)" stroke="#3a3a3a" stroke-width="0.35" opacity="0.9"/>
<circle cx="137.0" cy="114.4" r="0.9" fill="rgb(156,156,156)" stroke="#3a3a3a" stroke-width="0.35" opacity="0.9"/>
<circle cx="131.4" cy="112.5" r="1.0" fill="rgb(181,181,181)" stroke="#3a3a3a" stroke-width="0.35" opacity="0.9"/>
<circle cx="136.7" cy="120.4" r="1.5" fill="rgb(119,119,119)" stroke="#3a3a3a" stroke-width="0.35" opacity="0.9"/>
<circle cx="136.2" cy="120.0" r="1.0" fill="rgb(111,111,111)" stroke="#3a3a3a" stroke-width="0.35" opacity="0.9"/>
<circle cx="130.2" cy="115.7" r="1.0" fill="rgb(181,181,181)" stroke="#3a3a3a" stroke-width="0.35" opacity="0.9"/>
<circle cx="137.4" cy="111.3" r="1.9" fill="rgb(157,157,157)" stroke="#3a3a3a" stroke-width="0.35" opacity="0.9"/>
<circle cx="128.1" cy="114.4" r="1.8" fill="rgb(134,134,134)" stroke="#3a3a3a" stroke-width="0.35" opacity="0.9"/>
<ellipse cx="150.5" cy="125.0" rx="8.4" ry="7.2" fill="#5a5a5a" opacity="0.7"/>
<circle cx="151.8" cy="120.5" r="1.9" fill="rgb(190,190,190)" stroke="#3a3a3a" stroke-width="0.35" opacity="0.9"/>
<circle cx="146.7" cy="131.3" r="1.8" fill="rgb(118,118,118)" stroke="#3a3a3a" stroke-width="0.35" opacity="0.9"/>
<circle cx="145.3" cy="125.5" r="1.0" fill="rgb(147,147,147)" stroke="#3a3a3a" stroke-width="0.35" opacity="0.9"/>
<circle cx="149.7" cy="126.3" r="1.9" fill="rgb(169,169,169)" stroke="#3a3a3a" stroke-width="0.35" opacity="0.9"/>
<circle cx="154.5" cy="124.8" r="1.0" fill="rgb(155,155,155)" stroke="#3a3a3a" stroke-width="0.35" opacity="0.9"/>
<circle cx="147.4" cy="122.2" r="1.4" fill="rgb(136,136,136)" stroke="#3a3a3a" stroke-width="0.35" opacity="0.9"/>
<circle cx="149.6" cy="129.3" r="1.4" fill="rgb(180,180,180)" stroke="#3a3a3a" stroke-width="0.35" opacity="0.9"/>
<circle cx="151.9" cy="129.3" r="1.0" fill="rgb(128,128,128)" stroke="#3a3a3a" stroke-width="0.35" opacity="0.9"/>
<circle cx="149.2" cy="125.5" r="1.9" fill="rgb(161,161,161)" stroke="#3a3a3a" stroke-width="0.35" opacity="0.9"/>
<circle cx="154.6" cy="120.6" r="2.0" fill="rgb(127,127,127)" stroke="#3a3a3a" stroke-width="0.35" opacity="0.9"/>
<circle cx="152.5" cy="127.2" r="1.4" fill="rgb(180,180,180)" stroke="#3a3a3a" stroke-width="0.35" opacity="0.9"/>
<circle cx="146.5" cy="126.5" r="1.3" fill="rgb(169,169,169)" stroke="#3a3a3a" stroke-width="0.35" opacity="0.9"/>
<circle cx="151.4" cy="124.0" r="1.5" fill="rgb(176,176,176)" stroke="#3a3a3a" stroke-width="0.35" opacity="0.9"/>
<circle cx="154.1" cy="128.4" r="1.3" fill="rgb(200,200,200)" stroke="#3a3a3a" stroke-width="0.35" opacity="0.9"/>
<circle cx="156.6" cy="126.3" r="1.3" fill="rgb(154,154,154)" stroke="#3a3a3a" stroke-width="0.35" opacity="0.9"/>
<circle cx="153.0" cy="123.8" r="1.5" fill="rgb(148,148,148)" stroke="#3a3a3a" stroke-width="0.35" opacity="0.9"/>
<circle cx="149.3" cy="130.3" r="1.4" fill="rgb(125,125,125)" stroke="#3a3a3a" stroke-width="0.35" opacity="0.9"/>
<circle cx="149.1" cy="127.2" r="1.5" fill="rgb(200,200,200)" stroke="#3a3a3a" stroke-width="0.35" opacity="0.9"/>
<circle cx="149.3" cy="119.9" r="1.4" fill="rgb(155,155,155)" stroke="#3a3a3a" stroke-width="0.35" opacity="0.9"/>
<circle cx="149.1" cy="129.0" r="1.3" fill="rgb(120,120,120)" stroke="#3a3a3a" stroke-width="0.35" opacity="0.9"/>
<circle cx="153.0" cy="129.8" r="1.3" fill="rgb(188,188,188)" stroke="#3a3a3a" stroke-width="0.35" opacity="0.9"/>
<circle cx="152.9" cy="118.5" r="1.4" fill="rgb(139,139,139)" stroke="#3a3a3a" stroke-width="0.35" opacity="0.9"/>
<circle cx="148.2" cy="120.7" r="1.2" fill="rgb(199,199,199)" stroke="#3a3a3a" stroke-width="0.35" opacity="0.9"/>
<circle cx="148.5" cy="121.6" r="1.6" fill="rgb(119,119,119)" stroke="#3a3a3a" stroke-width="0.35" opacity="0.9"/>
<circle cx="143.9" cy="123.4" r="1.8" fill="rgb(194,194,194)" stroke="#3a3a3a" stroke-width="0.35" opacity="0.9"/>
<circle cx="154.3" cy="123.8" r="1.6" fill="rgb(170,170,170)" stroke="#3a3a3a" stroke-width="0.35" opacity="0.9"/>
<circle cx="149.3" cy="125.8" r="1.9" fill="rgb(121,121,121)" stroke="#3a3a3a" stroke-width="0.35" opacity="0.9"/>
<circle cx="147.0" cy="128.1" r="1.2" fill="rgb(149,149,149)" stroke="#3a3a3a" stroke-width="0.35" opacity="0.9"/>
<circle cx="151.5" cy="124.0" r="1.9" fill="rgb(136,136,136)" stroke="#3a3a3a" stroke-width="0.35" opacity="0.9"/>
<circle cx="160.9" cy="122.5" r="1.9" fill="rgb(140,140,140)" stroke="#3a3a3a" stroke-width="0.35" opacity="0.9"/>
<circle cx="151.0" cy="124.3" r="1.0" fill="rgb(131,131,131)" stroke="#3a3a3a" stroke-width="0.35" opacity="0.9"/>
<circle cx="154.6" cy="121.5" r="1.6" fill="rgb(157,157,157)" stroke="#3a3a3a" stroke-width="0.35" opacity="0.9"/>
<circle cx="154.1" cy="128.6" r="1.6" fill="rgb(165,165,165)" stroke="#3a3a3a" stroke-width="0.35" opacity="0.9"/>
<circle cx="150.2" cy="126.8" r="1.9" fill="rgb(173,173,173)" stroke="#3a3a3a" stroke-width="0.35" opacity="0.9"/>
<circle cx="144.3" cy="122.0" r="1.8" fill="rgb(183,183,183)" stroke="#3a3a3a" stroke-width="0.35" opacity="0.9"/>
<circle cx="149.2" cy="131.7" r="1.1" fill="rgb(193,193,193)" stroke="#3a3a3a" stroke-width="0.35" opacity="0.9"/>
<circle cx="154.5" cy="130.1" r="1.0" fill="rgb(192,192,192)" stroke="#3a3a3a" stroke-width="0.35" opacity="0.9"/>
<circle cx="145.4" cy="125.4" r="1.8" fill="rgb(129,129,129)" stroke="#3a3a3a" stroke-width="0.35" opacity="0.9"/>
<circle cx="146.9" cy="128.0" r="1.1" fill="rgb(136,136,136)" stroke="#3a3a3a" stroke-width="0.35" opacity="0.9"/>
<circle cx="151.2" cy="130.1" r="0.9" fill="rgb(116,116,116)" stroke="#3a3a3a" stroke-width="0.35" opacity="0.9"/>
<circle cx="155.7" cy="124.5" r="1.3" fill="rgb(120,120,120)" stroke="#3a3a3a" stroke-width="0.35" opacity="0.9"/>
<circle cx="140.7" cy="126.4" r="1.3" fill="rgb(175,175,175)" stroke="#3a3a3a" stroke-width="0.35" opacity="0.9"/>
<circle cx="156.8" cy="126.3" r="1.5" fill="rgb(181,181,181)" stroke="#3a3a3a" stroke-width="0.35" opacity="0.9"/>
<circle cx="154.6" cy="121.8" r="1.3" fill="rgb(159,159,159)" stroke="#3a3a3a" stroke-width="0.35" opacity="0.9"/>
<circle cx="157.2" cy="122.7" r="1.6" fill="rgb(146,146,146)" stroke="#3a3a3a" stroke-width="0.35" opacity="0.9"/>
<circle cx="151.8" cy="124.5" r="1.6" fill="rgb(158,158,158)" stroke="#3a3a3a" stroke-width="0.35" opacity="0.9"/>
<circle cx="157.2" cy="126.2" r="1.1" fill="rgb(179,179,179)" stroke="#3a3a3a" stroke-width="0.35" opacity="0.9"/>
<circle cx="146.3" cy="124.9" r="1.8" fill="rgb(182,182,182)" stroke="#3a3a3a" stroke-width="0.35" opacity="0.9"/>
<circle cx="147.2" cy="120.9" r="2.0" fill="rgb(138,138,138)" stroke="#3a3a3a" stroke-width="0.35" opacity="0.9"/>
<circle cx="148.1" cy="125.9" r="1.4" fill="rgb(194,194,194)" stroke="#3a3a3a" stroke-width="0.35" opacity="0.9"/>
<circle cx="158.6" cy="117.5" r="1.1" fill="rgb(172,172,172)" stroke="#3a3a3a" stroke-width="0.35" opacity="0.9"/>
<circle cx="152.4" cy="125.9" r="1.8" fill="rgb(170,170,170)" stroke="#3a3a3a" stroke-width="0.35" opacity="0.9"/>
<circle cx="147.9" cy="123.8" r="1.7" fill="rgb(185,185,185)" stroke="#3a3a3a" stroke-width="0.35" opacity="0.9"/>
<circle cx="146.8" cy="127.6" r="1.0" fill="rgb(132,132,132)" stroke="#3a3a3a" stroke-width="0.35" opacity="0.9"/>
<ellipse cx="132.5" cy="139.0" rx="9.6" ry="9.6" fill="#5a5a5a" opacity="0.7"/>
<circle cx="136.3" cy="137.8" r="1.7" fill="rgb(164,164,164)" stroke="#3a3a3a" stroke-width="0.35" opacity="0.9"/>
<circle cx="128.7" cy="143.1" r="1.5" fill="rgb(160,160,160)" stroke="#3a3a3a" stroke-width="0.35" opacity="0.9"/>
<circle cx="129.5" cy="136.8" r="1.9" fill="rgb(181,181,181)" stroke="#3a3a3a" stroke-width="0.35" opacity="0.9"/>
<circle cx="136.6" cy="137.7" r="1.8" fill="rgb(125,125,125)" stroke="#3a3a3a" stroke-width="0.35" opacity="0.9"/>
<circle cx="125.8" cy="139.6" r="1.5" fill="rgb(196,196,196)" stroke="#3a3a3a" stroke-width="0.35" opacity="0.9"/>
<circle cx="131.2" cy="143.9" r="1.8" fill="rgb(160,160,160)" stroke="#3a3a3a" stroke-width="0.35" opacity="0.9"/>
<circle cx="133.4" cy="138.1" r="0.9" fill="rgb(189,189,189)" stroke="#3a3a3a" stroke-width="0.35" opacity="0.9"/>
<circle cx="127.8" cy="135.4" r="1.0" fill="rgb(169,169,169)" stroke="#3a3a3a" stroke-width="0.35" opacity="0.9"/>
<circle cx="135.0" cy="136.7" r="1.0" fill="rgb(114,114,114)" stroke="#3a3a3a" stroke-width="0.35" opacity="0.9"/>
<circle cx="140.1" cy="135.2" r="0.9" fill="rgb(196,196,196)" stroke="#3a3a3a" stroke-width="0.35" opacity="0.9"/>
<circle cx="137.9" cy="137.2" r="1.5" fill="rgb(156,156,156)" stroke="#3a3a3a" stroke-width="0.35" opacity="0.9"/>
<circle cx="133.7" cy="141.8" r="1.7" fill="rgb(169,169,169)" stroke="#3a3a3a" stroke-width="0.35" opacity="0.9"/>
<circle cx="126.2" cy="141.4" r="1.0" fill="rgb(198,198,198)" stroke="#3a3a3a" stroke-width="0.35" opacity="0.9"/>
<circle cx="131.2" cy="140.7" r="1.0" fill="rgb(171,171,171)" stroke="#3a3a3a" stroke-width="0.35" opacity="0.9"/>
<circle cx="132.7" cy="131.6" r="1.6" fill="rgb(179,179,179)" stroke="#3a3a3a" stroke-width="0.35" opacity="0.9"/>
<circle cx="132.5" cy="130.3" r="1.4" fill="rgb(156,156,156)" stroke="#3a3a3a" stroke-width="0.35" opacity="0.9"/>
<circle cx="134.2" cy="143.0" r="1.5" fill="rgb(170,170,170)" stroke="#3a3a3a" stroke-width="0.35" opacity="0.9"/>
<circle cx="128.6" cy="140.3" r="1.9" fill="rgb(140,140,140)" stroke="#3a3a3a" stroke-width="0.35" opacity="0.9"/>
<circle cx="137.3" cy="139.4" r="1.9" fill="rgb(160,160,160)" stroke="#3a3a3a" stroke-width="0.35" opacity="0.9"/>
<circle cx="131.3" cy="134.6" r="1.6" fill="rgb(165,165,165)" stroke="#3a3a3a" stroke-width="0.35" opacity="0.9"/>
<circle cx="132.9" cy="135.7" r="1.3" fill="rgb(173,173,173)" stroke="#3a3a3a" stroke-width="0.35" opacity="0.9"/>
<circle cx="131.8" cy="141.8" r="1.9" fill="rgb(179,179,179)" stroke="#3a3a3a" stroke-width="0.35" opacity="0.9"/>
<circle cx="133.3" cy="141.7" r="1.8" fill="rgb(121,121,121)" stroke="#3a3a3a" stroke-width="0.35" opacity="0.9"/>
<circle cx="136.9" cy="144.6" r="1.9" fill="rgb(176,176,176)" stroke="#3a3a3a" stroke-width="0.35" opacity="0.9"/>
<circle cx="134.4" cy="142.7" r="1.9" fill="rgb(151,151,151)" stroke="#3a3a3a" stroke-width="0.35" opacity="0.9"/>
<circle cx="124.0" cy="135.7" r="1.0" fill="rgb(166,166,166)" stroke="#3a3a3a" stroke-width="0.35" opacity="0.9"/>
<circle cx="125.6" cy="138.1" r="1.0" fill="rgb(194,194,194)" stroke="#3a3a3a" stroke-width="0.35" opacity="0.9"/>
<circle cx="126.8" cy="141.0" r="1.9" fill="rgb(180,180,180)" stroke="#3a3a3a" stroke-width="0.35" opacity="0.9"/>
<circle cx="138.0" cy="135.5" r="1.1" fill="rgb(133,133,133)" stroke="#3a3a3a" stroke-width="0.35" opacity="0.9"/>
<circle cx="139.3" cy="143.0" r="1.1" fill="rgb(133,133,133)" stroke="#3a3a3a" stroke-width="0.35" opacity="0.9"/>
<circle cx="129.1" cy="141.0" r="1.4" fill="rgb(177,177,177)" stroke="#3a3a3a" stroke-width="0.35" opacity="0.9"/>
<circle cx="125.1" cy="136.1" r="1.7" fill="rgb(175,175,175)" stroke="#3a3a3a" stroke-width="0.35" opacity="0.9"/>
<circle cx="140.4" cy="142.6" r="1.2" fill="rgb(145,145,145)" stroke="#3a3a3a" stroke-width="0.35" opacity="0.9"/>
<circle cx="125.5" cy="137.6" r="1.1" fill="rgb(119,119,119)" stroke="#3a3a3a" stroke-width="0.35" opacity="0.9"/>
<circle cx="140.2" cy="139.5" r="1.7" fill="rgb(130,130,130)" stroke="#3a3a3a" stroke-width="0.35" opacity="0.9"/>
<circle cx="124.6" cy="147.8" r="0.9" fill="rgb(191,191,191)" stroke="#3a3a3a" stroke-width="0.35" opacity="0.9"/>
<circle cx="132.9" cy="140.2" r="1.7" fill="rgb(126,126,126)" stroke="#3a3a3a" stroke-width="0.35" opacity="0.9"/>
<circle cx="133.8" cy="142.5" r="1.7" fill="rgb(130,130,130)" stroke="#3a3a3a" stroke-width="0.35" opacity="0.9"/>
<circle cx="131.2" cy="140.6" r="1.4" fill="rgb(137,137,137)" stroke="#3a3a3a" stroke-width="0.35" opacity="0.9"/>
<circle cx="130.3" cy="139.8" r="1.8" fill="rgb(154,154,154)" stroke="#3a3a3a" stroke-width="0.35" opacity="0.9"/>
<circle cx="134.1" cy="136.6" r="1.9" fill="rgb(175,175,175)" stroke="#3a3a3a" stroke-width="0.35" opacity="0.9"/>
<circle cx="127.1" cy="136.7" r="1.1" fill="rgb(140,140,140)" stroke="#3a3a3a" stroke-width="0.35" opacity="0.9"/>
<circle cx="138.0" cy="144.4" r="1.3" fill="rgb(151,151,151)" stroke="#3a3a3a" stroke-width="0.35" opacity="0.9"/>
<circle cx="128.8" cy="146.3" r="1.5" fill="rgb(113,113,113)" stroke="#3a3a3a" stroke-width="0.35" opacity="0.9"/>
<circle cx="140.4" cy="143.9" r="1.5" fill="rgb(156,156,156)" stroke="#3a3a3a" stroke-width="0.35" opacity="0.9"/>
<circle cx="143.3" cy="138.0" r="1.9" fill="rgb(190,190,190)" stroke="#3a3a3a" stroke-width="0.35" opacity="0.9"/>
<circle cx="131.4" cy="132.7" r="1.1" fill="rgb(185,185,185)" stroke="#3a3a3a" stroke-width="0.35" opacity="0.9"/>
<circle cx="136.1" cy="130.7" r="1.1" fill="rgb(148,148,148)" stroke="#3a3a3a" stroke-width="0.35" opacity="0.9"/>
<circle cx="132.3" cy="141.0" r="0.9" fill="rgb(179,179,179)" stroke="#3a3a3a" stroke-width="0.35" opacity="0.9"/>
<circle cx="124.6" cy="140.2" r="1.0" fill="rgb(175,175,175)" stroke="#3a3a3a" stroke-width="0.35" opacity="0.9"/>
<circle cx="138.4" cy="147.7" r="1.7" fill="rgb(175,175,175)" stroke="#3a3a3a" stroke-width="0.35" opacity="0.9"/>
<circle cx="133.4" cy="142.4" r="1.9" fill="rgb(172,172,172)" stroke="#3a3a3a" stroke-width="0.35" opacity="0.9"/>
<circle cx="132.5" cy="138.6" r="2.0" fill="rgb(156,156,156)" stroke="#3a3a3a" stroke-width="0.35" opacity="0.9"/>
<circle cx="131.9" cy="138.8" r="1.9" fill="rgb(144,144,144)" stroke="#3a3a3a" stroke-width="0.35" opacity="0.9"/>
<circle cx="136.4" cy="132.6" r="2.0" fill="rgb(190,190,190)" stroke="#3a3a3a" stroke-width="0.35" opacity="0.9"/>
<circle cx="130.6" cy="135.5" r="1.9" fill="rgb(170,170,170)" stroke="#3a3a3a" stroke-width="0.35" opacity="0.9"/>
<circle cx="129.7" cy="140.0" r="1.4" fill="rgb(189,189,189)" stroke="#3a3a3a" stroke-width="0.35" opacity="0.9"/>
<circle cx="130.0" cy="146.1" r="1.8" fill="rgb(126,126,126)" stroke="#3a3a3a" stroke-width="0.35" opacity="0.9"/>
<circle cx="140.8" cy="142.9" r="1.2" fill="rgb(112,112,112)" stroke="#3a3a3a" stroke-width="0.35" opacity="0.9"/>
<circle cx="130.4" cy="134.0" r="1.9" fill="rgb(179,179,179)" stroke="#3a3a3a" stroke-width="0.35" opacity="0.9"/>
<circle cx="125.5" cy="135.5" r="1.6" fill="rgb(151,151,151)" stroke="#3a3a3a" stroke-width="0.35" opacity="0.9"/>
<circle cx="128.2" cy="135.1" r="1.5" fill="rgb(161,161,161)" stroke="#3a3a3a" stroke-width="0.35" opacity="0.9"/>
<circle cx="129.7" cy="139.1" r="1.3" fill="rgb(143,143,143)" stroke="#3a3a3a" stroke-width="0.35" opacity="0.9"/>
<circle cx="130.3" cy="133.7" r="1.5" fill="rgb(145,145,145)" stroke="#3a3a3a" stroke-width="0.35" opacity="0.9"/>
<circle cx="121.9" cy="137.8" r="1.2" fill="rgb(195,195,195)" stroke="#3a3a3a" stroke-width="0.35" opacity="0.9"/>
<circle cx="134.0" cy="144.2" r="1.0" fill="rgb(165,165,165)" stroke="#3a3a3a" stroke-width="0.35" opacity="0.9"/>
<circle cx="129.9" cy="139.8" r="1.2" fill="rgb(142,142,142)" stroke="#3a3a3a" stroke-width="0.35" opacity="0.9"/>
<circle cx="135.4" cy="129.8" r="1.2" fill="rgb(186,186,186)" stroke="#3a3a3a" stroke-width="0.35" opacity="0.9"/>
<circle cx="128.9" cy="142.8" r="1.9" fill="rgb(165,165,165)" stroke="#3a3a3a" stroke-width="0.35" opacity="0.9"/>
<circle cx="132.1" cy="139.6" r="1.0" fill="rgb(179,179,179)" stroke="#3a3a3a" stroke-width="0.35" opacity="0.9"/>
<circle cx="130.8" cy="140.0" r="1.8" fill="rgb(143,143,143)" stroke="#3a3a3a" stroke-width="0.35" opacity="0.9"/>
<circle cx="139.5" cy="137.1" r="1.1" fill="rgb(181,181,181)" stroke="#3a3a3a" stroke-width="0.35" opacity="0.9"/>
<circle cx="130.3" cy="130.2" r="1.9" fill="rgb(200,200,200)" stroke="#3a3a3a" stroke-width="0.35" opacity="0.9"/>
<circle cx="134.0" cy="132.8" r="1.7" fill="rgb(115,115,115)" stroke="#3a3a3a" stroke-width="0.35" opacity="0.9"/>
<circle cx="133.8" cy="148.5" r="1.8" fill="rgb(153,153,153)" stroke="#3a3a3a" stroke-width="0.35" opacity="0.9"/>
<circle cx="130.1" cy="138.0" r="1.2" fill="rgb(166,166,166)" stroke="#3a3a3a" stroke-width="0.35" opacity="0.9"/>
<circle cx="137.9" cy="142.0" r="1.0" fill="rgb(170,170,170)" stroke="#3a3a3a" stroke-width="0.35" opacity="0.9"/>
<circle cx="139.2" cy="146.5" r="1.0" fill="rgb(195,195,195)" stroke="#3a3a3a" stroke-width="0.35" opacity="0.9"/>
<circle cx="132.6" cy="132.7" r="1.0" fill="rgb(150,150,150)" stroke="#3a3a3a" stroke-width="0.35" opacity="0.9"/>
<circle cx="122.6" cy="147.5" r="1.2" fill="rgb(178,178,178)" stroke="#3a3a3a" stroke-width="0.35" opacity="0.9"/>
<circle cx="127.3" cy="131.2" r="2.0" fill="rgb(149,149,149)" stroke="#3a3a3a" stroke-width="0.35" opacity="0.9"/>
<circle cx="137.8" cy="144.0" r="1.9" fill="rgb(198,198,198)" stroke="#3a3a3a" stroke-width="0.35" opacity="0.9"/>
<circle cx="123.2" cy="138.6" r="1.0" fill="rgb(185,185,185)" stroke="#3a3a3a" stroke-width="0.35" opacity="0.9"/>
<ellipse cx="119.5" cy="154.0" rx="8.4" ry="7.2" fill="#5a5a5a" opacity="0.7"/>
<circle cx="114.9" cy="158.2" r="1.3" fill="rgb(186,186,186)" stroke="#3a3a3a" stroke-width="0.35" opacity="0.9"/>
<circle cx="126.3" cy="158.6" r="1.5" fill="rgb(118,118,118)" stroke="#3a3a3a" stroke-width="0.35" opacity="0.9"/>
<circle cx="118.5" cy="155.7" r="1.8" fill="rgb(160,160,160)" stroke="#3a3a3a" stroke-width="0.35" opacity="0.9"/>
<circle cx="122.1" cy="152.1" r="1.2" fill="rgb(197,197,197)" stroke="#3a3a3a" stroke-width="0.35" opacity="0.9"/>
<circle cx="116.1" cy="150.6" r="0.9" fill="rgb(133,133,133)" stroke="#3a3a3a" stroke-width="0.35" opacity="0.9"/>
<circle cx="122.3" cy="156.4" r="1.9" fill="rgb(140,140,140)" stroke="#3a3a3a" stroke-width="0.35" opacity="0.9"/>
<circle cx="132.5" cy="152.5" r="1.2" fill="rgb(178,178,178)" stroke="#3a3a3a" stroke-width="0.35" opacity="0.9"/>
<circle cx="121.1" cy="151.9" r="2.0" fill="rgb(118,118,118)" stroke="#3a3a3a" stroke-width="0.35" opacity="0.9"/>
<circle cx="119.4" cy="158.1" r="1.6" fill="rgb(186,186,186)" stroke="#3a3a3a" stroke-width="0.35" opacity="0.9"/>
<circle cx="121.7" cy="150.2" r="1.9" fill="rgb(129,129,129)" stroke="#3a3a3a" stroke-width="0.35" opacity="0.9"/>
<circle cx="120.9" cy="155.2" r="1.8" fill="rgb(127,127,127)" stroke="#3a3a3a" stroke-width="0.35" opacity="0.9"/>
<circle cx="126.8" cy="155.7" r="1.8" fill="rgb(186,186,186)" stroke="#3a3a3a" stroke-width="0.35" opacity="0.9"/>
<circle cx="117.9" cy="152.9" r="1.3" fill="rgb(193,193,193)" stroke="#3a3a3a" stroke-width="0.35" opacity="0.9"/>
<circle cx="129.5" cy="156.6" r="1.1" fill="rgb(170,170,170)" stroke="#3a3a3a" stroke-width="0.35" opacity="0.9"/>
<circle cx="121.3" cy="154.5" r="1.6" fill="rgb(199,199,199)" stroke="#3a3a3a" stroke-width="0.35" opacity="0.9"/>
<circle cx="119.5" cy="151.0" r="1.4" fill="rgb(128,128,128)" stroke="#3a3a3a" stroke-width="0.35" opacity="0.9"/>
<circle cx="116.6" cy="154.4" r="1.9" fill="rgb(161,161,161)" stroke="#3a3a3a" stroke-width="0.35" opacity="0.9"/>
<circle cx="115.0" cy="148.6" r="1.1" fill="rgb(190,190,190)" stroke="#3a3a3a" stroke-width="0.35" opacity="0.9"/>
<circle cx="125.0" cy="149.9" r="1.5" fill="rgb(153,153,153)" stroke="#3a3a3a" stroke-width="0.35" opacity="0.9"/>
<circle cx="113.8" cy="150.6" r="1.5" fill="rgb(185,185,185)" stroke="#3a3a3a" stroke-width="0.35" opacity="0.9"/>
<circle cx="118.6" cy="158.3" r="1.1" fill="rgb(143,143,143)" stroke="#3a3a3a" stroke-width="0.35" opacity="0.9"/>
<circle cx="114.7" cy="157.4" r="1.8" fill="rgb(110,110,110)" stroke="#3a3a3a" stroke-width="0.35" opacity="0.9"/>
<circle cx="120.8" cy="158.1" r="1.5" fill="rgb(129,129,129)" stroke="#3a3a3a" stroke-width="0.35" opacity="0.9"/>
<circle cx="127.9" cy="156.9" r="2.0" fill="rgb(184,184,184)" stroke="#3a3a3a" stroke-width="0.35" opacity="0.9"/>
<circle cx="123.2" cy="151.1" r="1.8" fill="rgb(168,168,168)" stroke="#3a3a3a" stroke-width="0.35" opacity="0.9"/>
<circle cx="113.2" cy="156.6" r="1.4" fill="rgb(197,197,197)" stroke="#3a3a3a" stroke-width="0.35" opacity="0.9"/>
<circle cx="116.5" cy="157.3" r="1.2" fill="rgb(146,146,146)" stroke="#3a3a3a" stroke-width="0.35" opacity="0.9"/>
<circle cx="119.1" cy="150.5" r="1.7" fill="rgb(141,141,141)" stroke="#3a3a3a" stroke-width="0.35" opacity="0.9"/>
<circle cx="122.7" cy="158.3" r="2.0" fill="rgb(150,150,150)" stroke="#3a3a3a" stroke-width="0.35" opacity="0.9"/>
<circle cx="117.5" cy="153.8" r="1.8" fill="rgb(158,158,158)" stroke="#3a3a3a" stroke-width="0.35" opacity="0.9"/>
<circle cx="124.2" cy="159.1" r="1.4" fill="rgb(198,198,198)" stroke="#3a3a3a" stroke-width="0.35" opacity="0.9"/>
<circle cx="114.9" cy="158.6" r="1.4" fill="rgb(154,154,154)" stroke="#3a3a3a" stroke-width="0.35" opacity="0.9"/>
<circle cx="125.7" cy="150.9" r="1.1" fill="rgb(160,160,160)" stroke="#3a3a3a" stroke-width="0.35" opacity="0.9"/>
<circle cx="120.4" cy="154.9" r="1.2" fill="rgb(157,157,157)" stroke="#3a3a3a" stroke-width="0.35" opacity="0.9"/>
<circle cx="117.0" cy="150.4" r="1.7" fill="rgb(132,132,132)" stroke="#3a3a3a" stroke-width="0.35" opacity="0.9"/>
<circle cx="116.8" cy="155.4" r="1.7" fill="rgb(194,194,194)" stroke="#3a3a3a" stroke-width="0.35" opacity="0.9"/>
<circle cx="118.2" cy="160.7" r="1.1" fill="rgb(151,151,151)" stroke="#3a3a3a" stroke-width="0.35" opacity="0.9"/>
<circle cx="122.1" cy="152.4" r="1.3" fill="rgb(147,147,147)" stroke="#3a3a3a" stroke-width="0.35" opacity="0.9"/>
<circle cx="125.5" cy="152.9" r="1.5" fill="rgb(110,110,110)" stroke="#3a3a3a" stroke-width="0.35" opacity="0.9"/>
<circle cx="126.8" cy="157.5" r="1.6" fill="rgb(116,116,116)" stroke="#3a3a3a" stroke-width="0.35" opacity="0.9"/>
<circle cx="115.1" cy="150.5" r="1.7" fill="rgb(128,128,128)" stroke="#3a3a3a" stroke-width="0.35" opacity="0.9"/>
<circle cx="119.4" cy="147.4" r="1.7" fill="rgb(139,139,139)" stroke="#3a3a3a" stroke-width="0.35" opacity="0.9"/>
<circle cx="119.5" cy="155.4" r="1.8" fill="rgb(133,133,133)" stroke="#3a3a3a" stroke-width="0.35" opacity="0.9"/>
<circle cx="121.4" cy="160.8" r="0.9" fill="rgb(120,120,120)" stroke="#3a3a3a" stroke-width="0.35" opacity="0.9"/>
<circle cx="117.0" cy="163.3" r="1.1" fill="rgb(121,121,121)" stroke="#3a3a3a" stroke-width="0.35" opacity="0.9"/>
<circle cx="124.5" cy="156.6" r="1.2" fill="rgb(127,127,127)" stroke="#3a3a3a" stroke-width="0.35" opacity="0.9"/>
<circle cx="112.3" cy="152.2" r="1.3" fill="rgb(110,110,110)" stroke="#3a3a3a" stroke-width="0.35" opacity="0.9"/>
<circle cx="124.7" cy="155.1" r="1.0" fill="rgb(115,115,115)" stroke="#3a3a3a" stroke-width="0.35" opacity="0.9"/>
<circle cx="114.9" cy="157.8" r="1.8" fill="rgb(135,135,135)" stroke="#3a3a3a" stroke-width="0.35" opacity="0.9"/>
<circle cx="118.8" cy="152.0" r="1.7" fill="rgb(199,199,199)" stroke="#3a3a3a" stroke-width="0.35" opacity="0.9"/>
<circle cx="113.8" cy="150.8" r="1.1" fill="rgb(114,114,114)" stroke="#3a3a3a" stroke-width="0.35" opacity="0.9"/>
<circle cx="118.3" cy="148.6" r="1.1" fill="rgb(178,178,178)" stroke="#3a3a3a" stroke-width="0.35" opacity="0.9"/>
<circle cx="115.6" cy="154.5" r="1.4" fill="rgb(115,115,115)" stroke="#3a3a3a" stroke-width="0.35" opacity="0.9"/>
<circle cx="124.2" cy="147.5" r="1.3" fill="rgb(130,130,130)" stroke="#3a3a3a" stroke-width="0.35" opacity="0.9"/>
<ellipse cx="207.5" cy="93.0" rx="10.8" ry="7.2" fill="#5a5a5a" opacity="0.7"/>
<circle cx="211.4" cy="95.7" r="2.0" fill="rgb(176,176,176)" stroke="#3a3a3a" stroke-width="0.35" opacity="0.9"/>
<circle cx="191.2" cy="96.0" r="2.0" fill="rgb(176,176,176)" stroke="#3a3a3a" stroke-width="0.35" opacity="0.9"/>
<circle cx="202.2" cy="91.9" r="1.3" fill="rgb(134,134,134)" stroke="#3a3a3a" stroke-width="0.35" opacity="0.9"/>
<circle cx="218.0" cy="94.3" r="1.8" fill="rgb(160,160,160)" stroke="#3a3a3a" stroke-width="0.35" opacity="0.9"/>
<circle cx="212.0" cy="90.4" r="1.8" fill="rgb(137,137,137)" stroke="#3a3a3a" stroke-width="0.35" opacity="0.9"/>
<circle cx="210.7" cy="94.3" r="1.0" fill="rgb(126,126,126)" stroke="#3a3a3a" stroke-width="0.35" opacity="0.9"/>
<circle cx="196.0" cy="95.4" r="1.7" fill="rgb(159,159,159)" stroke="#3a3a3a" stroke-width="0.35" opacity="0.9"/>
<circle cx="204.7" cy="90.3" r="1.0" fill="rgb(173,173,173)" stroke="#3a3a3a" stroke-width="0.35" opacity="0.9"/>
<circle cx="211.8" cy="99.4" r="1.2" fill="rgb(183,183,183)" stroke="#3a3a3a" stroke-width="0.35" opacity="0.9"/>
<circle cx="207.7" cy="88.3" r="1.7" fill="rgb(128,128,128)" stroke="#3a3a3a" stroke-width="0.35" opacity="0.9"/>
<circle cx="208.6" cy="91.1" r="1.5" fill="rgb(127,127,127)" stroke="#3a3a3a" stroke-width="0.35" opacity="0.9"/>
<circle cx="208.4" cy="94.5" r="1.7" fill="rgb(126,126,126)" stroke="#3a3a3a" stroke-width="0.35" opacity="0.9"/>
<circle cx="197.3" cy="88.1" r="2.0" fill="rgb(195,195,195)" stroke="#3a3a3a" stroke-width="0.35" opacity="0.9"/>
<circle cx="200.0" cy="86.9" r="1.0" fill="rgb(148,148,148)" stroke="#3a3a3a" stroke-width="0.35" opacity="0.9"/>
<circle cx="215.0" cy="93.4" r="1.5" fill="rgb(117,117,117)" stroke="#3a3a3a" stroke-width="0.35" opacity="0.9"/>
<circle cx="205.8" cy="98.7" r="1.0" fill="rgb(119,119,119)" stroke="#3a3a3a" stroke-width="0.35" opacity="0.9"/>
<circle cx="213.3" cy="90.1" r="1.9" fill="rgb(119,119,119)" stroke="#3a3a3a" stroke-width="0.35" opacity="0.9"/>
<circle cx="217.5" cy="87.7" r="1.3" fill="rgb(191,191,191)" stroke="#3a3a3a" stroke-width="0.35" opacity="0.9"/>
<circle cx="208.6" cy="90.9" r="1.9" fill="rgb(136,136,136)" stroke="#3a3a3a" stroke-width="0.35" opacity="0.9"/>
<circle cx="204.1" cy="84.8" r="1.5" fill="rgb(128,128,128)" stroke="#3a3a3a" stroke-width="0.35" opacity="0.9"/>
<circle cx="200.4" cy="95.3" r="0.9" fill="rgb(158,158,158)" stroke="#3a3a3a" stroke-width="0.35" opacity="0.9"/>
<circle cx="210.0" cy="93.7" r="1.9" fill="rgb(163,163,163)" stroke="#3a3a3a" stroke-width="0.35" opacity="0.9"/>
<circle cx="210.9" cy="95.0" r="1.5" fill="rgb(133,133,133)" stroke="#3a3a3a" stroke-width="0.35" opacity="0.9"/>
<circle cx="207.9" cy="97.4" r="1.1" fill="rgb(177,177,177)" stroke="#3a3a3a" stroke-width="0.35" opacity="0.9"/>
<circle cx="205.5" cy="93.9" r="1.4" fill="rgb(134,134,134)" stroke="#3a3a3a" stroke-width="0.35" opacity="0.9"/>
<circle cx="210.3" cy="86.9" r="1.6" fill="rgb(157,157,157)" stroke="#3a3a3a" stroke-width="0.35" opacity="0.9"/>
<circle cx="213.6" cy="95.1" r="2.0" fill="rgb(120,120,120)" stroke="#3a3a3a" stroke-width="0.35" opacity="0.9"/>
<circle cx="212.6" cy="95.9" r="1.3" fill="rgb(160,160,160)" stroke="#3a3a3a" stroke-width="0.35" opacity="0.9"/>
<circle cx="205.5" cy="88.3" r="1.2" fill="rgb(142,142,142)" stroke="#3a3a3a" stroke-width="0.35" opacity="0.9"/>
<circle cx="205.4" cy="97.3" r="1.0" fill="rgb(165,165,165)" stroke="#3a3a3a" stroke-width="0.35" opacity="0.9"/>
<circle cx="212.3" cy="95.0" r="2.0" fill="rgb(160,160,160)" stroke="#3a3a3a" stroke-width="0.35" opacity="0.9"/>
<circle cx="210.4" cy="88.7" r="1.2" fill="rgb(161,161,161)" stroke="#3a3a3a" stroke-width="0.35" opacity="0.9"/>
<circle cx="207.0" cy="89.5" r="1.7" fill="rgb(160,160,160)" stroke="#3a3a3a" stroke-width="0.35" opacity="0.9"/>
<circle cx="207.7" cy="95.6" r="1.5" fill="rgb(135,135,135)" stroke="#3a3a3a" stroke-width="0.35" opacity="0.9"/>
<circle cx="203.0" cy="100.7" r="1.0" fill="rgb(132,132,132)" stroke="#3a3a3a" stroke-width="0.35" opacity="0.9"/>
<circle cx="211.6" cy="95.0" r="1.9" fill="rgb(121,121,121)" stroke="#3a3a3a" stroke-width="0.35" opacity="0.9"/>
<circle cx="213.0" cy="91.6" r="1.8" fill="rgb(118,118,118)" stroke="#3a3a3a" stroke-width="0.35" opacity="0.9"/>
<circle cx="210.4" cy="97.8" r="1.3" fill="rgb(114,114,114)" stroke="#3a3a3a" stroke-width="0.35" opacity="0.9"/>
<circle cx="208.8" cy="94.2" r="1.5" fill="rgb(150,150,150)" stroke="#3a3a3a" stroke-width="0.35" opacity="0.9"/>
<circle cx="201.9" cy="92.4" r="2.0" fill="rgb(187,187,187)" stroke="#3a3a3a" stroke-width="0.35" opacity="0.9"/>
<circle cx="211.5" cy="92.5" r="1.8" fill="rgb(154,154,154)" stroke="#3a3a3a" stroke-width="0.35" opacity="0.9"/>
<circle cx="218.1" cy="87.9" r="1.9" fill="rgb(196,196,196)" stroke="#3a3a3a" stroke-width="0.35" opacity="0.9"/>
<circle cx="209.0" cy="94.0" r="1.2" fill="rgb(189,189,189)" stroke="#3a3a3a" stroke-width="0.35" opacity="0.9"/>
<circle cx="213.0" cy="91.2" r="1.5" fill="rgb(132,132,132)" stroke="#3a3a3a" stroke-width="0.35" opacity="0.9"/>
<circle cx="196.9" cy="90.0" r="1.9" fill="rgb(171,171,171)" stroke="#3a3a3a" stroke-width="0.35" opacity="0.9"/>
<circle cx="207.0" cy="93.0" r="1.9" fill="rgb(167,167,167)" stroke="#3a3a3a" stroke-width="0.35" opacity="0.9"/>
<circle cx="208.3" cy="92.1" r="1.6" fill="rgb(136,136,136)" stroke="#3a3a3a" stroke-width="0.35" opacity="0.9"/>
<circle cx="206.8" cy="98.9" r="1.1" fill="rgb(153,153,153)" stroke="#3a3a3a" stroke-width="0.35" opacity="0.9"/>
<circle cx="199.0" cy="100.1" r="2.0" fill="rgb(177,177,177)" stroke="#3a3a3a" stroke-width="0.35" opacity="0.9"/>
<circle cx="210.2" cy="90.1" r="1.9" fill="rgb(177,177,177)" stroke="#3a3a3a" stroke-width="0.35" opacity="0.9"/>
<circle cx="202.9" cy="98.2" r="1.4" fill="rgb(172,172,172)" stroke="#3a3a3a" stroke-width="0.35" opacity="0.9"/>
<circle cx="205.2" cy="88.7" r="1.0" fill="rgb(153,153,153)" stroke="#3a3a3a" stroke-width="0.35" opacity="0.9"/>
<circle cx="206.3" cy="91.6" r="1.9" fill="rgb(168,168,168)" stroke="#3a3a3a" stroke-width="0.35" opacity="0.9"/>
<circle cx="205.2" cy="86.1" r="1.3" fill="rgb(158,158,158)" stroke="#3a3a3a" stroke-width="0.35" opacity="0.9"/>
<circle cx="207.2" cy="97.8" r="1.2" fill="rgb(187,187,187)" stroke="#3a3a3a" stroke-width="0.35" opacity="0.9"/>
<circle cx="208.3" cy="92.7" r="1.7" fill="rgb(151,151,151)" stroke="#3a3a3a" stroke-width="0.35" opacity="0.9"/>
<circle cx="214.7" cy="96.7" r="1.3" fill="rgb(184,184,184)" stroke="#3a3a3a" stroke-width="0.35" opacity="0.9"/>
<circle cx="203.6" cy="96.5" r="1.3" fill="rgb(199,199,199)" stroke="#3a3a3a" stroke-width="0.35" opacity="0.9"/>
<circle cx="206.3" cy="90.9" r="1.2" fill="rgb(153,153,153)" stroke="#3a3a3a" stroke-width="0.35" opacity="0.9"/>
<circle cx="201.2" cy="93.2" r="1.8" fill="rgb(151,151,151)" stroke="#3a3a3a" stroke-width="0.35" opacity="0.9"/>
<circle cx="198.8" cy="96.3" r="1.6" fill="rgb(125,125,125)" stroke="#3a3a3a" stroke-width="0.35" opacity="0.9"/>
<circle cx="194.6" cy="95.6" r="1.9" fill="rgb(124,124,124)" stroke="#3a3a3a" stroke-width="0.35" opacity="0.9"/>
<circle cx="205.5" cy="92.5" r="1.7" fill="rgb(161,161,161)" stroke="#3a3a3a" stroke-width="0.35" opacity="0.9"/>
<circle cx="204.3" cy="92.7" r="1.9" fill="rgb(155,155,155)" stroke="#3a3a3a" stroke-width="0.35" opacity="0.9"/>
<circle cx="203.5" cy="94.1" r="1.3" fill="rgb(115,115,115)" stroke="#3a3a3a" stroke-width="0.35" opacity="0.9"/>
<circle cx="210.2" cy="95.2" r="1.8" fill="rgb(132,132,132)" stroke="#3a3a3a" stroke-width="0.35" opacity="0.9"/>
<circle cx="203.6" cy="91.1" r="2.0" fill="rgb(153,153,153)" stroke="#3a3a3a" stroke-width="0.35" opacity="0.9"/>
<circle cx="203.7" cy="99.5" r="1.0" fill="rgb(121,121,121)" stroke="#3a3a3a" stroke-width="0.35" opacity="0.9"/>
<circle cx="199.2" cy="90.3" r="1.2" fill="rgb(196,196,196)" stroke="#3a3a3a" stroke-width="0.35" opacity="0.9"/>
<circle cx="207.9" cy="89.2" r="1.1" fill="rgb(116,116,116)" stroke="#3a3a3a" stroke-width="0.35" opacity="0.9"/>
<ellipse cx="219.5" cy="71.0" rx="6.0" ry="8.4" fill="#5a5a5a" opacity="0.7"/>
<circle cx="219.7" cy="77.8" r="1.5" fill="rgb(166,166,166)" stroke="#3a3a3a" stroke-width="0.35" opacity="0.9"/>
<circle cx="220.8" cy="72.3" r="1.7" fill="rgb(126,126,126)" stroke="#3a3a3a" stroke-width="0.35" opacity="0.9"/>
<circle cx="221.2" cy="71.4" r="1.4" fill="rgb(170,170,170)" stroke="#3a3a3a" stroke-width="0.35" opacity="0.9"/>
<circle cx="219.4" cy="73.7" r="1.6" fill="rgb(199,199,199)" stroke="#3a3a3a" stroke-width="0.35" opacity="0.9"/>
<circle cx="225.0" cy="68.2" r="1.1" fill="rgb(186,186,186)" stroke="#3a3a3a" stroke-width="0.35" opacity="0.9"/>
<circle cx="217.7" cy="76.7" r="1.9" fill="rgb(116,116,116)" stroke="#3a3a3a" stroke-width="0.35" opacity="0.9"/>
<circle cx="220.6" cy="69.7" r="1.6" fill="rgb(116,116,116)" stroke="#3a3a3a" stroke-width="0.35" opacity="0.9"/>
<circle cx="214.3" cy="74.3" r="1.6" fill="rgb(132,132,132)" stroke="#3a3a3a" stroke-width="0.35" opacity="0.9"/>
<circle cx="216.0" cy="68.3" r="2.0" fill="rgb(134,134,134)" stroke="#3a3a3a" stroke-width="0.35" opacity="0.9"/>
<circle cx="218.1" cy="73.8" r="1.3" fill="rgb(153,153,153)" stroke="#3a3a3a" stroke-width="0.35" opacity="0.9"/>
<circle cx="225.7" cy="66.5" r="1.6" fill="rgb(178,178,178)" stroke="#3a3a3a" stroke-width="0.35" opacity="0.9"/>
<circle cx="215.6" cy="66.7" r="1.6" fill="rgb(175,175,175)" stroke="#3a3a3a" stroke-width="0.35" opacity="0.9"/>
<circle cx="221.7" cy="75.4" r="1.2" fill="rgb(138,138,138)" stroke="#3a3a3a" stroke-width="0.35" opacity="0.9"/>
<circle cx="222.2" cy="74.8" r="1.2" fill="rgb(170,170,170)" stroke="#3a3a3a" stroke-width="0.35" opacity="0.9"/>
<circle cx="218.0" cy="74.3" r="1.6" fill="rgb(143,143,143)" stroke="#3a3a3a" stroke-width="0.35" opacity="0.9"/>
<circle cx="216.5" cy="72.8" r="1.4" fill="rgb(180,180,180)" stroke="#3a3a3a" stroke-width="0.35" opacity="0.9"/>
<circle cx="218.9" cy="72.3" r="1.3" fill="rgb(155,155,155)" stroke="#3a3a3a" stroke-width="0.35" opacity="0.9"/>
<circle cx="219.6" cy="71.5" r="1.7" fill="rgb(195,195,195)" stroke="#3a3a3a" stroke-width="0.35" opacity="0.9"/>
<circle cx="214.8" cy="83.0" r="1.7" fill="rgb(129,129,129)" stroke="#3a3a3a" stroke-width="0.35" opacity="0.9"/>
<circle cx="216.7" cy="65.6" r="2.0" fill="rgb(151,151,151)" stroke="#3a3a3a" stroke-width="0.35" opacity="0.9"/>
<circle cx="222.2" cy="68.6" r="1.2" fill="rgb(172,172,172)" stroke="#3a3a3a" stroke-width="0.35" opacity="0.9"/>
<circle cx="218.6" cy="69.0" r="1.5" fill="rgb(158,158,158)" stroke="#3a3a3a" stroke-width="0.35" opacity="0.9"/>
<circle cx="223.4" cy="73.2" r="1.7" fill="rgb(123,123,123)" stroke="#3a3a3a" stroke-width="0.35" opacity="0.9"/>
<circle cx="224.7" cy="75.8" r="1.4" fill="rgb(198,198,198)" stroke="#3a3a3a" stroke-width="0.35" opacity="0.9"/>
<circle cx="219.9" cy="71.6" r="1.5" fill="rgb(128,128,128)" stroke="#3a3a3a" stroke-width="0.35" opacity="0.9"/>
<circle cx="223.3" cy="80.7" r="1.4" fill="rgb(176,176,176)" stroke="#3a3a3a" stroke-width="0.35" opacity="0.9"/>
<circle cx="227.0" cy="73.4" r="1.9" fill="rgb(172,172,172)" stroke="#3a3a3a" stroke-width="0.35" opacity="0.9"/>
<circle cx="216.4" cy="74.1" r="1.3" fill="rgb(118,118,118)" stroke="#3a3a3a" stroke-width="0.35" opacity="0.9"/>
<circle cx="221.8" cy="65.9" r="1.9" fill="rgb(139,139,139)" stroke="#3a3a3a" stroke-width="0.35" opacity="0.9"/>
<circle cx="220.3" cy="66.7" r="1.1" fill="rgb(197,197,197)" stroke="#3a3a3a" stroke-width="0.35" opacity="0.9"/>
<circle cx="216.6" cy="79.6" r="1.8" fill="rgb(125,125,125)" stroke="#3a3a3a" stroke-width="0.35" opacity="0.9"/>
<circle cx="219.6" cy="66.8" r="1.5" fill="rgb(199,199,199)" stroke="#3a3a3a" stroke-width="0.35" opacity="0.9"/>
<circle cx="223.0" cy="72.9" r="1.5" fill="rgb(191,191,191)" stroke="#3a3a3a" stroke-width="0.35" opacity="0.9"/>
<circle cx="215.3" cy="68.1" r="1.2" fill="rgb(153,153,153)" stroke="#3a3a3a" stroke-width="0.35" opacity="0.9"/>
<circle cx="216.8" cy="62.7" r="1.3" fill="rgb(148,148,148)" stroke="#3a3a3a" stroke-width="0.35" opacity="0.9"/>
<circle cx="217.6" cy="67.9" r="1.7" fill="rgb(177,177,177)" stroke="#3a3a3a" stroke-width="0.35" opacity="0.9"/>
<circle cx="216.2" cy="74.6" r="1.4" fill="rgb(146,146,146)" stroke="#3a3a3a" stroke-width="0.35" opacity="0.9"/>
<circle cx="223.0" cy="70.3" r="1.7" fill="rgb(153,153,153)" stroke="#3a3a3a" stroke-width="0.35" opacity="0.9"/>
<circle cx="221.7" cy="69.8" r="1.6" fill="rgb(162,162,162)" stroke="#3a3a3a" stroke-width="0.35" opacity="0.9"/>
<circle cx="219.0" cy="73.8" r="1.9" fill="rgb(121,121,121)" stroke="#3a3a3a" stroke-width="0.35" opacity="0.9"/>
<circle cx="221.7" cy="71.6" r="1.3" fill="rgb(150,150,150)" stroke="#3a3a3a" stroke-width="0.35" opacity="0.9"/>
<circle cx="220.8" cy="73.4" r="1.0" fill="rgb(193,193,193)" stroke="#3a3a3a" stroke-width="0.35" opacity="0.9"/>
<circle cx="218.3" cy="74.3" r="1.1" fill="rgb(182,182,182)" stroke="#3a3a3a" stroke-width="0.35" opacity="0.9"/>
<circle cx="218.6" cy="69.8" r="1.6" fill="rgb(145,145,145)" stroke="#3a3a3a" stroke-width="0.35" opacity="0.9"/>
<circle cx="217.0" cy="70.2" r="1.3" fill="rgb(171,171,171)" stroke="#3a3a3a" stroke-width="0.35" opacity="0.9"/>
<ellipse cx="222.5" cy="49.0" rx="3.6" ry="3.6" fill="#5a5a5a" opacity="0.7"/>
<circle cx="223.3" cy="47.9" r="1.6" fill="rgb(192,192,192)" stroke="#3a3a3a" stroke-width="0.35" opacity="0.9"/>
<circle cx="221.4" cy="49.0" r="1.5" fill="rgb(110,110,110)" stroke="#3a3a3a" stroke-width="0.35" opacity="0.9"/>
<circle cx="223.4" cy="49.0" r="1.4" fill="rgb(173,173,173)" stroke="#3a3a3a" stroke-width="0.35" opacity="0.9"/>
<circle cx="222.1" cy="48.6" r="1.2" fill="rgb(137,137,137)" stroke="#3a3a3a" stroke-width="0.35" opacity="0.9"/>
<circle cx="222.2" cy="50.5" r="1.5" fill="rgb(189,189,189)" stroke="#3a3a3a" stroke-width="0.35" opacity="0.9"/>
<circle cx="221.6" cy="48.4" r="1.3" fill="rgb(157,157,157)" stroke="#3a3a3a" stroke-width="0.35" opacity="0.9"/>
<circle cx="222.7" cy="50.1" r="1.4" fill="rgb(156,156,156)" stroke="#3a3a3a" stroke-width="0.35" opacity="0.9"/>
<circle cx="220.6" cy="47.9" r="2.0" fill="rgb(146,146,146)" stroke="#3a3a3a" stroke-width="0.35" opacity="0.9"/>
<circle cx="223.4" cy="49.1" r="1.2" fill="rgb(196,196,196)" stroke="#3a3a3a" stroke-width="0.35" opacity="0.9"/>
<circle cx="223.3" cy="50.0" r="1.4" fill="rgb(127,127,127)" stroke="#3a3a3a" stroke-width="0.35" opacity="0.9"/>
<circle cx="227.4" cy="48.0" r="1.4" fill="rgb(200,200,200)" stroke="#3a3a3a" stroke-width="0.35" opacity="0.9"/>
<ellipse cx="29.5" cy="19.0" rx="3.6" ry="3.6" fill="#5a5a5a" opacity="0.7"/>
<circle cx="31.4" cy="18.2" r="1.1" fill="rgb(192,192,192)" stroke="#3a3a3a" stroke-width="0.35" opacity="0.9"/>
<circle cx="30.2" cy="18.3" r="1.1" fill="rgb(112,112,112)" stroke="#3a3a3a" stroke-width="0.35" opacity="0.9"/>
<circle cx="33.0" cy="19.9" r="1.7" fill="rgb(199,199,199)" stroke="#3a3a3a" stroke-width="0.35" opacity="0.9"/>
<circle cx="32.4" cy="19.4" r="1.8" fill="rgb(147,147,147)" stroke="#3a3a3a" stroke-width="0.35" opacity="0.9"/>
<circle cx="28.9" cy="20.4" r="1.0" fill="rgb(151,151,151)" stroke="#3a3a3a" stroke-width="0.35" opacity="0.9"/>
<circle cx="28.3" cy="17.8" r="1.3" fill="rgb(199,199,199)" stroke="#3a3a3a" stroke-width="0.35" opacity="0.9"/>
<circle cx="28.7" cy="20.0" r="2.0" fill="rgb(160,160,160)" stroke="#3a3a3a" stroke-width="0.35" opacity="0.9"/>
<circle cx="27.8" cy="17.9" r="1.8" fill="rgb(164,164,164)" stroke="#3a3a3a" stroke-width="0.35" opacity="0.9"/>
<circle cx="31.5" cy="18.8" r="1.8" fill="rgb(129,129,129)" stroke="#3a3a3a" stroke-width="0.35" opacity="0.9"/>
<circle cx="29.3" cy="21.9" r="1.8" fill="rgb(161,161,161)" stroke="#3a3a3a" stroke-width="0.35" opacity="0.9"/>
<circle cx="29.6" cy="16.2" r="1.8" fill="rgb(156,156,156)" stroke="#3a3a3a" stroke-width="0.35" opacity="0.9"/>
</g></svg>
<text x="239.3" y="159.5" font-size="13.5" font-weight="bold" fill="#fff">b)</text>
<text x="402.2" y="148.5" font-size="10.5" font-weight="bold" fill="#fff">50</text><text x="419.2" y="148.5" font-size="10.5" font-weight="bold" fill="#fff">µm</text>
<rect x="391" y="153.8" width="56.9" height="3.1" fill="#fff"/>
<text x="461.4" y="164" font-size="11.6" font-weight="bold" fill="#111">c)</text>
<path d="M502.6,131.0 L504.1,130.1 L505.6,129.7 L507.1,129.0 L508.6,128.6 L510.1,127.1 L511.6,126.5 L513.1,126.0 L514.6,124.0 L516.1,123.9 L517.6,122.3 L519.1,122.5 L520.6,121.3 L522.1,119.9 L523.6,119.2 L525.1,118.3 L526.6,117.6 L528.1,117.3 L529.6,115.5 L531.1,114.7 L532.6,114.2 L534.1,113.2 L535.6,112.1 L537.1,111.6 L538.6,110.7 L540.1,109.8 L541.6,108.7 L543.1,107.8 L544.6,107.4 L546.1,106.0 L547.6,105.6 L549.1,104.4 L550.6,103.9 L552.1,102.4 L553.6,101.5 L555.1,100.8 L556.6,100.4 L558.1,99.6 L559.6,98.6 L561.1,97.6 L562.6,97.4 L564.1,95.9 L565.6,94.6 L567.1,94.7 L568.6,92.9 L570.1,92.4 L571.6,91.0 L573.1,90.5 L574.6,89.6 L576.1,88.7 L577.6,88.2 L579.1,87.7 L580.6,86.0 L582.1,85.1 L583.6,84.4 L585.1,84.2 L586.6,82.9 L588.1,82.1 L589.6,81.4 L591.1,80.4 L592.6,79.5 L594.1,78.0 L595.6,77.6 L597.1,76.3 L598.6,75.5 L600.1,75.5 L601.6,73.7 L603.1,73.1 L604.6,71.8 L606.1,70.7 L607.6,69.4 L609.1,68.9 L610.6,67.3 L612.1,66.6 L613.6,65.0 L615.1,64.3 L616.6,63.0 L618.1,61.5 L619.6,61.3 L621.1,60.5 L622.6,58.4 L624.1,57.7 L625.6,56.5 L627.1,55.2 L628.6,54.0 L630.1,53.5 L631.6,51.7 L633.1,51.4 L634.6,49.9 L636.1,48.7 L637.6,48.1 L639.1,47.0 L640.6,46.0 L642.1,44.9 L643.6,43.7 L645.1,42.1 L646.6,42.0 L648.1,39.8 L649.6,38.9 L651.1,38.1 L652.6,36.9 L654.1,36.3 L655.6,34.6 L657.1,33.4 L658.6,32.9 L660.1,31.7 L661.6,30.9 L663.1,29.8 L664.6,28.0 L666.1,27.2 L667.2,49.6 L665.7,50.8 L664.2,51.1 L662.7,51.8 L661.2,53.1 L659.7,54.3 L658.2,54.7 L656.7,56.1 L655.2,56.7 L653.7,57.6 L652.2,59.0 L650.7,59.5 L649.2,60.9 L647.7,61.8 L646.2,62.2 L644.7,62.7 L643.2,64.6 L641.7,65.2 L640.2,66.1 L638.7,67.1 L637.2,67.9 L635.7,69.2 L634.2,69.1 L632.7,71.1 L631.2,71.6 L629.7,72.3 L628.2,73.8 L626.7,74.7 L625.2,75.2 L623.7,75.4 L622.2,77.1 L620.7,77.7 L619.2,78.8 L617.7,80.0 L616.2,80.1 L614.7,81.9 L613.2,82.1 L611.7,83.0 L610.2,83.6 L608.7,84.6 L607.2,85.7 L605.7,86.9 L604.2,88.3 L602.7,88.3 L601.2,89.4 L599.7,90.4 L598.2,91.6 L596.7,92.2 L595.2,93.4 L593.7,93.7 L592.2,94.5 L590.7,96.1 L589.2,97.1 L587.7,97.3 L586.2,98.1 L584.7,99.8 L583.2,100.0 L581.7,101.9 L580.2,102.5 L578.7,102.8 L577.2,104.0 L575.7,104.5 L574.2,105.4 L572.7,106.7 L571.2,108.2 L569.7,109.2 L568.2,109.9 L566.7,110.6 L565.2,111.5 L563.7,112.3 L562.2,113.4 L560.7,114.1 L559.2,114.9 L557.7,116.3 L556.2,116.6 L554.7,117.6 L553.2,118.9 L551.7,120.1 L550.2,120.3 L548.7,121.3 L547.2,122.2 L545.7,122.8 L544.2,123.9 L542.7,125.3 L541.2,125.5 L539.7,126.8 L538.2,127.5 L536.7,128.7 L535.2,129.9 L533.7,130.0 L532.2,131.3 L530.7,131.9 L529.2,133.3 L527.7,134.3 L527,136.5 L502.6,136.5Z" fill="#12b04e"/>
<path d="M490.1,12.5 L667.2,12.5 L667.2,138.2 L490.1,138.2Z" fill="none" stroke="#555" stroke-width="1.1"/>
<line x1="487.6" y1="138.2" x2="490.1" y2="138.2" stroke="#444" stroke-width="1.1"/>
<text x="486.6" y="141.2" font-size="8.5" font-weight="bold" text-anchor="end" fill="#222">0</text>
<line x1="487.6" y1="120.2" x2="490.1" y2="120.2" stroke="#444" stroke-width="1.1"/>
<text x="486.6" y="123.2" font-size="8.5" font-weight="bold" text-anchor="end" fill="#222">50</text>
<line x1="487.6" y1="102.3" x2="490.1" y2="102.3" stroke="#444" stroke-width="1.1"/>
<text x="486.6" y="105.3" font-size="8.5" font-weight="bold" text-anchor="end" fill="#222">100</text>
<line x1="487.6" y1="84.3" x2="490.1" y2="84.3" stroke="#444" stroke-width="1.1"/>
<text x="486.6" y="87.3" font-size="8.5" font-weight="bold" text-anchor="end" fill="#222">150</text>
<line x1="487.6" y1="66.4" x2="490.1" y2="66.4" stroke="#444" stroke-width="1.1"/>
<text x="486.6" y="69.4" font-size="8.5" font-weight="bold" text-anchor="end" fill="#222">200</text>
<line x1="487.6" y1="48.4" x2="490.1" y2="48.4" stroke="#444" stroke-width="1.1"/>
<text x="486.6" y="51.4" font-size="8.5" font-weight="bold" text-anchor="end" fill="#222">250</text>
<line x1="487.6" y1="30.5" x2="490.1" y2="30.5" stroke="#444" stroke-width="1.1"/>
<text x="486.6" y="33.5" font-size="8.5" font-weight="bold" text-anchor="end" fill="#222">300</text>
<line x1="487.6" y1="12.5" x2="490.1" y2="12.5" stroke="#444" stroke-width="1.1"/>
<text x="486.6" y="15.5" font-size="8.5" font-weight="bold" text-anchor="end" fill="#222">350</text>
<line x1="490.1" y1="138.2" x2="490.1" y2="140.7" stroke="#444" stroke-width="1.1"/>
<text x="490.1" y="148.8" font-size="8.5" font-weight="bold" text-anchor="middle" fill="#222">0</text>
<line x1="519.6" y1="138.2" x2="519.6" y2="140.7" stroke="#444" stroke-width="1.1"/>
<text x="519.6" y="148.8" font-size="8.5" font-weight="bold" text-anchor="middle" fill="#222">100</text>
<line x1="549.1" y1="138.2" x2="549.1" y2="140.7" stroke="#444" stroke-width="1.1"/>
<text x="549.1" y="148.8" font-size="8.5" font-weight="bold" text-anchor="middle" fill="#222">200</text>
<line x1="578.7" y1="138.2" x2="578.7" y2="140.7" stroke="#444" stroke-width="1.1"/>
<text x="578.7" y="148.8" font-size="8.5" font-weight="bold" text-anchor="middle" fill="#222">300</text>
<line x1="608.2" y1="138.2" x2="608.2" y2="140.7" stroke="#444" stroke-width="1.1"/>
<text x="608.2" y="148.8" font-size="8.5" font-weight="bold" text-anchor="middle" fill="#222">400</text>
<line x1="637.7" y1="138.2" x2="637.7" y2="140.7" stroke="#444" stroke-width="1.1"/>
<text x="637.7" y="148.8" font-size="8.5" font-weight="bold" text-anchor="middle" fill="#222">500</text>
<line x1="667.2" y1="138.2" x2="667.2" y2="140.7" stroke="#444" stroke-width="1.1"/>
<text x="667.2" y="148.8" font-size="8.5" font-weight="bold" text-anchor="middle" fill="#222">600</text>
<path d="M490.2,135.3 L491.5,135.3 L492.8,135.1 L494.1,135.0 L495.4,134.3 L496.7,134.3 L498.0,134.3 L499.3,134.8 L500.6,134.6 L501.9,134.9 L503.2,134.5 L504.5,133.9 L505.8,134.9 L507.1,134.4 L508.4,134.6 L509.7,133.8 L511.0,134.4 L512.3,134.1 L513.6,134.6 L514.9,133.8 L516.2,133.9 L517.5,133.5 L518.8,133.6 L520.1,133.5 L521.4,134.0 L522.7,134.0 L524.0,133.5 L525.3,134.1 L526.6,133.0 L527.9,133.2 L529.2,133.4 L530.5,133.5 L531.8,133.8 L533.1,133.2 L534.4,132.9 L535.7,133.6 L537.0,133.6 L538.3,132.8 L539.6,133.0 L540.9,132.6 L542.2,133.0 L543.5,132.3 L544.8,132.3 L546.1,132.9 L547.4,132.6 L548.7,132.5 L550.0,132.6 L551.3,132.1 L552.6,132.2 L553.9,132.0 L555.2,132.6 L556.5,132.3 L557.8,132.2 L559.1,132.0 L560.4,132.7 L561.7,131.6 L563.0,132.0 L564.3,132.3 L565.6,131.4 L566.9,131.7 L568.2,131.4 L569.5,131.3 L570.8,131.4 L572.1,131.0 L573.4,132.0 L574.7,131.6 L576.0,131.7 L577.3,131.1 L578.6,131.5 L579.9,131.7 L581.2,131.5 L582.5,131.4 L583.8,130.9 L585.1,130.9 L586.4,130.8 L587.7,131.3 L589.0,130.6 L590.3,130.9 L591.6,131.0 L592.9,131.0 L594.2,130.8 L595.5,130.5 L596.8,130.7 L598.1,130.3 L599.4,130.6 L600.7,129.8 L602.0,129.6 L603.3,130.2 L604.6,130.4 L605.9,129.3 L607.2,130.3 L608.5,129.5 L609.8,129.3 L611.1,129.6 L612.4,129.0 L613.7,129.9 L615.0,129.1 L616.3,128.8 L617.6,128.8 L618.9,128.8 L620.2,129.2 L621.5,129.1 L622.8,128.6 L624.1,129.1 L625.4,129.2 L626.7,129.4 L628.0,129.1 L629.3,129.1 L630.6,128.1 L631.9,128.8 L633.2,128.7 L634.5,127.9 L635.8,128.1 L637.1,128.4 L638.4,128.7 L639.7,128.3 L641.0,128.4 L642.3,127.5 L643.6,128.1 L644.9,127.4 L646.2,128.1 L647.5,128.3 L648.8,127.3 L650.1,128.2 L651.4,127.3 L652.7,127.4 L654.0,127.7 L655.3,127.0 L656.6,127.4 L657.9,126.7 L659.2,127.1 L660.5,126.6 L661.8,126.6 L663.1,127.2 L664.4,126.7 L665.7,126.6 L667.0,126.6 L667.2,138.6 L665.2,139.2 L663.2,139.2 L661.2,138.8 L659.2,138.7 L657.2,138.7 L655.2,139.1 L653.2,138.7 L651.2,139.4 L649.2,139.0 L647.2,139.5 L645.2,139.3 L643.2,139.1 L641.2,138.9 L639.2,139.1 L637.2,139.2 L635.2,139.4 L633.2,139.5 L631.2,139.0 L629.2,138.8 L627.2,139.3 L625.2,139.3 L623.2,139.3 L621.2,139.5 L619.2,139.5 L617.2,139.3 L615.2,139.5 L613.2,138.9 L611.2,139.6 L609.2,139.4 L607.2,138.9 L605.2,139.0 L603.2,139.4 L601.2,139.1 L599.2,139.7 L597.2,139.1 L595.2,139.3 L593.2,139.3 L591.2,139.7 L589.2,139.2 L587.2,139.7 L585.2,139.5 L583.2,139.4 L581.2,139.7 L579.2,139.7 L577.2,139.6 L575.2,139.5 L573.2,139.1 L571.2,139.2 L569.2,139.6 L567.2,139.1 L565.2,139.6 L563.2,139.3 L561.2,139.4 L559.2,139.7 L557.2,139.8 L555.2,139.7 L553.2,139.5 L551.2,139.6 L549.2,139.9 L547.2,139.9 L545.2,139.6 L543.2,139.2 L541.2,139.9 L539.2,139.2 L537.2,139.3 L535.2,139.7 L533.2,139.4 L531.2,139.8 L529.2,139.8 L527.2,139.4 L525.2,140.0 L523.2,140.0 L521.2,139.8 L519.2,140.1 L517.2,139.9 L515.2,139.7 L513.2,140.0 L511.2,140.1 L509.2,139.9 L507.2,139.4 L505.2,139.6 L503.2,139.9 L501.2,139.6 L499.2,139.5 L497.2,139.7 L495.2,139.5 L493.2,139.8 L491.2,139.5Z" fill="#c0100e"/>
<path d="M493.5,135 L494.8,130.3 L496.1,135Z" fill="#c0100e"/>
<text x="576" y="161.5" font-size="8.8" font-weight="bold" text-anchor="middle" fill="#222">time (s)</text>
<text transform="translate(468,75) rotate(-90)" font-size="9" font-weight="bold" text-anchor="middle" fill="#222">Surface potential (V)</text>
<rect x="503.7" y="30.3" width="5" height="4.6" fill="#12b04e"/>
<text x="512.5" y="35.5" font-size="9" font-weight="bold" fill="#12b04e">PLA</text>
<rect x="503.7" y="46" width="5" height="4.6" fill="#c8100e"/>
<text x="512.5" y="51.5" font-size="9" font-weight="bold" fill="#c8100e">PLA/PGS</text>
<text x="5.2" y="201.8" font-size="20" font-weight="bold" fill="#000">d)</text>
<text x="19.5" y="248.8" font-size="19.4" font-weight="bold" fill="#c0682c">electrospraying</text>
<text x="511.5" y="249" font-size="19.5" font-weight="bold" fill="#21a55a">electrospinning</text>
<text x="386.5" y="210.5" font-size="19.4" font-weight="bold" fill="#000">High speed of rotation</text>
<defs><linearGradient id="gor" x1="0" x2="1"><stop offset="0" stop-color="#b0521c"/><stop offset="1" stop-color="#f08a3a"/></linearGradient><linearGradient id="ggr" x1="0" x2="1"><stop offset="0" stop-color="#1fb45a"/><stop offset="1" stop-color="#0a7a35"/></linearGradient><linearGradient id="gsh" x1="0" x2="1"><stop offset="0" stop-color="#4c4c4c"/><stop offset="1" stop-color="#727070"/></linearGradient><linearGradient id="gtop" x1="0" x2="1"><stop offset="0" stop-color="#999"/><stop offset="0.6" stop-color="#b8b8b8"/><stop offset="1" stop-color="#b0b0b0"/></linearGradient></defs>
<path d="M4,279 L60,292 L4,306.5Z" fill="url(#gor)" stroke="#3a2010" stroke-width="0.8"/>
<circle cx="67" cy="292.7" r="2.7" fill="#b4602c"/>
<circle cx="80.4" cy="295" r="2.7" fill="#b4602c"/>
<circle cx="95.3" cy="294.3" r="2.7" fill="#b4602c"/>
<circle cx="105" cy="297.7" r="2.7" fill="#b4602c"/>
<circle cx="114.5" cy="290.3" r="2.7" fill="#b4602c"/>
<circle cx="119" cy="297.7" r="2.7" fill="#b4602c"/>
<circle cx="120" cy="297.6" r="2.7" fill="#b4602c"/>
<circle cx="126.2" cy="293" r="2.7" fill="#b4602c"/>
<circle cx="127.5" cy="301" r="2.7" fill="#b4602c"/>
<circle cx="133.3" cy="285.2" r="2.7" fill="#b4602c"/>
<circle cx="133.7" cy="295.3" r="2.7" fill="#b4602c"/>
<circle cx="141" cy="290" r="2.7" fill="#b4602c"/>
<circle cx="141.3" cy="302.7" r="2.7" fill="#b4602c"/>
<circle cx="147" cy="297" r="2.7" fill="#b4602c"/>
<circle cx="149.8" cy="288.2" r="2.7" fill="#b4602c"/>
<circle cx="155.5" cy="297" r="2.7" fill="#b4602c"/>
<circle cx="157.3" cy="305.4" r="2.7" fill="#b4602c"/>
<circle cx="161.2" cy="287.8" r="2.7" fill="#b4602c"/>
<circle cx="168.3" cy="293" r="2.7" fill="#b4602c"/>
<circle cx="168" cy="306.8" r="2.7" fill="#b4602c"/>
<circle cx="170.6" cy="282.8" r="2.7" fill="#b4602c"/>
<circle cx="175.9" cy="298.3" r="2.7" fill="#b4602c"/>
<circle cx="177.7" cy="289" r="2.7" fill="#b4602c"/>
<circle cx="185.7" cy="297" r="2.7" fill="#b4602c"/>
<circle cx="186" cy="307.7" r="2.7" fill="#b4602c"/>
<circle cx="189.2" cy="286.9" r="2.7" fill="#b4602c"/>
<circle cx="191.9" cy="279.3" r="2.7" fill="#b4602c"/>
<circle cx="195.4" cy="303.6" r="2.7" fill="#b4602c"/>
<circle cx="198.1" cy="294.4" r="2.7" fill="#b4602c"/>
<circle cx="202.2" cy="282" r="2.7" fill="#b4602c"/>
<circle cx="203.4" cy="310.4" r="2.7" fill="#b4602c"/>
<circle cx="206.5" cy="300.6" r="2.7" fill="#b4602c"/>
<circle cx="207" cy="274.9" r="2.7" fill="#b4602c"/>
<circle cx="208.2" cy="287.8" r="2.7" fill="#b4602c"/>
<circle cx="210.5" cy="316.6" r="2.7" fill="#b4602c"/>
<circle cx="214.6" cy="266.9" r="2.7" fill="#b4602c"/>
<circle cx="215.5" cy="277.9" r="2.7" fill="#b4602c"/>
<circle cx="216.4" cy="305.4" r="2.7" fill="#b4602c"/>
<circle cx="218.5" cy="313.4" r="2.7" fill="#b4602c"/>
<circle cx="218.5" cy="322.8" r="2.7" fill="#b4602c"/>
<circle cx="219.4" cy="294.7" r="2.7" fill="#b4602c"/>
<path d="M417,317 C432,300 432,270 446.5,269.8 C462,270 468,325 490.8,322.7 C508,320 505,264 518.7,264 C532,264 535,308 552.3,307.7 C562,307 558,284 566.2,284.6 C574,285 576,292 583.5,292.2 L620.4,292.2" fill="none" stroke="#3aa870" stroke-width="1.2"/>
<path d="M620.4,292.2 L674.6,278.8 L674.6,306.5Z" fill="url(#ggr)"/>
<path d="M290,320 L290,389.5 A30,7.5 0 0 0 350,389.5 L350,320Z" fill="url(#gsh)" stroke="#222" stroke-width="0.7"/>
<clipPath id="drumclip"><path d="M223.09999999999997,259 A96.8,10 0 0 0 416.7,259 L416.7,325.5 A96.8,10.5 0 0 1 223.09999999999997,325.5Z"/></clipPath>
<path d="M223.09999999999997,259 A96.8,10 0 0 0 416.7,259 L416.7,325.5 A96.8,10.5 0 0 1 223.09999999999997,325.5Z" fill="#5c6662"/>
<g clip-path="url(#drumclip)">
<path d="M223.09999999999997,264.0 A96.8,10 0 0 0 416.7,264.0" fill="none" stroke="#30a062" stroke-width="1.9"/>
<path d="M223.09999999999997,268.0 A96.8,10 0 0 0 416.7,268.0" fill="none" stroke="#30a062" stroke-width="1.9"/>
<path d="M223.09999999999997,272.0 A96.8,10 0 0 0 416.7,272.0" fill="none" stroke="#30a062" stroke-width="1.9"/>
<path d="M223.09999999999997,276.0 A96.8,10 0 0 0 416.7,276.0" fill="none" stroke="#30a062" stroke-width="1.9"/>
<path d="M223.09999999999997,280.0 A96.8,10 0 0 0 416.7,280.0" fill="none" stroke="#30a062" stroke-width="1.9"/>
<path d="M223.09999999999997,284.0 A96.8,10 0 0 0 416.7,284.0" fill="none" stroke="#30a062" stroke-width="1.9"/>
<path d="M223.09999999999997,288.0 A96.8,10 0 0 0 416.7,288.0" fill="none" stroke="#30a062" stroke-width="1.9"/>
<path d="M223.09999999999997,292.0 A96.8,10 0 0 0 416.7,292.0" fill="none" stroke="#30a062" stroke-width="1.9"/>
<path d="M223.09999999999997,296.0 A96.8,10 0 0 0 416.7,296.0" fill="none" stroke="#30a062" stroke-width="1.9"/>
<path d="M223.09999999999997,300.0 A96.8,10 0 0 0 416.7,300.0" fill="none" stroke="#30a062" stroke-width="1.9"/>
<path d="M223.09999999999997,304.0 A96.8,10 0 0 0 416.7,304.0" fill="none" stroke="#30a062" stroke-width="1.9"/>
<path d="M223.09999999999997,308.0 A96.8,10 0 0 0 416.7,308.0" fill="none" stroke="#30a062" stroke-width="1.9"/>
<path d="M223.09999999999997,312.0 A96.8,10 0 0 0 416.7,312.0" fill="none" stroke="#30a062" stroke-width="1.9"/>
<path d="M223.09999999999997,316.0 A96.8,10 0 0 0 416.7,316.0" fill="none" stroke="#30a062" stroke-width="1.9"/>
<path d="M223.09999999999997,320.0 A96.8,10 0 0 0 416.7,320.0" fill="none" stroke="#30a062" stroke-width="1.9"/>
<path d="M223.09999999999997,324.0 A96.8,10 0 0 0 416.7,324.0" fill="none" stroke="#30a062" stroke-width="1.9"/>
<path d="M223.09999999999997,328.0 A96.8,10 0 0 0 416.7,328.0" fill="none" stroke="#30a062" stroke-width="1.9"/>
<path d="M223.09999999999997,332.0 A96.8,10 0 0 0 416.7,332.0" fill="none" stroke="#30a062" stroke-width="1.9"/>
<path d="M223.09999999999997,336.0 A96.8,10 0 0 0 416.7,336.0" fill="none" stroke="#30a062" stroke-width="1.9"/>
</g>
<path d="M223.09999999999997,259 L223.09999999999997,325.5 A96.8,10.5 0 0 0 416.7,325.5 L416.7,259" fill="none" stroke="#222" stroke-width="0.8"/>
<ellipse cx="319.9" cy="259" rx="96.8" ry="10" fill="url(#gtop)" stroke="#222" stroke-width="0.8"/>
<path d="M245.6,226.9 A76.3,13.3 0 0 1 300,214.1" fill="none" stroke="#000" stroke-width="4.4"/>
<path d="M290.2,185.5 L290.2,257 A29.5,7 0 0 0 349.2,257 L349.2,185.5Z" fill="url(#gsh)" stroke="#222" stroke-width="0.7"/>
<ellipse cx="319.7" cy="185.5" rx="29.5" ry="8" fill="url(#gtop)" stroke="#222" stroke-width="0.7"/>
<path d="M245.6,226.9 A76.3,13.3 0 0 0 398.2,226.9 A76.3,13.3 0 0 0 380,216.5" fill="none" stroke="#000" stroke-width="4.4"/><path d="M368.4,215.5 L383.8,211.2 L381.4,225.2Z" fill="#000"/>
<circle cx="238.9" cy="307.3" r="2.4" fill="#8c9a36" stroke="#4a4a18" stroke-width="0.8"/>
<circle cx="260.2" cy="304.6" r="2.4" fill="#8c9a36" stroke="#4a4a18" stroke-width="0.8"/>
<circle cx="263.7" cy="306.4" r="2.4" fill="#8c9a36" stroke="#4a4a18" stroke-width="0.8"/>
<circle cx="230.4" cy="313.5" r="2.4" fill="#8c9a36" stroke="#4a4a18" stroke-width="0.8"/>
<circle cx="246" cy="321.5" r="2.4" fill="#8c9a36" stroke="#4a4a18" stroke-width="0.8"/>
<circle cx="250.4" cy="322.8" r="2.4" fill="#8c9a36" stroke="#4a4a18" stroke-width="0.8"/>
<circle cx="312" cy="285.5" r="2.4" fill="#8c9a36" stroke="#4a4a18" stroke-width="0.8"/>
<circle cx="308" cy="289" r="2.4" fill="#8c9a36" stroke="#4a4a18" stroke-width="0.8"/>
<circle cx="280.9" cy="291.7" r="2.4" fill="#8c9a36" stroke="#4a4a18" stroke-width="0.8"/>
<circle cx="286.2" cy="310.5" r="2.4" fill="#8c9a36" stroke="#4a4a18" stroke-width="0.8"/>
<circle cx="309.5" cy="310" r="2.4" fill="#8c9a36" stroke="#4a4a18" stroke-width="0.8"/>
<circle cx="324.5" cy="310.5" r="2.4" fill="#8c9a36" stroke="#4a4a18" stroke-width="0.8"/>
<circle cx="302.3" cy="321.4" r="2.4" fill="#8c9a36" stroke="#4a4a18" stroke-width="0.8"/>
<circle cx="301.7" cy="326.1" r="2.4" fill="#8c9a36" stroke="#4a4a18" stroke-width="0.8"/>
<circle cx="336.4" cy="327.6" r="2.4" fill="#8c9a36" stroke="#4a4a18" stroke-width="0.8"/>
<circle cx="335.4" cy="330.7" r="2.4" fill="#8c9a36" stroke="#4a4a18" stroke-width="0.8"/>
<circle cx="360.1" cy="294" r="2.4" fill="#8c9a36" stroke="#4a4a18" stroke-width="0.8"/>
<circle cx="376.1" cy="295.7" r="2.4" fill="#8c9a36" stroke="#4a4a18" stroke-width="0.8"/>
<circle cx="392" cy="285" r="2.4" fill="#8c9a36" stroke="#4a4a18" stroke-width="0.8"/>
<circle cx="409.2" cy="273.8" r="2.4" fill="#8c9a36" stroke="#4a4a18" stroke-width="0.8"/>
<circle cx="409.8" cy="278.6" r="2.4" fill="#8c9a36" stroke="#4a4a18" stroke-width="0.8"/>
<circle cx="405.1" cy="295.1" r="2.4" fill="#8c9a36" stroke="#4a4a18" stroke-width="0.8"/>
<circle cx="387.9" cy="300.9" r="2.4" fill="#8c9a36" stroke="#4a4a18" stroke-width="0.8"/>
<circle cx="382" cy="308" r="2.4" fill="#8c9a36" stroke="#4a4a18" stroke-width="0.8"/>
<circle cx="382" cy="312.2" r="2.4" fill="#8c9a36" stroke="#4a4a18" stroke-width="0.8"/>
<circle cx="373.1" cy="322.8" r="2.4" fill="#8c9a36" stroke="#4a4a18" stroke-width="0.8"/>
<circle cx="403.9" cy="320.4" r="2.4" fill="#8c9a36" stroke="#4a4a18" stroke-width="0.8"/>
<circle cx="408" cy="321" r="2.4" fill="#8c9a36" stroke="#4a4a18" stroke-width="0.8"/>
<circle cx="411" cy="302.1" r="2.4" fill="#8c9a36" stroke="#4a4a18" stroke-width="0.8"/>
<circle cx="237.5" cy="281.6" r="2.4" fill="#8c9a36" stroke="#4a4a18" stroke-width="0.8"/>
<circle cx="236.6" cy="285.2" r="2.4" fill="#8c9a36" stroke="#4a4a18" stroke-width="0.8"/>
<circle cx="241.1" cy="285.6" r="2.4" fill="#8c9a36" stroke="#4a4a18" stroke-width="0.8"/>
<circle cx="246.4" cy="274.5" r="2.4" fill="#8c9a36" stroke="#4a4a18" stroke-width="0.8"/>
<circle cx="261.9" cy="283.8" r="2.4" fill="#8c9a36" stroke="#4a4a18" stroke-width="0.8"/>
<circle cx="279.2" cy="291.4" r="2.4" fill="#8c9a36" stroke="#4a4a18" stroke-width="0.8"/>
<circle cx="238" cy="298" r="2.5" fill="#e2702c" stroke="#6a3410" stroke-width="0.85"/>
<circle cx="233.5" cy="303.3" r="2.5" fill="#e2702c" stroke="#6a3410" stroke-width="0.85"/>
<circle cx="237.5" cy="302.9" r="2.5" fill="#e2702c" stroke="#6a3410" stroke-width="0.85"/>
<circle cx="240.6" cy="301.1" r="2.5" fill="#e2702c" stroke="#6a3410" stroke-width="0.85"/>
<circle cx="235.3" cy="299.8" r="2.5" fill="#e2702c" stroke="#6a3410" stroke-width="0.85"/>
<circle cx="242.4" cy="309.1" r="2.5" fill="#e2702c" stroke="#6a3410" stroke-width="0.85"/>
<circle cx="246" cy="309.1" r="2.5" fill="#e2702c" stroke="#6a3410" stroke-width="0.85"/>
<circle cx="239.3" cy="310.9" r="2.5" fill="#e2702c" stroke="#6a3410" stroke-width="0.85"/>
<circle cx="254" cy="300.2" r="2.5" fill="#e2702c" stroke="#6a3410" stroke-width="0.85"/>
<circle cx="256.6" cy="298" r="2.5" fill="#e2702c" stroke="#6a3410" stroke-width="0.85"/>
<circle cx="257" cy="302.9" r="2.5" fill="#e2702c" stroke="#6a3410" stroke-width="0.85"/>
<circle cx="258.4" cy="308.2" r="2.5" fill="#e2702c" stroke="#6a3410" stroke-width="0.85"/>
<circle cx="250" cy="316.6" r="2.5" fill="#e2702c" stroke="#6a3410" stroke-width="0.85"/>
<circle cx="255.7" cy="315.7" r="2.5" fill="#e2702c" stroke="#6a3410" stroke-width="0.85"/>
<circle cx="258.4" cy="318.4" r="2.5" fill="#e2702c" stroke="#6a3410" stroke-width="0.85"/>
<circle cx="246.8" cy="324.6" r="2.5" fill="#e2702c" stroke="#6a3410" stroke-width="0.85"/>
<circle cx="253.5" cy="325.5" r="2.5" fill="#e2702c" stroke="#6a3410" stroke-width="0.85"/>
<circle cx="309.3" cy="281.1" r="2.5" fill="#e2702c" stroke="#6a3410" stroke-width="0.85"/>
<circle cx="304" cy="283.3" r="2.5" fill="#e2702c" stroke="#6a3410" stroke-width="0.85"/>
<circle cx="308" cy="284.6" r="2.5" fill="#e2702c" stroke="#6a3410" stroke-width="0.85"/>
<circle cx="298.6" cy="288.2" r="2.5" fill="#e2702c" stroke="#6a3410" stroke-width="0.85"/>
<circle cx="303" cy="288.2" r="2.5" fill="#e2702c" stroke="#6a3410" stroke-width="0.85"/>
<circle cx="300.4" cy="290.8" r="2.5" fill="#e2702c" stroke="#6a3410" stroke-width="0.85"/>
<circle cx="284.1" cy="306.4" r="2.5" fill="#e2702c" stroke="#6a3410" stroke-width="0.85"/>
<circle cx="283.6" cy="315.7" r="2.5" fill="#e2702c" stroke="#6a3410" stroke-width="0.85"/>
<circle cx="290.4" cy="316.2" r="2.5" fill="#e2702c" stroke="#6a3410" stroke-width="0.85"/>
<circle cx="286.2" cy="319.3" r="2.5" fill="#e2702c" stroke="#6a3410" stroke-width="0.85"/>
<circle cx="288.8" cy="309.5" r="2.5" fill="#e2702c" stroke="#6a3410" stroke-width="0.85"/>
<circle cx="305.9" cy="302.8" r="2.5" fill="#e2702c" stroke="#6a3410" stroke-width="0.85"/>
<circle cx="309.5" cy="304.8" r="2.5" fill="#e2702c" stroke="#6a3410" stroke-width="0.85"/>
<circle cx="302.3" cy="308.5" r="2.5" fill="#e2702c" stroke="#6a3410" stroke-width="0.85"/>
<circle cx="305.4" cy="309.5" r="2.5" fill="#e2702c" stroke="#6a3410" stroke-width="0.85"/>
<circle cx="303.8" cy="313.1" r="2.5" fill="#e2702c" stroke="#6a3410" stroke-width="0.85"/>
<circle cx="318.8" cy="297.6" r="2.5" fill="#e2702c" stroke="#6a3410" stroke-width="0.85"/>
<circle cx="322.5" cy="299.1" r="2.5" fill="#e2702c" stroke="#6a3410" stroke-width="0.85"/>
<circle cx="319.3" cy="301.2" r="2.5" fill="#e2702c" stroke="#6a3410" stroke-width="0.85"/>
<circle cx="321.9" cy="304.8" r="2.5" fill="#e2702c" stroke="#6a3410" stroke-width="0.85"/>
<circle cx="325" cy="305.9" r="2.5" fill="#e2702c" stroke="#6a3410" stroke-width="0.85"/>
<circle cx="338" cy="311" r="2.5" fill="#e2702c" stroke="#6a3410" stroke-width="0.85"/>
<circle cx="298.1" cy="325" r="2.5" fill="#e2702c" stroke="#6a3410" stroke-width="0.85"/>
<circle cx="307.4" cy="324" r="2.5" fill="#e2702c" stroke="#6a3410" stroke-width="0.85"/>
<circle cx="302.8" cy="329.7" r="2.5" fill="#e2702c" stroke="#6a3410" stroke-width="0.85"/>
<circle cx="306.9" cy="328.7" r="2.5" fill="#e2702c" stroke="#6a3410" stroke-width="0.85"/>
<circle cx="334.4" cy="323.5" r="2.5" fill="#e2702c" stroke="#6a3410" stroke-width="0.85"/>
<circle cx="341.6" cy="321.9" r="2.5" fill="#e2702c" stroke="#6a3410" stroke-width="0.85"/>
<circle cx="341.1" cy="326.6" r="2.5" fill="#e2702c" stroke="#6a3410" stroke-width="0.85"/>
<circle cx="340" cy="331.2" r="2.5" fill="#e2702c" stroke="#6a3410" stroke-width="0.85"/>
<circle cx="350.7" cy="291" r="2.5" fill="#e2702c" stroke="#6a3410" stroke-width="0.85"/>
<circle cx="357.2" cy="288.6" r="2.5" fill="#e2702c" stroke="#6a3410" stroke-width="0.85"/>
<circle cx="361.9" cy="287.8" r="2.5" fill="#e2702c" stroke="#6a3410" stroke-width="0.85"/>
<circle cx="351.8" cy="294" r="2.5" fill="#e2702c" stroke="#6a3410" stroke-width="0.85"/>
<circle cx="354.8" cy="292.8" r="2.5" fill="#e2702c" stroke="#6a3410" stroke-width="0.85"/>
<circle cx="393.3" cy="279.8" r="2.5" fill="#e2702c" stroke="#6a3410" stroke-width="0.85"/>
<circle cx="389.1" cy="282.7" r="2.5" fill="#e2702c" stroke="#6a3410" stroke-width="0.85"/>
<circle cx="396.2" cy="282.7" r="2.5" fill="#e2702c" stroke="#6a3410" stroke-width="0.85"/>
<circle cx="387.3" cy="286.9" r="2.5" fill="#e2702c" stroke="#6a3410" stroke-width="0.85"/>
<circle cx="393.8" cy="288.6" r="2.5" fill="#e2702c" stroke="#6a3410" stroke-width="0.85"/>
<circle cx="403.9" cy="274.8" r="2.5" fill="#e2702c" stroke="#6a3410" stroke-width="0.85"/>
<circle cx="412.8" cy="275.6" r="2.5" fill="#e2702c" stroke="#6a3410" stroke-width="0.85"/>
<circle cx="408.6" cy="291.6" r="2.5" fill="#e2702c" stroke="#6a3410" stroke-width="0.85"/>
<circle cx="412.8" cy="294.5" r="2.5" fill="#e2702c" stroke="#6a3410" stroke-width="0.85"/>
<circle cx="408" cy="297.5" r="2.5" fill="#e2702c" stroke="#6a3410" stroke-width="0.85"/>
<circle cx="351.8" cy="306.2" r="2.5" fill="#e2702c" stroke="#6a3410" stroke-width="0.85"/>
<circle cx="350.1" cy="310.4" r="2.5" fill="#e2702c" stroke="#6a3410" stroke-width="0.85"/>
<circle cx="354.8" cy="310.4" r="2.5" fill="#e2702c" stroke="#6a3410" stroke-width="0.85"/>
<circle cx="351.8" cy="313.3" r="2.5" fill="#e2702c" stroke="#6a3410" stroke-width="0.85"/>
<circle cx="385.6" cy="306.2" r="2.5" fill="#e2702c" stroke="#6a3410" stroke-width="0.85"/>
<circle cx="392.7" cy="306.2" r="2.5" fill="#e2702c" stroke="#6a3410" stroke-width="0.85"/>
<circle cx="390.3" cy="309.8" r="2.5" fill="#e2702c" stroke="#6a3410" stroke-width="0.85"/>
<circle cx="369.6" cy="319.9" r="2.5" fill="#e2702c" stroke="#6a3410" stroke-width="0.85"/>
<circle cx="374.9" cy="317.5" r="2.5" fill="#e2702c" stroke="#6a3410" stroke-width="0.85"/>
<circle cx="378.5" cy="321.6" r="2.5" fill="#e2702c" stroke="#6a3410" stroke-width="0.85"/>
<circle cx="370.2" cy="324" r="2.5" fill="#e2702c" stroke="#6a3410" stroke-width="0.85"/>
<circle cx="377.9" cy="325.2" r="2.5" fill="#e2702c" stroke="#6a3410" stroke-width="0.85"/>
<circle cx="367.2" cy="322.2" r="2.5" fill="#e2702c" stroke="#6a3410" stroke-width="0.85"/>
<circle cx="400.4" cy="318.7" r="2.5" fill="#e2702c" stroke="#6a3410" stroke-width="0.85"/>
<circle cx="403.9" cy="316.1" r="2.5" fill="#e2702c" stroke="#6a3410" stroke-width="0.85"/>
<circle cx="401" cy="322.8" r="2.5" fill="#e2702c" stroke="#6a3410" stroke-width="0.85"/>
<circle cx="405.1" cy="324.6" r="2.5" fill="#e2702c" stroke="#6a3410" stroke-width="0.85"/>
<circle cx="407.5" cy="299.1" r="2.5" fill="#e2702c" stroke="#6a3410" stroke-width="0.85"/>
<circle cx="412.2" cy="296.2" r="2.5" fill="#e2702c" stroke="#6a3410" stroke-width="0.85"/>
<circle cx="233.5" cy="276.3" r="2.5" fill="#e2702c" stroke="#6a3410" stroke-width="0.85"/>
<circle cx="230.4" cy="279" r="2.5" fill="#e2702c" stroke="#6a3410" stroke-width="0.85"/>
<circle cx="234.9" cy="280.3" r="2.5" fill="#e2702c" stroke="#6a3410" stroke-width="0.85"/>
<circle cx="229.5" cy="281.6" r="2.5" fill="#e2702c" stroke="#6a3410" stroke-width="0.85"/>
<circle cx="233.1" cy="283.8" r="2.5" fill="#e2702c" stroke="#6a3410" stroke-width="0.85"/>
<circle cx="260.2" cy="281.6" r="2.5" fill="#e2702c" stroke="#6a3410" stroke-width="0.85"/>
<circle cx="265" cy="280.7" r="2.5" fill="#e2702c" stroke="#6a3410" stroke-width="0.85"/>
<circle cx="269.5" cy="281.6" r="2.5" fill="#e2702c" stroke="#6a3410" stroke-width="0.85"/>
<circle cx="265.5" cy="284.7" r="2.5" fill="#e2702c" stroke="#6a3410" stroke-width="0.85"/>
<line x1="273.4" y1="308" x2="369.5" y2="308" stroke="#f4f4e8" stroke-width="1.3" stroke-dasharray="6,2.4,1.2,2.1"/>
<text x="259.6" y="328.6" font-size="19" font-weight="bold" fill="#fff">A</text>
<text x="346.2" y="330.5" font-size="19" font-weight="bold" fill="#fff">A</text>
<line x1="277.9" y1="334" x2="277.9" y2="312" stroke="#fff" stroke-width="1.6"/><path d="M274.5,313 L277.9,305.5 L281.3,313Z" fill="#fff"/>
<line x1="363" y1="336" x2="363" y2="313" stroke="#fff" stroke-width="1.6"/><path d="M359.6,314 L363,306.5 L366.4,314Z" fill="#fff"/>
<text x="5.2" y="412" font-size="20.5" font-weight="bold" fill="#000">e)</text>
<text x="150" y="414.1" font-size="16" font-weight="bold" text-anchor="middle" fill="#000">A-A cross-section</text>
<text x="150" y="436.5" font-size="19.4" font-weight="bold" text-anchor="middle" fill="#000">Case of conducting fibers</text>
<text x="150" y="460" font-size="19.4" font-weight="bold" text-anchor="middle" fill="#000">No particle self-organization</text>
<defs><radialGradient id="po" cx="0.5" cy="0.5" r="0.5"><stop offset="0" stop-color="#cc5418"/><stop offset="0.4" stop-color="#dc6624"/><stop offset="1" stop-color="#c0561a"/></radialGradient><radialGradient id="pg" cx="0.5" cy="0.5" r="0.5"><stop offset="0" stop-color="#8a8a30"/><stop offset="0.45" stop-color="#5e9a3a"/><stop offset="1" stop-color="#4a9a3e"/></radialGradient></defs>
<rect x="4" y="578" width="295" height="19.8" fill="#78d69a"/>
<line x1="4" y1="578.3" x2="299" y2="578.3" stroke="#3f9e5e" stroke-width="0.9"/>
<line x1="4" y1="582.3" x2="299" y2="582.3" stroke="#dcfbe6" stroke-width="1"/>
<line x1="4" y1="588.5" x2="299" y2="588.5" stroke="#dcfbe6" stroke-width="1"/>
<line x1="4" y1="593.2" x2="299" y2="593.2" stroke="#dcfbe6" stroke-width="1"/>
<line x1="4" y1="583.4" x2="299" y2="583.4" stroke="#5cc27e" stroke-width="0.8"/>
<line x1="4" y1="589.6" x2="299" y2="589.6" stroke="#5cc27e" stroke-width="0.8"/>
<line x1="4" y1="594.2" x2="299" y2="594.2" stroke="#5cc27e" stroke-width="0.8"/>
<rect x="1" y="597.6" width="300" height="2.4" fill="#000"/>
<rect x="1" y="600" width="300" height="15.3" fill="#b0b0b0"/>
<text x="86.8" y="612.6" font-size="16.2" fill="#111">collector surface</text>
<circle cx="17.1" cy="591.2" r="5.2" fill="url(#po)" stroke="#6a3c14" stroke-width="0.8"/>
<circle cx="28.8" cy="581.6" r="5.2" fill="url(#pg)" stroke="#6a3c14" stroke-width="0.8"/>
<circle cx="39.3" cy="591.2" r="5.2" fill="url(#pg)" stroke="#6a3c14" stroke-width="0.8"/>
<circle cx="53.7" cy="581" r="5.2" fill="url(#po)" stroke="#6a3c14" stroke-width="0.8"/>
<circle cx="67" cy="591.2" r="5.2" fill="url(#po)" stroke="#6a3c14" stroke-width="0.8"/>
<circle cx="88.8" cy="586" r="5.2" fill="url(#pg)" stroke="#6a3c14" stroke-width="0.8"/>
<circle cx="111.6" cy="583.2" r="5.2" fill="url(#pg)" stroke="#6a3c14" stroke-width="0.8"/>
<circle cx="128.7" cy="585" r="5.2" fill="url(#pg)" stroke="#6a3c14" stroke-width="0.8"/>
<circle cx="155.6" cy="590.9" r="5.2" fill="url(#pg)" stroke="#6a3c14" stroke-width="0.8"/>
<circle cx="169.7" cy="582.1" r="5.2" fill="url(#pg)" stroke="#6a3c14" stroke-width="0.8"/>
<circle cx="187.8" cy="590.9" r="5.2" fill="url(#po)" stroke="#6a3c14" stroke-width="0.8"/>
<circle cx="197.3" cy="581.3" r="5.2" fill="url(#po)" stroke="#6a3c14" stroke-width="0.8"/>
<circle cx="214.2" cy="591.4" r="5.2" fill="url(#pg)" stroke="#6a3c14" stroke-width="0.8"/>
<circle cx="228.8" cy="582.1" r="5.2" fill="url(#pg)" stroke="#6a3c14" stroke-width="0.8"/>
<circle cx="246.9" cy="588.4" r="5.2" fill="url(#po)" stroke="#6a3c14" stroke-width="0.8"/>
<circle cx="273.3" cy="590.9" r="5.2" fill="url(#po)" stroke="#6a3c14" stroke-width="0.8"/>
<circle cx="289.1" cy="583.9" r="5.2" fill="url(#pg)" stroke="#6a3c14" stroke-width="0.8"/>
<text x="372.2" y="411.7" font-size="20.3" font-weight="bold" fill="#000">f)</text>
<text x="519" y="414.6" font-size="16" font-weight="bold" text-anchor="middle" fill="#000">A-A cross-section</text>
<text x="519" y="437.6" font-size="19.4" font-weight="bold" text-anchor="middle" fill="#000">Case of insulating fibers</text>
<text x="519" y="460.2" font-size="19.4" font-weight="bold" text-anchor="middle" fill="#000">Particle self-organization</text>
<text x="506.5" y="489.5" font-size="14.6" font-weight="bold" text-anchor="middle" fill="#b01c24">Repulsive</text>
<text x="506" y="506.4" font-size="14.6" font-weight="bold" text-anchor="middle" fill="#b01c24">forces</text>
<text x="602" y="478.4" font-size="14.8" font-weight="bold" fill="#2274b6">Attractive</text>
<text x="602" y="496.3" font-size="14.8" font-weight="bold" fill="#2274b6">forces</text>
<rect x="372" y="546.8" width="292" height="2.4" fill="#c8f0d6"/>
<rect x="372" y="566.4" width="292" height="5.2" fill="#eefbf3"/>
<rect x="372" y="586.6" width="292" height="11" fill="#e2f7ea"/>
<line x1="372" y1="546.8" x2="664" y2="546.8" stroke="#4caa70" stroke-width="1.5"/>
<line x1="372" y1="549.2" x2="664" y2="549.2" stroke="#4caa70" stroke-width="1.5"/>
<line x1="372" y1="555" x2="664" y2="555" stroke="#4caa70" stroke-width="1.5"/>
<line x1="372" y1="566.4" x2="664" y2="566.4" stroke="#4caa70" stroke-width="1.5"/>
<line x1="372" y1="571.6" x2="664" y2="571.6" stroke="#4caa70" stroke-width="1.5"/>
<line x1="372" y1="586.6" x2="664" y2="586.6" stroke="#4caa70" stroke-width="1.5"/>
<line x1="372" y1="590.2" x2="664" y2="590.2" stroke="#4caa70" stroke-width="1.5"/>
<line x1="372" y1="594.2" x2="664" y2="594.2" stroke="#4caa70" stroke-width="1.5"/>
<rect x="369" y="597.6" width="300.2" height="2.4" fill="#000"/>
<rect x="369" y="600" width="300.2" height="14.8" fill="#b0b0b0"/>
<text x="454.9" y="612.8" font-size="16.2" fill="#111">collector surface</text>
<line x1="418.9" y1="476" x2="418.9" y2="527" stroke="#2a7ab8" stroke-width="2.2"/><path d="M415.09999999999997,526 L422.7,526 L418.9,534Z" fill="#2a7ab8"/>
<line x1="430.8" y1="476" x2="430.8" y2="527" stroke="#2a7ab8" stroke-width="2.2"/><path d="M427.0,526 L434.6,526 L430.8,534Z" fill="#2a7ab8"/>
<line x1="443" y1="476" x2="443" y2="527" stroke="#2a7ab8" stroke-width="2.2"/><path d="M439.2,526 L446.8,526 L443,534Z" fill="#2a7ab8"/>
<line x1="565.8" y1="476" x2="565.8" y2="527" stroke="#2a7ab8" stroke-width="2.2"/><path d="M562.0,526 L569.5999999999999,526 L565.8,534Z" fill="#2a7ab8"/>
<line x1="574.8" y1="476" x2="574.8" y2="527" stroke="#2a7ab8" stroke-width="2.2"/><path d="M571.0,526 L578.5999999999999,526 L574.8,534Z" fill="#2a7ab8"/>
<line x1="586.9" y1="476" x2="586.9" y2="527" stroke="#2a7ab8" stroke-width="2.2"/><path d="M583.1,526 L590.6999999999999,526 L586.9,534Z" fill="#2a7ab8"/>
<line x1="598.5" y1="476" x2="598.5" y2="527" stroke="#2a7ab8" stroke-width="2.2"/><path d="M594.7,526 L602.3,526 L598.5,534Z" fill="#2a7ab8"/>
<line x1="381" y1="529" x2="381" y2="516" stroke="#b01c24" stroke-width="2.4"/><path d="M377.4,517.5 L384.6,517.5 L381,510.5Z" fill="#b01c24"/>
<line x1="392" y1="529" x2="392" y2="516" stroke="#b01c24" stroke-width="2.4"/><path d="M388.4,517.5 L395.6,517.5 L392,510.5Z" fill="#b01c24"/>
<line x1="403.5" y1="529" x2="403.5" y2="516" stroke="#b01c24" stroke-width="2.4"/><path d="M399.9,517.5 L407.1,517.5 L403.5,510.5Z" fill="#b01c24"/>
<line x1="458.6" y1="529" x2="458.6" y2="516" stroke="#b01c24" stroke-width="2.4"/><path d="M455.0,517.5 L462.20000000000005,517.5 L458.6,510.5Z" fill="#b01c24"/>
<line x1="470.2" y1="529" x2="470.2" y2="516" stroke="#b01c24" stroke-width="2.4"/><path d="M466.59999999999997,517.5 L473.8,517.5 L470.2,510.5Z" fill="#b01c24"/>
<line x1="481.5" y1="529" x2="481.5" y2="516" stroke="#b01c24" stroke-width="2.4"/><path d="M477.9,517.5 L485.1,517.5 L481.5,510.5Z" fill="#b01c24"/>
<line x1="493.2" y1="529" x2="493.2" y2="516" stroke="#b01c24" stroke-width="2.4"/><path d="M489.59999999999997,517.5 L496.8,517.5 L493.2,510.5Z" fill="#b01c24"/>
<line x1="504.3" y1="529" x2="504.3" y2="516" stroke="#b01c24" stroke-width="2.4"/><path d="M500.7,517.5 L507.90000000000003,517.5 L504.3,510.5Z" fill="#b01c24"/>
<line x1="515.7" y1="529" x2="515.7" y2="516" stroke="#b01c24" stroke-width="2.4"/><path d="M512.1,517.5 L519.3000000000001,517.5 L515.7,510.5Z" fill="#b01c24"/>
<line x1="527.1" y1="529" x2="527.1" y2="516" stroke="#b01c24" stroke-width="2.4"/><path d="M523.5,517.5 L530.7,517.5 L527.1,510.5Z" fill="#b01c24"/>
<line x1="538.1" y1="529" x2="538.1" y2="516" stroke="#b01c24" stroke-width="2.4"/><path d="M534.5,517.5 L541.7,517.5 L538.1,510.5Z" fill="#b01c24"/>
<line x1="549.5" y1="529" x2="549.5" y2="516" stroke="#b01c24" stroke-width="2.4"/><path d="M545.9,517.5 L553.1,517.5 L549.5,510.5Z" fill="#b01c24"/>
<line x1="613.4" y1="529" x2="613.4" y2="516" stroke="#b01c24" stroke-width="2.4"/><path d="M609.8,517.5 L617.0,517.5 L613.4,510.5Z" fill="#b01c24"/>
<line x1="627" y1="529" x2="627" y2="516" stroke="#b01c24" stroke-width="2.4"/><path d="M623.4,517.5 L630.6,517.5 L627,510.5Z" fill="#b01c24"/>
<line x1="641" y1="529" x2="641" y2="516" stroke="#b01c24" stroke-width="2.4"/><path d="M637.4,517.5 L644.6,517.5 L641,510.5Z" fill="#b01c24"/>
<line x1="655" y1="529" x2="655" y2="516" stroke="#b01c24" stroke-width="2.4"/><path d="M651.4,517.5 L658.6,517.5 L655,510.5Z" fill="#b01c24"/>
<path d="M375.3,538.3 h5.6 M378.1,535.5 v5.6" stroke="#b41e34" stroke-width="1.1"/>
<path d="M382.7,538.3 h5.6 M385.5,535.5 v5.6" stroke="#b41e34" stroke-width="1.1"/>
<path d="M390.1,538.3 h5.6 M392.90000000000003,535.5 v5.6" stroke="#b41e34" stroke-width="1.1"/>
<path d="M397.5,538.3 h5.6 M400.3,535.5 v5.6" stroke="#b41e34" stroke-width="1.1"/>
<path d="M404.90000000000003,538.3 h5.6 M407.70000000000005,535.5 v5.6" stroke="#b41e34" stroke-width="1.1"/>
<path d="M454.6,538.3 h5.6 M457.40000000000003,535.5 v5.6" stroke="#b41e34" stroke-width="1.1"/>
<path d="M462.05,538.3 h5.6 M464.85,535.5 v5.6" stroke="#b41e34" stroke-width="1.1"/>
<path d="M469.5,538.3 h5.6 M472.3,535.5 v5.6" stroke="#b41e34" stroke-width="1.1"/>
<path d="M476.95000000000005,538.3 h5.6 M479.75000000000006,535.5 v5.6" stroke="#b41e34" stroke-width="1.1"/>
<path d="M484.40000000000003,538.3 h5.6 M487.20000000000005,535.5 v5.6" stroke="#b41e34" stroke-width="1.1"/>
<path d="M491.85,538.3 h5.6 M494.65000000000003,535.5 v5.6" stroke="#b41e34" stroke-width="1.1"/>
<path d="M499.3,538.3 h5.6 M502.1,535.5 v5.6" stroke="#b41e34" stroke-width="1.1"/>
<path d="M506.75,538.3 h5.6 M509.55,535.5 v5.6" stroke="#b41e34" stroke-width="1.1"/>
<path d="M514.2,538.3 h5.6 M517.0,535.5 v5.6" stroke="#b41e34" stroke-width="1.1"/>
<path d="M521.6500000000001,538.3 h5.6 M524.45,535.5 v5.6" stroke="#b41e34" stroke-width="1.1"/>
<path d="M529.1000000000001,538.3 h5.6 M531.9000000000001,535.5 v5.6" stroke="#b41e34" stroke-width="1.1"/>
<path d="M536.5500000000001,538.3 h5.6 M539.35,535.5 v5.6" stroke="#b41e34" stroke-width="1.1"/>
<path d="M544.0000000000001,538.3 h5.6 M546.8000000000001,535.5 v5.6" stroke="#b41e34" stroke-width="1.1"/>
<path d="M551.45,538.3 h5.6 M554.25,535.5 v5.6" stroke="#b41e34" stroke-width="1.1"/>
<path d="M608.7,538.3 h5.6 M611.5,535.5 v5.6" stroke="#b41e34" stroke-width="1.1"/>
<path d="M616.0,538.3 h5.6 M618.8,535.5 v5.6" stroke="#b41e34" stroke-width="1.1"/>
<path d="M623.3000000000001,538.3 h5.6 M626.1,535.5 v5.6" stroke="#b41e34" stroke-width="1.1"/>
<path d="M630.6,538.3 h5.6 M633.4,535.5 v5.6" stroke="#b41e34" stroke-width="1.1"/>
<path d="M637.9000000000001,538.3 h5.6 M640.7,535.5 v5.6" stroke="#b41e34" stroke-width="1.1"/>
<path d="M645.2,538.3 h5.6 M648.0,535.5 v5.6" stroke="#b41e34" stroke-width="1.1"/>
<path d="M652.5,538.3 h5.6 M655.3,535.5 v5.6" stroke="#b41e34" stroke-width="1.1"/>
<circle cx="433.6" cy="554.3" r="5.4" fill="url(#pg)" stroke="#6a3c14" stroke-width="0.8"/>
<circle cx="425" cy="569.5" r="5.4" fill="url(#pg)" stroke="#6a3c14" stroke-width="0.8"/>
<circle cx="433.6" cy="569.5" r="5.4" fill="url(#pg)" stroke="#6a3c14" stroke-width="0.8"/>
<circle cx="428.7" cy="585.9" r="5.4" fill="url(#pg)" stroke="#6a3c14" stroke-width="0.8"/>
<circle cx="476.2" cy="573.7" r="5.4" fill="url(#pg)" stroke="#6a3c14" stroke-width="0.8"/>
<circle cx="584.5" cy="545.2" r="5.4" fill="url(#pg)" stroke="#6a3c14" stroke-width="0.8"/>
<circle cx="567.5" cy="556.8" r="5.4" fill="url(#pg)" stroke="#6a3c14" stroke-width="0.8"/>
<circle cx="590.8" cy="568.5" r="5.4" fill="url(#pg)" stroke="#6a3c14" stroke-width="0.8"/>
<circle cx="637.3" cy="566.7" r="5.4" fill="url(#pg)" stroke="#6a3c14" stroke-width="0.8"/>
<circle cx="645.4" cy="586.4" r="5.4" fill="url(#pg)" stroke="#6a3c14" stroke-width="0.8"/>
<circle cx="382.6" cy="583.3" r="5.4" fill="url(#po)" stroke="#6a3c14" stroke-width="0.8"/>
<circle cx="383.6" cy="591.4" r="5.4" fill="url(#po)" stroke="#6a3c14" stroke-width="0.8"/>
<circle cx="419" cy="548.2" r="5.4" fill="url(#po)" stroke="#6a3c14" stroke-width="0.8"/>
<circle cx="425.7" cy="547" r="5.4" fill="url(#po)" stroke="#6a3c14" stroke-width="0.8"/>
<circle cx="434.8" cy="547" r="5.4" fill="url(#po)" stroke="#6a3c14" stroke-width="0.8"/>
<circle cx="443.9" cy="547.6" r="5.4" fill="url(#po)" stroke="#6a3c14" stroke-width="0.8"/>
<circle cx="431.1" cy="560.4" r="5.4" fill="url(#po)" stroke="#6a3c14" stroke-width="0.8"/>
<circle cx="437.2" cy="561" r="5.4" fill="url(#po)" stroke="#6a3c14" stroke-width="0.8"/>
<circle cx="423.8" cy="558.6" r="5.4" fill="url(#po)" stroke="#6a3c14" stroke-width="0.8"/>
<circle cx="443.9" cy="558.6" r="5.4" fill="url(#po)" stroke="#6a3c14" stroke-width="0.8"/>
<circle cx="426.3" cy="579.2" r="5.4" fill="url(#po)" stroke="#6a3c14" stroke-width="0.8"/>
<circle cx="434.2" cy="577.4" r="5.4" fill="url(#po)" stroke="#6a3c14" stroke-width="0.8"/>
<circle cx="434.2" cy="592" r="5.4" fill="url(#po)" stroke="#6a3c14" stroke-width="0.8"/>
<circle cx="476.2" cy="575.3" r="5.4" fill="url(#po)" stroke="#6a3c14" stroke-width="0.8"/>
<circle cx="485.1" cy="574.5" r="5.4" fill="url(#po)" stroke="#6a3c14" stroke-width="0.8"/>
<circle cx="477" cy="582.7" r="5.4" fill="url(#po)" stroke="#6a3c14" stroke-width="0.8"/>
<circle cx="485.1" cy="583" r="5.4" fill="url(#po)" stroke="#6a3c14" stroke-width="0.8"/>
<circle cx="481.9" cy="590.8" r="5.4" fill="url(#po)" stroke="#6a3c14" stroke-width="0.8"/>
<circle cx="517.7" cy="583" r="5.4" fill="url(#po)" stroke="#6a3c14" stroke-width="0.8"/>
<circle cx="526.6" cy="584.3" r="5.4" fill="url(#po)" stroke="#6a3c14" stroke-width="0.8"/>
<circle cx="578" cy="551.5" r="5.4" fill="url(#po)" stroke="#6a3c14" stroke-width="0.8"/>
<circle cx="586" cy="553" r="5.4" fill="url(#po)" stroke="#6a3c14" stroke-width="0.8"/>
<circle cx="575" cy="568" r="5.4" fill="url(#po)" stroke="#6a3c14" stroke-width="0.8"/>
<circle cx="583" cy="567.5" r="5.4" fill="url(#po)" stroke="#6a3c14" stroke-width="0.8"/>
<circle cx="567.9" cy="542.2" r="5.4" fill="url(#po)" stroke="#6a3c14" stroke-width="0.8"/>
<circle cx="577.4" cy="542.5" r="5.4" fill="url(#po)" stroke="#6a3c14" stroke-width="0.8"/>
<circle cx="592.6" cy="542.2" r="5.4" fill="url(#po)" stroke="#6a3c14" stroke-width="0.8"/>
<circle cx="601.2" cy="546.5" r="5.4" fill="url(#po)" stroke="#6a3c14" stroke-width="0.8"/>
<circle cx="569.7" cy="547.9" r="5.4" fill="url(#po)" stroke="#6a3c14" stroke-width="0.8"/>
<circle cx="593.5" cy="551.5" r="5.4" fill="url(#po)" stroke="#6a3c14" stroke-width="0.8"/>
<circle cx="578.3" cy="560.4" r="5.4" fill="url(#po)" stroke="#6a3c14" stroke-width="0.8"/>
<circle cx="587.2" cy="563.1" r="5.4" fill="url(#po)" stroke="#6a3c14" stroke-width="0.8"/>
<circle cx="570.2" cy="564.9" r="5.4" fill="url(#po)" stroke="#6a3c14" stroke-width="0.8"/>
<circle cx="576.5" cy="573.9" r="5.4" fill="url(#po)" stroke="#6a3c14" stroke-width="0.8"/>
<circle cx="585.4" cy="575.6" r="5.4" fill="url(#po)" stroke="#6a3c14" stroke-width="0.8"/>
<circle cx="577.4" cy="582.8" r="5.4" fill="url(#po)" stroke="#6a3c14" stroke-width="0.8"/>
<circle cx="585.4" cy="583.7" r="5.4" fill="url(#po)" stroke="#6a3c14" stroke-width="0.8"/>
<circle cx="628.4" cy="570.3" r="5.4" fill="url(#po)" stroke="#6a3c14" stroke-width="0.8"/>
<circle cx="643.6" cy="573" r="5.4" fill="url(#po)" stroke="#6a3c14" stroke-width="0.8"/>
<circle cx="634.6" cy="577.4" r="5.4" fill="url(#po)" stroke="#6a3c14" stroke-width="0.8"/>
<circle cx="643.6" cy="580.1" r="5.4" fill="url(#po)" stroke="#6a3c14" stroke-width="0.8"/>
<circle cx="635.5" cy="583.7" r="5.4" fill="url(#po)" stroke="#6a3c14" stroke-width="0.8"/>
<circle cx="640" cy="591.8" r="5.4" fill="url(#po)" stroke="#6a3c14" stroke-width="0.8"/>
<circle cx="405.6" cy="591.4" r="5.4" fill="url(#pg)" stroke="#6a3c14" stroke-width="0.8"/>
<circle cx="521.7" cy="591.6" r="5.4" fill="url(#pg)" stroke="#6a3c14" stroke-width="0.8"/>
<circle cx="581" cy="591.8" r="5.4" fill="url(#pg)" stroke="#6a3c14" stroke-width="0.8"/>
</svg></body></html>
